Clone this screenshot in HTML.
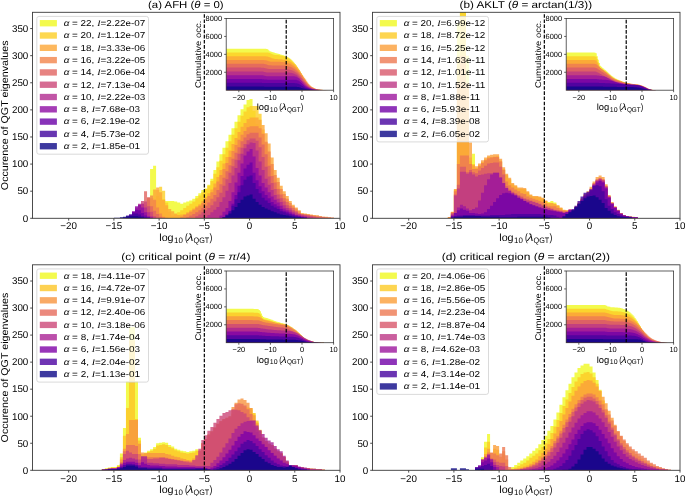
<!DOCTYPE html>
<html><head><meta charset="utf-8"><style>html,body{margin:0;padding:0;background:#fff;}svg{display:block;will-change:transform;}</style></head><body>
<svg width="685" height="496" viewBox="0 0 685 496" font-family='"Liberation Sans", sans-serif' fill="#000000" text-rendering="geometricPrecision">
<rect width="685" height="496" fill="#ffffff"/>
<clipPath id="clipa"><rect x="32.50" y="12.30" width="307.50" height="206.00"/></clipPath>
<g clip-path="url(#clipa)">
<path d="M32.50,218.30L32.50,218.30L35.51,218.30L35.51,218.30L38.53,218.30L38.53,218.30L41.54,218.30L41.54,218.30L44.56,218.30L44.56,218.30L47.57,218.30L47.57,218.30L50.59,218.30L50.59,218.30L53.60,218.30L53.60,218.30L56.62,218.30L56.62,218.30L59.63,218.30L59.63,218.30L62.65,218.30L62.65,218.30L65.66,218.30L65.66,218.30L68.68,218.30L68.68,218.30L71.69,218.30L71.69,218.30L74.71,218.30L74.71,218.30L77.72,218.30L77.72,218.30L80.74,218.30L80.74,218.30L83.75,218.30L83.75,218.30L86.76,218.30L86.76,218.30L89.78,218.30L89.78,218.30L92.79,218.30L92.79,218.30L95.81,218.30L95.81,218.30L98.82,218.30L98.82,218.30L101.84,218.30L101.84,218.30L104.85,218.30L104.85,218.30L107.87,218.30L107.87,218.30L110.88,218.30L110.88,218.30L113.90,218.30L113.90,218.30L116.91,218.30L116.91,218.30L119.93,218.30L119.93,218.30L122.94,218.30L122.94,218.30L125.96,218.30L125.96,218.30L128.97,218.30L128.97,218.30L131.99,218.30L131.99,218.30L135.00,218.30L135.00,218.30L138.01,218.30L138.01,218.30L141.03,218.30L141.03,218.30L144.04,218.30L144.04,207.46L147.06,207.46L147.06,198.24L150.07,198.24L150.07,168.97L153.09,168.97L153.09,165.72L156.10,165.72L156.10,196.07L159.12,196.07L159.12,197.70L162.13,197.70L162.13,199.33L165.15,199.33L165.15,200.95L168.16,200.95L168.16,200.95L171.18,200.95L171.18,200.95L174.19,200.95L174.19,201.49L177.21,201.49L177.21,202.58L180.22,202.58L180.22,203.66L183.24,203.66L183.24,202.58L186.25,202.58L186.25,201.49L189.26,201.49L189.26,200.41L192.28,200.41L192.28,198.78L195.29,198.78L195.29,196.07L198.31,196.07L198.31,193.36L201.32,193.36L201.32,190.11L204.34,190.11L204.34,188.48L207.35,188.48L207.35,184.69L210.37,184.69L210.37,178.73L213.38,178.73L213.38,170.05L216.40,170.05L216.40,161.38L219.41,161.38L219.41,154.33L222.43,154.33L222.43,147.83L225.44,147.83L225.44,141.32L228.46,141.32L228.46,134.82L231.47,134.82L231.47,128.31L234.49,128.31L234.49,121.81L237.50,121.81L237.50,115.30L240.51,115.30L240.51,109.34L243.53,109.34L243.53,104.46L246.54,104.46L246.54,100.12L249.56,100.12L249.56,99.04L252.57,99.04L252.57,110.96L255.59,110.96L255.59,123.97L258.60,123.97L258.60,136.98L261.62,136.98L261.62,149.45L264.63,149.45L264.63,161.38L267.65,161.38L267.65,171.14L270.66,171.14L270.66,180.89L273.68,180.89L273.68,189.03L276.69,189.03L276.69,196.07L279.71,196.07L279.71,202.04L282.72,202.04L282.72,205.29L285.74,205.29L285.74,208.54L288.75,208.54L288.75,211.79L291.76,211.79L291.76,213.42L294.78,213.42L294.78,215.05L297.79,215.05L297.79,216.13L300.81,216.13L300.81,217.22L303.82,217.22L303.82,218.30L306.84,218.30L306.84,218.30L309.85,218.30L309.85,218.30L312.87,218.30L312.87,218.30L315.88,218.30L315.88,218.30L318.90,218.30L318.90,218.30L321.91,218.30L321.91,218.30L324.93,218.30L324.93,218.30L327.94,218.30L327.94,218.30L330.96,218.30L330.96,218.30L333.97,218.30L333.97,218.30L336.99,218.30L336.99,218.30L340.00,218.30L340.00,218.30Z" fill="#f0f921" fill-opacity="0.8"/>
<path d="M32.50,218.30L32.50,218.30L35.51,218.30L35.51,218.30L38.53,218.30L38.53,218.30L41.54,218.30L41.54,218.30L44.56,218.30L44.56,218.30L47.57,218.30L47.57,218.30L50.59,218.30L50.59,218.30L53.60,218.30L53.60,218.30L56.62,218.30L56.62,218.30L59.63,218.30L59.63,218.30L62.65,218.30L62.65,218.30L65.66,218.30L65.66,218.30L68.68,218.30L68.68,218.30L71.69,218.30L71.69,218.30L74.71,218.30L74.71,218.30L77.72,218.30L77.72,218.30L80.74,218.30L80.74,218.30L83.75,218.30L83.75,218.30L86.76,218.30L86.76,218.30L89.78,218.30L89.78,218.30L92.79,218.30L92.79,218.30L95.81,218.30L95.81,218.30L98.82,218.30L98.82,218.30L101.84,218.30L101.84,218.30L104.85,218.30L104.85,218.30L107.87,218.30L107.87,218.30L110.88,218.30L110.88,218.30L113.90,218.30L113.90,218.30L116.91,218.30L116.91,218.30L119.93,218.30L119.93,218.30L122.94,218.30L122.94,218.30L125.96,218.30L125.96,218.30L128.97,218.30L128.97,218.30L131.99,218.30L131.99,218.30L135.00,218.30L135.00,218.30L138.01,218.30L138.01,218.30L141.03,218.30L141.03,218.30L144.04,218.30L144.04,217.76L147.06,217.76L147.06,216.13L150.07,216.13L150.07,210.71L153.09,210.71L153.09,200.95L156.10,200.95L156.10,190.11L159.12,190.11L159.12,186.86L162.13,186.86L162.13,190.65L165.15,190.65L165.15,202.58L168.16,202.58L168.16,211.79L171.18,211.79L171.18,215.59L174.19,215.59L174.19,214.51L177.21,214.51L177.21,212.34L180.22,212.34L180.22,210.17L183.24,210.17L183.24,208.00L186.25,208.00L186.25,205.83L189.26,205.83L189.26,203.66L192.28,203.66L192.28,201.49L195.29,201.49L195.29,198.24L198.31,198.24L198.31,195.53L201.32,195.53L201.32,192.28L204.34,192.28L204.34,189.03L207.35,189.03L207.35,185.77L210.37,185.77L210.37,180.89L213.38,180.89L213.38,173.85L216.40,173.85L216.40,167.34L219.41,167.34L219.41,160.84L222.43,160.84L222.43,154.33L225.44,154.33L225.44,147.83L228.46,147.83L228.46,141.32L231.47,141.32L231.47,134.82L234.49,134.82L234.49,128.31L237.50,128.31L237.50,121.81L240.51,121.81L240.51,115.84L243.53,115.84L243.53,111.51L246.54,111.51L246.54,107.17L249.56,107.17L249.56,106.08L252.57,106.08L252.57,106.08L255.59,106.08L255.59,106.08L258.60,106.08L258.60,113.67L261.62,113.67L261.62,129.39L264.63,129.39L264.63,143.49L267.65,143.49L267.65,157.04L270.66,157.04L270.66,168.43L273.68,168.43L273.68,179.27L276.69,179.27L276.69,187.94L279.71,187.94L279.71,194.45L282.72,194.45L282.72,200.95L285.74,200.95L285.74,204.21L288.75,204.21L288.75,207.46L291.76,207.46L291.76,210.71L294.78,210.71L294.78,212.88L297.79,212.88L297.79,214.51L300.81,214.51L300.81,215.59L303.82,215.59L303.82,216.67L306.84,216.67L306.84,218.30L309.85,218.30L309.85,218.30L312.87,218.30L312.87,218.30L315.88,218.30L315.88,218.30L318.90,218.30L318.90,218.30L321.91,218.30L321.91,218.30L324.93,218.30L324.93,218.30L327.94,218.30L327.94,218.30L330.96,218.30L330.96,218.30L333.97,218.30L333.97,218.30L336.99,218.30L336.99,218.30L340.00,218.30L340.00,218.30Z" fill="#fcce25" fill-opacity="0.8"/>
<path d="M32.50,218.30L32.50,218.30L35.51,218.30L35.51,218.30L38.53,218.30L38.53,218.30L41.54,218.30L41.54,218.30L44.56,218.30L44.56,218.30L47.57,218.30L47.57,218.30L50.59,218.30L50.59,218.30L53.60,218.30L53.60,218.30L56.62,218.30L56.62,218.30L59.63,218.30L59.63,218.30L62.65,218.30L62.65,218.30L65.66,218.30L65.66,218.30L68.68,218.30L68.68,218.30L71.69,218.30L71.69,218.30L74.71,218.30L74.71,218.30L77.72,218.30L77.72,218.30L80.74,218.30L80.74,218.30L83.75,218.30L83.75,218.30L86.76,218.30L86.76,218.30L89.78,218.30L89.78,218.30L92.79,218.30L92.79,218.30L95.81,218.30L95.81,218.30L98.82,218.30L98.82,218.30L101.84,218.30L101.84,218.30L104.85,218.30L104.85,218.30L107.87,218.30L107.87,218.30L110.88,218.30L110.88,218.30L113.90,218.30L113.90,218.30L116.91,218.30L116.91,218.30L119.93,218.30L119.93,218.30L122.94,218.30L122.94,218.30L125.96,218.30L125.96,218.30L128.97,218.30L128.97,218.30L131.99,218.30L131.99,218.30L135.00,218.30L135.00,218.30L138.01,218.30L138.01,218.30L141.03,218.30L141.03,217.22L144.04,217.22L144.04,214.51L147.06,214.51L147.06,208.00L150.07,208.00L150.07,198.24L153.09,198.24L153.09,189.57L156.10,189.57L156.10,187.40L159.12,187.40L159.12,192.28L162.13,192.28L162.13,199.87L165.15,199.87L165.15,205.29L168.16,205.29L168.16,209.08L171.18,209.08L171.18,211.25L174.19,211.25L174.19,213.42L177.21,213.42L177.21,215.05L180.22,215.05L180.22,214.51L183.24,214.51L183.24,213.96L186.25,213.96L186.25,212.34L189.26,212.34L189.26,210.17L192.28,210.17L192.28,208.54L195.29,208.54L195.29,206.37L198.31,206.37L198.31,204.21L201.32,204.21L201.32,200.95L204.34,200.95L204.34,197.16L207.35,197.16L207.35,193.36L210.37,193.36L210.37,189.57L213.38,189.57L213.38,183.61L216.40,183.61L216.40,177.10L219.41,177.10L219.41,170.05L222.43,170.05L222.43,163.55L225.44,163.55L225.44,157.04L228.46,157.04L228.46,150.54L231.47,150.54L231.47,144.03L234.49,144.03L234.49,138.07L237.50,138.07L237.50,132.11L240.51,132.11L240.51,126.68L243.53,126.68L243.53,122.89L246.54,122.89L246.54,119.09L249.56,119.09L249.56,117.47L252.57,117.47L252.57,117.47L255.59,117.47L255.59,117.47L258.60,117.47L258.60,119.64L261.62,119.64L261.62,125.06L264.63,125.06L264.63,133.19L267.65,133.19L267.65,143.49L270.66,143.49L270.66,157.58L273.68,157.58L273.68,170.05L276.69,170.05L276.69,177.64L279.71,177.64L279.71,185.77L282.72,185.77L282.72,191.19L285.74,191.19L285.74,196.07L288.75,196.07L288.75,200.95L291.76,200.95L291.76,204.75L294.78,204.75L294.78,207.46L297.79,207.46L297.79,210.17L300.81,210.17L300.81,212.88L303.82,212.88L303.82,213.42L306.84,213.42L306.84,213.96L309.85,213.96L309.85,214.51L312.87,214.51L312.87,215.05L315.88,215.05L315.88,215.59L318.90,215.59L318.90,216.13L321.91,216.13L321.91,216.67L324.93,216.67L324.93,216.67L327.94,216.67L327.94,217.22L330.96,217.22L330.96,217.76L333.97,217.76L333.97,218.30L336.99,218.30L336.99,218.30L340.00,218.30L340.00,218.30Z" fill="#fca636" fill-opacity="0.8"/>
<path d="M32.50,218.30L32.50,218.30L35.51,218.30L35.51,218.30L38.53,218.30L38.53,218.30L41.54,218.30L41.54,218.30L44.56,218.30L44.56,218.30L47.57,218.30L47.57,218.30L50.59,218.30L50.59,218.30L53.60,218.30L53.60,218.30L56.62,218.30L56.62,218.30L59.63,218.30L59.63,218.30L62.65,218.30L62.65,218.30L65.66,218.30L65.66,218.30L68.68,218.30L68.68,218.30L71.69,218.30L71.69,218.30L74.71,218.30L74.71,218.30L77.72,218.30L77.72,218.30L80.74,218.30L80.74,218.30L83.75,218.30L83.75,218.30L86.76,218.30L86.76,218.30L89.78,218.30L89.78,218.30L92.79,218.30L92.79,218.30L95.81,218.30L95.81,218.30L98.82,218.30L98.82,218.30L101.84,218.30L101.84,218.30L104.85,218.30L104.85,218.30L107.87,218.30L107.87,218.30L110.88,218.30L110.88,218.30L113.90,218.30L113.90,218.30L116.91,218.30L116.91,218.30L119.93,218.30L119.93,218.30L122.94,218.30L122.94,218.30L125.96,218.30L125.96,218.30L128.97,218.30L128.97,218.30L131.99,218.30L131.99,218.30L135.00,218.30L135.00,217.76L138.01,217.76L138.01,215.59L141.03,215.59L141.03,211.25L144.04,211.25L144.04,204.75L147.06,204.75L147.06,197.70L150.07,197.70L150.07,195.53L153.09,195.53L153.09,199.87L156.10,199.87L156.10,207.46L159.12,207.46L159.12,213.42L162.13,213.42L162.13,216.67L165.15,216.67L165.15,217.76L168.16,217.76L168.16,218.30L171.18,218.30L171.18,218.30L174.19,218.30L174.19,218.30L177.21,218.30L177.21,218.30L180.22,218.30L180.22,216.67L183.24,216.67L183.24,215.05L186.25,215.05L186.25,213.42L189.26,213.42L189.26,211.79L192.28,211.79L192.28,209.63L195.29,209.63L195.29,207.46L198.31,207.46L198.31,205.83L201.32,205.83L201.32,203.12L204.34,203.12L204.34,199.33L207.35,199.33L207.35,196.07L210.37,196.07L210.37,192.28L213.38,192.28L213.38,187.40L216.40,187.40L216.40,181.44L219.41,181.44L219.41,174.93L222.43,174.93L222.43,168.97L225.44,168.97L225.44,163.01L228.46,163.01L228.46,157.04L231.47,157.04L231.47,151.08L234.49,151.08L234.49,145.12L237.50,145.12L237.50,139.69L240.51,139.69L240.51,134.82L243.53,134.82L243.53,131.02L246.54,131.02L246.54,127.23L249.56,127.23L249.56,126.14L252.57,126.14L252.57,126.14L255.59,126.14L255.59,126.14L258.60,126.14L258.60,128.31L261.62,128.31L261.62,133.73L264.63,133.73L264.63,141.86L267.65,141.86L267.65,151.62L270.66,151.62L270.66,164.09L273.68,164.09L273.68,174.93L276.69,174.93L276.69,181.98L279.71,181.98L279.71,189.03L282.72,189.03L282.72,193.91L285.74,193.91L285.74,198.78L288.75,198.78L288.75,203.12L291.76,203.12L291.76,206.37L294.78,206.37L294.78,208.54L297.79,208.54L297.79,211.25L300.81,211.25L300.81,213.96L303.82,213.96L303.82,213.96L306.84,213.96L306.84,214.51L309.85,214.51L309.85,215.05L312.87,215.05L312.87,215.59L315.88,215.59L315.88,215.59L318.90,215.59L318.90,216.13L321.91,216.13L321.91,216.67L324.93,216.67L324.93,217.22L327.94,217.22L327.94,217.76L330.96,217.76L330.96,217.76L333.97,217.76L333.97,218.30L336.99,218.30L336.99,218.30L340.00,218.30L340.00,218.30Z" fill="#f2844b" fill-opacity="0.8"/>
<path d="M32.50,218.30L32.50,218.30L35.51,218.30L35.51,218.30L38.53,218.30L38.53,218.30L41.54,218.30L41.54,218.30L44.56,218.30L44.56,218.30L47.57,218.30L47.57,218.30L50.59,218.30L50.59,218.30L53.60,218.30L53.60,218.30L56.62,218.30L56.62,218.30L59.63,218.30L59.63,218.30L62.65,218.30L62.65,218.30L65.66,218.30L65.66,218.30L68.68,218.30L68.68,218.30L71.69,218.30L71.69,218.30L74.71,218.30L74.71,218.30L77.72,218.30L77.72,218.30L80.74,218.30L80.74,218.30L83.75,218.30L83.75,218.30L86.76,218.30L86.76,218.30L89.78,218.30L89.78,218.30L92.79,218.30L92.79,218.30L95.81,218.30L95.81,218.30L98.82,218.30L98.82,218.30L101.84,218.30L101.84,218.30L104.85,218.30L104.85,218.30L107.87,218.30L107.87,218.30L110.88,218.30L110.88,218.30L113.90,218.30L113.90,218.30L116.91,218.30L116.91,218.30L119.93,218.30L119.93,218.30L122.94,218.30L122.94,218.30L125.96,218.30L125.96,218.30L128.97,218.30L128.97,218.30L131.99,218.30L131.99,218.30L135.00,218.30L135.00,217.76L138.01,217.76L138.01,215.05L141.03,215.05L141.03,203.66L144.04,203.66L144.04,191.19L147.06,191.19L147.06,197.16L150.07,197.16L150.07,206.37L153.09,206.37L153.09,210.71L156.10,210.71L156.10,213.96L159.12,213.96L159.12,216.67L162.13,216.67L162.13,217.76L165.15,217.76L165.15,218.30L168.16,218.30L168.16,218.30L171.18,218.30L171.18,218.30L174.19,218.30L174.19,218.30L177.21,218.30L177.21,218.30L180.22,218.30L180.22,218.30L183.24,218.30L183.24,218.30L186.25,218.30L186.25,217.22L189.26,217.22L189.26,215.59L192.28,215.59L192.28,213.96L195.29,213.96L195.29,212.34L198.31,212.34L198.31,210.17L201.32,210.17L201.32,208.00L204.34,208.00L204.34,205.83L207.35,205.83L207.35,202.58L210.37,202.58L210.37,198.78L213.38,198.78L213.38,194.99L216.40,194.99L216.40,190.11L219.41,190.11L219.41,184.15L222.43,184.15L222.43,177.64L225.44,177.64L225.44,171.14L228.46,171.14L228.46,165.17L231.47,165.17L231.47,158.67L234.49,158.67L234.49,152.71L237.50,152.71L237.50,147.28L240.51,147.28L240.51,141.32L243.53,141.32L243.53,137.53L246.54,137.53L246.54,134.27L249.56,134.27L249.56,132.65L252.57,132.65L252.57,132.65L255.59,132.65L255.59,132.65L258.60,132.65L258.60,137.53L261.62,137.53L261.62,144.57L264.63,144.57L264.63,154.33L267.65,154.33L267.65,165.72L270.66,165.72L270.66,176.02L273.68,176.02L273.68,182.52L276.69,182.52L276.69,189.03L279.71,189.03L279.71,194.45L282.72,194.45L282.72,198.24L285.74,198.24L285.74,202.04L288.75,202.04L288.75,205.83L291.76,205.83L291.76,208.00L294.78,208.00L294.78,210.71L297.79,210.71L297.79,212.88L300.81,212.88L300.81,213.96L303.82,213.96L303.82,214.51L306.84,214.51L306.84,215.05L309.85,215.05L309.85,215.59L312.87,215.59L312.87,216.13L315.88,216.13L315.88,216.67L318.90,216.67L318.90,216.67L321.91,216.67L321.91,217.22L324.93,217.22L324.93,217.76L327.94,217.76L327.94,217.76L330.96,217.76L330.96,217.76L333.97,217.76L333.97,218.30L336.99,218.30L336.99,218.30L340.00,218.30L340.00,218.30Z" fill="#e16462" fill-opacity="0.8"/>
<path d="M32.50,218.30L32.50,218.30L35.51,218.30L35.51,218.30L38.53,218.30L38.53,218.30L41.54,218.30L41.54,218.30L44.56,218.30L44.56,218.30L47.57,218.30L47.57,218.30L50.59,218.30L50.59,218.30L53.60,218.30L53.60,218.30L56.62,218.30L56.62,218.30L59.63,218.30L59.63,218.30L62.65,218.30L62.65,218.30L65.66,218.30L65.66,218.30L68.68,218.30L68.68,218.30L71.69,218.30L71.69,218.30L74.71,218.30L74.71,218.30L77.72,218.30L77.72,218.30L80.74,218.30L80.74,218.30L83.75,218.30L83.75,218.30L86.76,218.30L86.76,218.30L89.78,218.30L89.78,218.30L92.79,218.30L92.79,218.30L95.81,218.30L95.81,218.30L98.82,218.30L98.82,218.30L101.84,218.30L101.84,218.30L104.85,218.30L104.85,218.30L107.87,218.30L107.87,218.30L110.88,218.30L110.88,218.30L113.90,218.30L113.90,218.30L116.91,218.30L116.91,218.30L119.93,218.30L119.93,218.30L122.94,218.30L122.94,218.30L125.96,218.30L125.96,218.30L128.97,218.30L128.97,217.22L131.99,217.22L131.99,215.05L135.00,215.05L135.00,210.71L138.01,210.71L138.01,205.29L141.03,205.29L141.03,200.95L144.04,200.95L144.04,201.49L147.06,201.49L147.06,206.37L150.07,206.37L150.07,211.79L153.09,211.79L153.09,216.13L156.10,216.13L156.10,217.76L159.12,217.76L159.12,218.30L162.13,218.30L162.13,218.30L165.15,218.30L165.15,218.30L168.16,218.30L168.16,218.30L171.18,218.30L171.18,218.30L174.19,218.30L174.19,218.30L177.21,218.30L177.21,218.30L180.22,218.30L180.22,218.30L183.24,218.30L183.24,218.30L186.25,218.30L186.25,218.30L189.26,218.30L189.26,218.30L192.28,218.30L192.28,218.30L195.29,218.30L195.29,216.13L198.31,216.13L198.31,214.51L201.32,214.51L201.32,212.34L204.34,212.34L204.34,210.17L207.35,210.17L207.35,208.00L210.37,208.00L210.37,205.29L213.38,205.29L213.38,201.49L216.40,201.49L216.40,197.16L219.41,197.16L219.41,192.82L222.43,192.82L222.43,185.77L225.44,185.77L225.44,179.27L228.46,179.27L228.46,172.76L231.47,172.76L231.47,166.26L234.49,166.26L234.49,159.75L237.50,159.75L237.50,153.79L240.51,153.79L240.51,147.83L243.53,147.83L243.53,144.03L246.54,144.03L246.54,140.24L249.56,140.24L249.56,138.61L252.57,138.61L252.57,138.61L255.59,138.61L255.59,140.78L258.60,140.78L258.60,147.28L261.62,147.28L261.62,157.04L264.63,157.04L264.63,166.80L267.65,166.80L267.65,176.56L270.66,176.56L270.66,183.06L273.68,183.06L273.68,189.03L276.69,189.03L276.69,194.45L279.71,194.45L279.71,198.24L282.72,198.24L282.72,201.49L285.74,201.49L285.74,205.29L288.75,205.29L288.75,208.00L291.76,208.00L291.76,210.17L294.78,210.17L294.78,211.79L297.79,211.79L297.79,213.96L300.81,213.96L300.81,214.51L303.82,214.51L303.82,215.05L306.84,215.05L306.84,215.59L309.85,215.59L309.85,216.13L312.87,216.13L312.87,216.67L315.88,216.67L315.88,217.22L318.90,217.22L318.90,217.76L321.91,217.76L321.91,217.76L324.93,217.76L324.93,217.76L327.94,217.76L327.94,217.76L330.96,217.76L330.96,218.30L333.97,218.30L333.97,218.30L336.99,218.30L336.99,218.30L340.00,218.30L340.00,218.30Z" fill="#cc4778" fill-opacity="0.8"/>
<path d="M32.50,218.30L32.50,218.30L35.51,218.30L35.51,218.30L38.53,218.30L38.53,218.30L41.54,218.30L41.54,218.30L44.56,218.30L44.56,218.30L47.57,218.30L47.57,218.30L50.59,218.30L50.59,218.30L53.60,218.30L53.60,218.30L56.62,218.30L56.62,218.30L59.63,218.30L59.63,218.30L62.65,218.30L62.65,218.30L65.66,218.30L65.66,218.30L68.68,218.30L68.68,218.30L71.69,218.30L71.69,218.30L74.71,218.30L74.71,218.30L77.72,218.30L77.72,218.30L80.74,218.30L80.74,218.30L83.75,218.30L83.75,218.30L86.76,218.30L86.76,218.30L89.78,218.30L89.78,218.30L92.79,218.30L92.79,218.30L95.81,218.30L95.81,218.30L98.82,218.30L98.82,218.30L101.84,218.30L101.84,218.30L104.85,218.30L104.85,218.30L107.87,218.30L107.87,218.30L110.88,218.30L110.88,218.30L113.90,218.30L113.90,218.30L116.91,218.30L116.91,218.30L119.93,218.30L119.93,218.30L122.94,218.30L122.94,218.30L125.96,218.30L125.96,217.76L128.97,217.76L128.97,216.13L131.99,216.13L131.99,212.34L135.00,212.34L135.00,207.46L138.01,207.46L138.01,203.66L141.03,203.66L141.03,203.66L144.04,203.66L144.04,207.46L147.06,207.46L147.06,212.34L150.07,212.34L150.07,216.13L153.09,216.13L153.09,217.76L156.10,217.76L156.10,218.30L159.12,218.30L159.12,218.30L162.13,218.30L162.13,218.30L165.15,218.30L165.15,218.30L168.16,218.30L168.16,218.30L171.18,218.30L171.18,218.30L174.19,218.30L174.19,218.30L177.21,218.30L177.21,218.30L180.22,218.30L180.22,218.30L183.24,218.30L183.24,218.30L186.25,218.30L186.25,218.30L189.26,218.30L189.26,218.30L192.28,218.30L192.28,218.30L195.29,218.30L195.29,218.30L198.31,218.30L198.31,218.30L201.32,218.30L201.32,218.30L204.34,218.30L204.34,217.22L207.35,217.22L207.35,215.05L210.37,215.05L210.37,212.34L213.38,212.34L213.38,209.63L216.40,209.63L216.40,206.92L219.41,206.92L219.41,202.04L222.43,202.04L222.43,197.16L225.44,197.16L225.44,190.65L228.46,190.65L228.46,183.06L231.47,183.06L231.47,175.47L234.49,175.47L234.49,167.88L237.50,167.88L237.50,160.29L240.51,160.29L240.51,153.79L243.53,153.79L243.53,148.37L246.54,148.37L246.54,144.57L249.56,144.57L249.56,142.41L252.57,142.41L252.57,142.95L255.59,142.95L255.59,150.54L258.60,150.54L258.60,161.38L261.62,161.38L261.62,170.05L264.63,170.05L264.63,178.73L267.65,178.73L267.65,184.69L270.66,184.69L270.66,190.11L273.68,190.11L273.68,194.99L276.69,194.99L276.69,198.78L279.71,198.78L279.71,202.04L282.72,202.04L282.72,205.29L285.74,205.29L285.74,208.00L288.75,208.00L288.75,209.63L291.76,209.63L291.76,211.79L294.78,211.79L294.78,213.42L297.79,213.42L297.79,214.51L300.81,214.51L300.81,215.59L303.82,215.59L303.82,216.13L306.84,216.13L306.84,216.67L309.85,216.67L309.85,217.22L312.87,217.22L312.87,217.76L315.88,217.76L315.88,218.30L318.90,218.30L318.90,218.30L321.91,218.30L321.91,218.30L324.93,218.30L324.93,218.30L327.94,218.30L327.94,218.30L330.96,218.30L330.96,218.30L333.97,218.30L333.97,218.30L336.99,218.30L336.99,218.30L340.00,218.30L340.00,218.30Z" fill="#b12a90" fill-opacity="0.8"/>
<path d="M32.50,218.30L32.50,218.30L35.51,218.30L35.51,218.30L38.53,218.30L38.53,218.30L41.54,218.30L41.54,218.30L44.56,218.30L44.56,218.30L47.57,218.30L47.57,218.30L50.59,218.30L50.59,218.30L53.60,218.30L53.60,218.30L56.62,218.30L56.62,218.30L59.63,218.30L59.63,218.30L62.65,218.30L62.65,218.30L65.66,218.30L65.66,218.30L68.68,218.30L68.68,218.30L71.69,218.30L71.69,218.30L74.71,218.30L74.71,218.30L77.72,218.30L77.72,218.30L80.74,218.30L80.74,218.30L83.75,218.30L83.75,218.30L86.76,218.30L86.76,218.30L89.78,218.30L89.78,218.30L92.79,218.30L92.79,218.30L95.81,218.30L95.81,218.30L98.82,218.30L98.82,218.30L101.84,218.30L101.84,218.30L104.85,218.30L104.85,218.30L107.87,218.30L107.87,218.30L110.88,218.30L110.88,218.30L113.90,218.30L113.90,218.30L116.91,218.30L116.91,218.30L119.93,218.30L119.93,218.30L122.94,218.30L122.94,218.30L125.96,218.30L125.96,217.22L128.97,217.22L128.97,215.59L131.99,215.59L131.99,211.25L135.00,211.25L135.00,206.37L138.01,206.37L138.01,204.75L141.03,204.75L141.03,207.46L144.04,207.46L144.04,212.34L147.06,212.34L147.06,216.13L150.07,216.13L150.07,217.76L153.09,217.76L153.09,218.30L156.10,218.30L156.10,218.30L159.12,218.30L159.12,218.30L162.13,218.30L162.13,218.30L165.15,218.30L165.15,218.30L168.16,218.30L168.16,218.30L171.18,218.30L171.18,218.30L174.19,218.30L174.19,218.30L177.21,218.30L177.21,218.30L180.22,218.30L180.22,218.30L183.24,218.30L183.24,218.30L186.25,218.30L186.25,218.30L189.26,218.30L189.26,218.30L192.28,218.30L192.28,218.30L195.29,218.30L195.29,218.30L198.31,218.30L198.31,218.30L201.32,218.30L201.32,218.30L204.34,218.30L204.34,218.30L207.35,218.30L207.35,218.30L210.37,218.30L210.37,218.30L213.38,218.30L213.38,218.30L216.40,218.30L216.40,218.30L219.41,218.30L219.41,215.59L222.43,215.59L222.43,211.79L225.44,211.79L225.44,208.00L228.46,208.00L228.46,200.95L231.47,200.95L231.47,192.28L234.49,192.28L234.49,182.52L237.50,182.52L237.50,172.76L240.51,172.76L240.51,163.55L243.53,163.55L243.53,155.42L246.54,155.42L246.54,151.62L249.56,151.62L249.56,148.91L252.57,148.91L252.57,156.50L255.59,156.50L255.59,167.88L258.60,167.88L258.60,175.47L261.62,175.47L261.62,183.06L264.63,183.06L264.63,187.40L267.65,187.40L267.65,192.28L270.66,192.28L270.66,196.62L273.68,196.62L273.68,199.87L276.69,199.87L276.69,202.58L279.71,202.58L279.71,205.83L282.72,205.83L282.72,208.54L285.74,208.54L285.74,210.17L288.75,210.17L288.75,211.79L291.76,211.79L291.76,213.42L294.78,213.42L294.78,215.05L297.79,215.05L297.79,215.59L300.81,215.59L300.81,216.13L303.82,216.13L303.82,216.67L306.84,216.67L306.84,217.76L309.85,217.76L309.85,218.30L312.87,218.30L312.87,218.30L315.88,218.30L315.88,218.30L318.90,218.30L318.90,218.30L321.91,218.30L321.91,218.30L324.93,218.30L324.93,218.30L327.94,218.30L327.94,218.30L330.96,218.30L330.96,218.30L333.97,218.30L333.97,218.30L336.99,218.30L336.99,218.30L340.00,218.30L340.00,218.30Z" fill="#8f0da4" fill-opacity="0.8"/>
<path d="M32.50,218.30L32.50,218.30L35.51,218.30L35.51,218.30L38.53,218.30L38.53,218.30L41.54,218.30L41.54,218.30L44.56,218.30L44.56,218.30L47.57,218.30L47.57,218.30L50.59,218.30L50.59,218.30L53.60,218.30L53.60,218.30L56.62,218.30L56.62,218.30L59.63,218.30L59.63,218.30L62.65,218.30L62.65,218.30L65.66,218.30L65.66,218.30L68.68,218.30L68.68,218.30L71.69,218.30L71.69,218.30L74.71,218.30L74.71,218.30L77.72,218.30L77.72,218.30L80.74,218.30L80.74,218.30L83.75,218.30L83.75,218.30L86.76,218.30L86.76,218.30L89.78,218.30L89.78,218.30L92.79,218.30L92.79,218.30L95.81,218.30L95.81,218.30L98.82,218.30L98.82,218.30L101.84,218.30L101.84,218.30L104.85,218.30L104.85,218.30L107.87,218.30L107.87,218.30L110.88,218.30L110.88,218.30L113.90,218.30L113.90,218.30L116.91,218.30L116.91,218.30L119.93,218.30L119.93,218.30L122.94,218.30L122.94,217.76L125.96,217.76L125.96,216.67L128.97,216.67L128.97,214.51L131.99,214.51L131.99,211.79L135.00,211.79L135.00,209.63L138.01,209.63L138.01,210.17L141.03,210.17L141.03,212.88L144.04,212.88L144.04,215.59L147.06,215.59L147.06,217.22L150.07,217.22L150.07,217.76L153.09,217.76L153.09,218.30L156.10,218.30L156.10,218.30L159.12,218.30L159.12,218.30L162.13,218.30L162.13,218.30L165.15,218.30L165.15,218.30L168.16,218.30L168.16,218.30L171.18,218.30L171.18,218.30L174.19,218.30L174.19,218.30L177.21,218.30L177.21,218.30L180.22,218.30L180.22,218.30L183.24,218.30L183.24,218.30L186.25,218.30L186.25,218.30L189.26,218.30L189.26,218.30L192.28,218.30L192.28,218.30L195.29,218.30L195.29,218.30L198.31,218.30L198.31,218.30L201.32,218.30L201.32,218.30L204.34,218.30L204.34,218.30L207.35,218.30L207.35,218.30L210.37,218.30L210.37,218.30L213.38,218.30L213.38,218.30L216.40,218.30L216.40,218.30L219.41,218.30L219.41,218.30L222.43,218.30L222.43,217.76L225.44,217.76L225.44,215.05L228.46,215.05L228.46,210.71L231.47,210.71L231.47,203.66L234.49,203.66L234.49,194.99L237.50,194.99L237.50,185.77L240.51,185.77L240.51,176.02L243.53,176.02L243.53,168.43L246.54,168.43L246.54,164.63L249.56,164.63L249.56,162.46L252.57,162.46L252.57,172.76L255.59,172.76L255.59,180.35L258.60,180.35L258.60,186.32L261.62,186.32L261.62,191.19L264.63,191.19L264.63,194.99L267.65,194.99L267.65,198.24L270.66,198.24L270.66,202.04L273.68,202.04L273.68,204.21L276.69,204.21L276.69,206.37L279.71,206.37L279.71,209.08L282.72,209.08L282.72,210.71L285.74,210.71L285.74,211.79L288.75,211.79L288.75,213.42L291.76,213.42L291.76,214.51L294.78,214.51L294.78,215.59L297.79,215.59L297.79,216.13L300.81,216.13L300.81,217.22L303.82,217.22L303.82,217.76L306.84,217.76L306.84,218.30L309.85,218.30L309.85,218.30L312.87,218.30L312.87,218.30L315.88,218.30L315.88,218.30L318.90,218.30L318.90,218.30L321.91,218.30L321.91,218.30L324.93,218.30L324.93,218.30L327.94,218.30L327.94,218.30L330.96,218.30L330.96,218.30L333.97,218.30L333.97,218.30L336.99,218.30L336.99,218.30L340.00,218.30L340.00,218.30Z" fill="#6a00a8" fill-opacity="0.8"/>
<path d="M32.50,218.30L32.50,218.30L35.51,218.30L35.51,218.30L38.53,218.30L38.53,218.30L41.54,218.30L41.54,218.30L44.56,218.30L44.56,218.30L47.57,218.30L47.57,218.30L50.59,218.30L50.59,218.30L53.60,218.30L53.60,218.30L56.62,218.30L56.62,218.30L59.63,218.30L59.63,218.30L62.65,218.30L62.65,218.30L65.66,218.30L65.66,218.30L68.68,218.30L68.68,218.30L71.69,218.30L71.69,218.30L74.71,218.30L74.71,218.30L77.72,218.30L77.72,218.30L80.74,218.30L80.74,218.30L83.75,218.30L83.75,218.30L86.76,218.30L86.76,218.30L89.78,218.30L89.78,218.30L92.79,218.30L92.79,218.30L95.81,218.30L95.81,218.30L98.82,218.30L98.82,218.30L101.84,218.30L101.84,218.30L104.85,218.30L104.85,218.30L107.87,218.30L107.87,218.30L110.88,218.30L110.88,218.30L113.90,218.30L113.90,218.30L116.91,218.30L116.91,218.30L119.93,218.30L119.93,217.76L122.94,217.76L122.94,217.22L125.96,217.22L125.96,215.59L128.97,215.59L128.97,214.51L131.99,214.51L131.99,213.42L135.00,213.42L135.00,213.42L138.01,213.42L138.01,214.51L141.03,214.51L141.03,216.13L144.04,216.13L144.04,217.22L147.06,217.22L147.06,217.76L150.07,217.76L150.07,218.30L153.09,218.30L153.09,218.30L156.10,218.30L156.10,218.30L159.12,218.30L159.12,218.30L162.13,218.30L162.13,218.30L165.15,218.30L165.15,218.30L168.16,218.30L168.16,218.30L171.18,218.30L171.18,218.30L174.19,218.30L174.19,218.30L177.21,218.30L177.21,218.30L180.22,218.30L180.22,218.30L183.24,218.30L183.24,218.30L186.25,218.30L186.25,218.30L189.26,218.30L189.26,218.30L192.28,218.30L192.28,218.30L195.29,218.30L195.29,218.30L198.31,218.30L198.31,218.30L201.32,218.30L201.32,218.30L204.34,218.30L204.34,218.30L207.35,218.30L207.35,218.30L210.37,218.30L210.37,218.30L213.38,218.30L213.38,218.30L216.40,218.30L216.40,218.30L219.41,218.30L219.41,218.30L222.43,218.30L222.43,217.22L225.44,217.22L225.44,214.51L228.46,214.51L228.46,211.25L231.47,211.25L231.47,205.83L234.49,205.83L234.49,199.33L237.50,199.33L237.50,192.28L240.51,192.28L240.51,185.23L243.53,185.23L243.53,179.81L246.54,179.81L246.54,176.56L249.56,176.56L249.56,175.47L252.57,175.47L252.57,183.06L255.59,183.06L255.59,189.03L258.60,189.03L258.60,193.36L261.62,193.36L261.62,197.70L264.63,197.70L264.63,200.41L267.65,200.41L267.65,203.12L270.66,203.12L270.66,205.83L273.68,205.83L273.68,207.46L276.69,207.46L276.69,209.08L279.71,209.08L279.71,211.25L282.72,211.25L282.72,212.34L285.74,212.34L285.74,213.42L288.75,213.42L288.75,214.51L291.76,214.51L291.76,215.59L294.78,215.59L294.78,216.13L297.79,216.13L297.79,216.67L300.81,216.67L300.81,217.22L303.82,217.22L303.82,217.76L306.84,217.76L306.84,218.30L309.85,218.30L309.85,218.30L312.87,218.30L312.87,218.30L315.88,218.30L315.88,218.30L318.90,218.30L318.90,218.30L321.91,218.30L321.91,218.30L324.93,218.30L324.93,218.30L327.94,218.30L327.94,218.30L330.96,218.30L330.96,218.30L333.97,218.30L333.97,218.30L336.99,218.30L336.99,218.30L340.00,218.30L340.00,218.30Z" fill="#41049d" fill-opacity="0.8"/>
<path d="M32.50,218.30L32.50,218.30L35.51,218.30L35.51,218.30L38.53,218.30L38.53,218.30L41.54,218.30L41.54,218.30L44.56,218.30L44.56,218.30L47.57,218.30L47.57,218.30L50.59,218.30L50.59,218.30L53.60,218.30L53.60,218.30L56.62,218.30L56.62,218.30L59.63,218.30L59.63,218.30L62.65,218.30L62.65,218.30L65.66,218.30L65.66,218.30L68.68,218.30L68.68,218.30L71.69,218.30L71.69,218.30L74.71,218.30L74.71,218.30L77.72,218.30L77.72,218.30L80.74,218.30L80.74,218.30L83.75,218.30L83.75,218.30L86.76,218.30L86.76,218.30L89.78,218.30L89.78,218.30L92.79,218.30L92.79,218.30L95.81,218.30L95.81,218.30L98.82,218.30L98.82,218.30L101.84,218.30L101.84,218.30L104.85,218.30L104.85,218.30L107.87,218.30L107.87,218.30L110.88,218.30L110.88,218.30L113.90,218.30L113.90,217.76L116.91,217.76L116.91,217.76L119.93,217.76L119.93,217.22L122.94,217.22L122.94,216.67L125.96,216.67L125.96,216.13L128.97,216.13L128.97,216.13L131.99,216.13L131.99,216.13L135.00,216.13L135.00,216.13L138.01,216.13L138.01,216.67L141.03,216.67L141.03,217.22L144.04,217.22L144.04,217.76L147.06,217.76L147.06,217.76L150.07,217.76L150.07,218.30L153.09,218.30L153.09,218.30L156.10,218.30L156.10,218.30L159.12,218.30L159.12,218.30L162.13,218.30L162.13,218.30L165.15,218.30L165.15,218.30L168.16,218.30L168.16,218.30L171.18,218.30L171.18,218.30L174.19,218.30L174.19,218.30L177.21,218.30L177.21,218.30L180.22,218.30L180.22,218.30L183.24,218.30L183.24,218.30L186.25,218.30L186.25,218.30L189.26,218.30L189.26,218.30L192.28,218.30L192.28,218.30L195.29,218.30L195.29,218.30L198.31,218.30L198.31,218.30L201.32,218.30L201.32,218.30L204.34,218.30L204.34,218.30L207.35,218.30L207.35,218.30L210.37,218.30L210.37,218.30L213.38,218.30L213.38,218.30L216.40,218.30L216.40,218.30L219.41,218.30L219.41,218.30L222.43,218.30L222.43,217.22L225.44,217.22L225.44,215.59L228.46,215.59L228.46,213.42L231.47,213.42L231.47,210.17L234.49,210.17L234.49,206.92L237.50,206.92L237.50,203.12L240.51,203.12L240.51,199.87L243.53,199.87L243.53,196.62L246.54,196.62L246.54,195.53L249.56,195.53L249.56,194.45L252.57,194.45L252.57,198.78L255.59,198.78L255.59,202.04L258.60,202.04L258.60,204.75L261.62,204.75L261.62,206.92L264.63,206.92L264.63,208.54L267.65,208.54L267.65,209.63L270.66,209.63L270.66,211.25L273.68,211.25L273.68,212.34L276.69,212.34L276.69,213.42L279.71,213.42L279.71,214.51L282.72,214.51L282.72,215.05L285.74,215.05L285.74,215.59L288.75,215.59L288.75,216.13L291.76,216.13L291.76,216.67L294.78,216.67L294.78,217.22L297.79,217.22L297.79,217.22L300.81,217.22L300.81,217.76L303.82,217.76L303.82,217.76L306.84,217.76L306.84,218.30L309.85,218.30L309.85,218.30L312.87,218.30L312.87,218.30L315.88,218.30L315.88,218.30L318.90,218.30L318.90,218.30L321.91,218.30L321.91,218.30L324.93,218.30L324.93,218.30L327.94,218.30L327.94,218.30L330.96,218.30L330.96,218.30L333.97,218.30L333.97,218.30L336.99,218.30L336.99,218.30L340.00,218.30L340.00,218.30Z" fill="#0d0887" fill-opacity="0.8"/>
<line x1="204.34" y1="218.30" x2="204.34" y2="12.30" stroke="#000" stroke-width="1.2" stroke-dasharray="3.59 1.55"/>
</g>
<rect x="32.50" y="12.30" width="307.50" height="206.00" fill="none" stroke="#3a3a3a" stroke-width="0.9"/>
<line x1="68.68" y1="218.30" x2="68.68" y2="220.60" stroke="#3a3a3a" stroke-width="0.9"/>
<text x="68.68" y="229.00" font-size="9.80" text-anchor="middle">−20</text>
<line x1="113.90" y1="218.30" x2="113.90" y2="220.60" stroke="#3a3a3a" stroke-width="0.9"/>
<text x="113.90" y="229.00" font-size="9.80" text-anchor="middle">−15</text>
<line x1="159.12" y1="218.30" x2="159.12" y2="220.60" stroke="#3a3a3a" stroke-width="0.9"/>
<text x="159.12" y="229.00" font-size="9.80" text-anchor="middle">−10</text>
<line x1="204.34" y1="218.30" x2="204.34" y2="220.60" stroke="#3a3a3a" stroke-width="0.9"/>
<text x="204.34" y="229.00" font-size="9.80" text-anchor="middle">−5</text>
<line x1="249.56" y1="218.30" x2="249.56" y2="220.60" stroke="#3a3a3a" stroke-width="0.9"/>
<text x="249.56" y="229.00" font-size="9.80" text-anchor="middle">0</text>
<line x1="294.78" y1="218.30" x2="294.78" y2="220.60" stroke="#3a3a3a" stroke-width="0.9"/>
<text x="294.78" y="229.00" font-size="9.80" text-anchor="middle">5</text>
<line x1="340.00" y1="218.30" x2="340.00" y2="220.60" stroke="#3a3a3a" stroke-width="0.9"/>
<text x="340.00" y="229.00" font-size="9.80" text-anchor="middle">10</text>
<line x1="30.20" y1="218.30" x2="32.50" y2="218.30" stroke="#3a3a3a" stroke-width="0.9"/>
<text x="28.30" y="221.60" font-size="9.80" text-anchor="end">0</text>
<line x1="30.20" y1="191.19" x2="32.50" y2="191.19" stroke="#3a3a3a" stroke-width="0.9"/>
<text x="28.30" y="194.49" font-size="9.80" text-anchor="end">50</text>
<line x1="30.20" y1="164.09" x2="32.50" y2="164.09" stroke="#3a3a3a" stroke-width="0.9"/>
<text x="28.30" y="167.39" font-size="9.80" text-anchor="end">100</text>
<line x1="30.20" y1="136.98" x2="32.50" y2="136.98" stroke="#3a3a3a" stroke-width="0.9"/>
<text x="28.30" y="140.28" font-size="9.80" text-anchor="end">150</text>
<line x1="30.20" y1="109.88" x2="32.50" y2="109.88" stroke="#3a3a3a" stroke-width="0.9"/>
<text x="28.30" y="113.18" font-size="9.80" text-anchor="end">200</text>
<line x1="30.20" y1="82.77" x2="32.50" y2="82.77" stroke="#3a3a3a" stroke-width="0.9"/>
<text x="28.30" y="86.07" font-size="9.80" text-anchor="end">250</text>
<line x1="30.20" y1="55.67" x2="32.50" y2="55.67" stroke="#3a3a3a" stroke-width="0.9"/>
<text x="28.30" y="58.97" font-size="9.80" text-anchor="end">300</text>
<line x1="30.20" y1="28.56" x2="32.50" y2="28.56" stroke="#3a3a3a" stroke-width="0.9"/>
<text x="28.30" y="31.86" font-size="9.80" text-anchor="end">350</text>
<text x="185.85" y="7.80" font-size="10.00" text-anchor="middle" textLength="75.60" lengthAdjust="spacingAndGlyphs">(a) AFH (<tspan font-style="italic">θ</tspan> = 0)</text>
<text x="159.28" y="241.00" font-size="10.40" textLength="14.34" lengthAdjust="spacingAndGlyphs">log</text>
<text x="174.10" y="242.60" font-size="7.90" textLength="8.79" lengthAdjust="spacingAndGlyphs">10</text>
<text x="184.97" y="241.00" font-size="10.60" textLength="2.76" lengthAdjust="spacingAndGlyphs">(</text>
<text x="187.28" y="241.00" font-size="10.40" font-style="italic" textLength="6.14" lengthAdjust="spacingAndGlyphs">λ</text>
<text x="193.60" y="242.70" font-size="7.90" textLength="15.69" lengthAdjust="spacingAndGlyphs">QGT</text>
<text x="209.47" y="241.00" font-size="10.60" textLength="2.86" lengthAdjust="spacingAndGlyphs">)</text>
<text transform="translate(7.7,115.30) rotate(-90)" font-size="9.9" text-anchor="middle" textLength="149.8" lengthAdjust="spacingAndGlyphs">Occurence of QGT eigenvalues</text>
<rect x="36.80" y="16.40" width="111.70" height="137.80" rx="2.2" fill="#ffffff" fill-opacity="0.8" stroke="#d0d0d0" stroke-width="0.8"/>
<rect x="39.80" y="20.05" width="17.1" height="6.35" fill="#f0f921" fill-opacity="0.8"/>
<text x="63.70" y="26.00" font-size="8.60" text-anchor="start" textLength="81.60" lengthAdjust="spacingAndGlyphs"><tspan font-style="italic">α</tspan> = 22, <tspan font-family='"Liberation Serif", serif' font-style="italic">I</tspan>=2.22e-07</text>
<rect x="39.80" y="32.35" width="17.1" height="6.35" fill="#fcce25" fill-opacity="0.8"/>
<text x="63.70" y="38.30" font-size="8.60" text-anchor="start" textLength="81.60" lengthAdjust="spacingAndGlyphs"><tspan font-style="italic">α</tspan> = 20, <tspan font-family='"Liberation Serif", serif' font-style="italic">I</tspan>=1.12e-07</text>
<rect x="39.80" y="44.65" width="17.1" height="6.35" fill="#fca636" fill-opacity="0.8"/>
<text x="63.70" y="50.60" font-size="8.60" text-anchor="start" textLength="81.60" lengthAdjust="spacingAndGlyphs"><tspan font-style="italic">α</tspan> = 18, <tspan font-family='"Liberation Serif", serif' font-style="italic">I</tspan>=3.33e-06</text>
<rect x="39.80" y="56.95" width="17.1" height="6.35" fill="#f2844b" fill-opacity="0.8"/>
<text x="63.70" y="62.90" font-size="8.60" text-anchor="start" textLength="81.60" lengthAdjust="spacingAndGlyphs"><tspan font-style="italic">α</tspan> = 16, <tspan font-family='"Liberation Serif", serif' font-style="italic">I</tspan>=3.22e-05</text>
<rect x="39.80" y="69.25" width="17.1" height="6.35" fill="#e16462" fill-opacity="0.8"/>
<text x="63.70" y="75.20" font-size="8.60" text-anchor="start" textLength="81.60" lengthAdjust="spacingAndGlyphs"><tspan font-style="italic">α</tspan> = 14, <tspan font-family='"Liberation Serif", serif' font-style="italic">I</tspan>=2.06e-04</text>
<rect x="39.80" y="81.55" width="17.1" height="6.35" fill="#cc4778" fill-opacity="0.8"/>
<text x="63.70" y="87.50" font-size="8.60" text-anchor="start" textLength="81.60" lengthAdjust="spacingAndGlyphs"><tspan font-style="italic">α</tspan> = 12, <tspan font-family='"Liberation Serif", serif' font-style="italic">I</tspan>=7.13e-04</text>
<rect x="39.80" y="93.85" width="17.1" height="6.35" fill="#b12a90" fill-opacity="0.8"/>
<text x="63.70" y="99.80" font-size="8.60" text-anchor="start" textLength="81.60" lengthAdjust="spacingAndGlyphs"><tspan font-style="italic">α</tspan> = 10, <tspan font-family='"Liberation Serif", serif' font-style="italic">I</tspan>=2.22e-03</text>
<rect x="39.80" y="106.15" width="17.1" height="6.35" fill="#8f0da4" fill-opacity="0.8"/>
<text x="63.70" y="112.10" font-size="8.60" text-anchor="start" textLength="76.40" lengthAdjust="spacingAndGlyphs"><tspan font-style="italic">α</tspan> = 8, <tspan font-family='"Liberation Serif", serif' font-style="italic">I</tspan>=7.68e-03</text>
<rect x="39.80" y="118.45" width="17.1" height="6.35" fill="#6a00a8" fill-opacity="0.8"/>
<text x="63.70" y="124.40" font-size="8.60" text-anchor="start" textLength="76.40" lengthAdjust="spacingAndGlyphs"><tspan font-style="italic">α</tspan> = 6, <tspan font-family='"Liberation Serif", serif' font-style="italic">I</tspan>=2.19e-02</text>
<rect x="39.80" y="130.75" width="17.1" height="6.35" fill="#41049d" fill-opacity="0.8"/>
<text x="63.70" y="136.70" font-size="8.60" text-anchor="start" textLength="76.40" lengthAdjust="spacingAndGlyphs"><tspan font-style="italic">α</tspan> = 4, <tspan font-family='"Liberation Serif", serif' font-style="italic">I</tspan>=5.73e-02</text>
<rect x="39.80" y="143.05" width="17.1" height="6.35" fill="#0d0887" fill-opacity="0.8"/>
<text x="63.70" y="149.00" font-size="8.60" text-anchor="start" textLength="76.40" lengthAdjust="spacingAndGlyphs"><tspan font-style="italic">α</tspan> = 2, <tspan font-family='"Liberation Serif", serif' font-style="italic">I</tspan>=1.85e-01</text>
<rect x="226.20" y="18.50" width="107.40" height="71.70" fill="#ffffff"/>
<clipPath id="iclipa"><rect x="226.20" y="18.50" width="107.40" height="71.70"/></clipPath>
<g clip-path="url(#iclipa)">
<path d="M226.20,90.20L226.20,48.79L227.25,48.79L227.25,48.79L228.31,48.79L228.31,48.79L229.36,48.79L229.36,48.79L230.41,48.79L230.41,48.79L231.46,48.79L231.46,48.79L232.52,48.79L232.52,48.79L233.57,48.79L233.57,48.79L234.62,48.79L234.62,48.79L235.68,48.79L235.68,48.79L236.73,48.79L236.73,48.79L237.78,48.79L237.78,48.79L238.84,48.79L238.84,48.79L239.89,48.79L239.89,48.79L240.94,48.79L240.94,48.79L241.99,48.79L241.99,48.79L243.05,48.79L243.05,48.79L244.10,48.79L244.10,48.79L245.15,48.79L245.15,48.79L246.21,48.79L246.21,48.79L247.26,48.79L247.26,48.79L248.31,48.79L248.31,48.79L249.36,48.79L249.36,48.79L250.42,48.79L250.42,48.79L251.47,48.79L251.47,48.79L252.52,48.79L252.52,48.79L253.58,48.79L253.58,48.79L254.63,48.79L254.63,48.79L255.68,48.79L255.68,48.79L256.74,48.79L256.74,48.79L257.79,48.79L257.79,48.79L258.84,48.79L258.84,48.79L259.89,48.79L259.89,48.79L260.95,48.79L260.95,48.79L262.00,48.79L262.00,48.79L263.05,48.79L263.05,48.79L264.11,48.79L264.11,48.79L265.16,48.79L265.16,48.79L266.21,48.79L266.21,48.99L267.26,48.99L267.26,49.35L268.32,49.35L268.32,50.24L269.37,50.24L269.37,51.19L270.42,51.19L270.42,51.59L271.48,51.59L271.48,51.96L272.53,51.96L272.53,52.31L273.58,52.31L273.58,52.62L274.64,52.62L274.64,52.93L275.69,52.93L275.69,53.25L276.74,53.25L276.74,53.55L277.79,53.55L277.79,53.83L278.85,53.83L278.85,54.10L279.90,54.10L279.90,54.38L280.95,54.38L280.95,54.68L282.01,54.68L282.01,55.01L283.06,55.01L283.06,55.36L284.11,55.36L284.11,55.76L285.16,55.76L285.16,56.21L286.22,56.21L286.22,56.72L287.27,56.72L287.27,57.26L288.32,57.26L288.32,57.87L289.38,57.87L289.38,58.58L290.43,58.58L290.43,59.45L291.48,59.45L291.48,60.48L292.54,60.48L292.54,61.63L293.59,61.63L293.59,62.91L294.64,62.91L294.64,64.30L295.69,64.30L295.69,65.80L296.75,65.80L296.75,67.43L297.80,67.43L297.80,69.17L298.85,69.17L298.85,71.03L299.91,71.03L299.91,73.00L300.96,73.00L300.96,75.05L302.01,75.05L302.01,77.18L303.06,77.18L303.06,79.34L304.12,79.34L304.12,81.27L305.17,81.27L305.17,82.98L306.22,82.98L306.22,84.45L307.28,84.45L307.28,85.69L308.33,85.69L308.33,86.72L309.38,86.72L309.38,87.57L310.44,87.57L310.44,88.24L311.49,88.24L311.49,88.77L312.54,88.77L312.54,89.17L313.59,89.17L313.59,89.47L314.65,89.47L314.65,89.70L315.70,89.70L315.70,89.88L316.75,89.88L316.75,89.99L317.81,89.99L317.81,90.08L318.86,90.08L318.86,90.14L319.91,90.14L319.91,90.18L320.96,90.18L320.96,90.20L322.02,90.20L322.02,90.20L323.07,90.20L323.07,90.20L324.12,90.20L324.12,90.20L325.18,90.20L325.18,90.20L326.23,90.20L326.23,90.20L327.28,90.20L327.28,90.20L328.34,90.20L328.34,90.20L329.39,90.20L329.39,90.20L330.44,90.20L330.44,90.20L331.49,90.20L331.49,90.20L332.55,90.20L332.55,90.20L333.60,90.20L333.60,90.20Z" fill="#f0f921" fill-opacity="0.8"/>
<path d="M226.20,90.20L226.20,52.56L227.25,52.56L227.25,52.56L228.31,52.56L228.31,52.56L229.36,52.56L229.36,52.56L230.41,52.56L230.41,52.56L231.46,52.56L231.46,52.56L232.52,52.56L232.52,52.56L233.57,52.56L233.57,52.56L234.62,52.56L234.62,52.56L235.68,52.56L235.68,52.56L236.73,52.56L236.73,52.56L237.78,52.56L237.78,52.56L238.84,52.56L238.84,52.56L239.89,52.56L239.89,52.56L240.94,52.56L240.94,52.56L241.99,52.56L241.99,52.56L243.05,52.56L243.05,52.56L244.10,52.56L244.10,52.56L245.15,52.56L245.15,52.56L246.21,52.56L246.21,52.56L247.26,52.56L247.26,52.56L248.31,52.56L248.31,52.56L249.36,52.56L249.36,52.56L250.42,52.56L250.42,52.56L251.47,52.56L251.47,52.56L252.52,52.56L252.52,52.56L253.58,52.56L253.58,52.56L254.63,52.56L254.63,52.56L255.68,52.56L255.68,52.56L256.74,52.56L256.74,52.56L257.79,52.56L257.79,52.56L258.84,52.56L258.84,52.56L259.89,52.56L259.89,52.56L260.95,52.56L260.95,52.56L262.00,52.56L262.00,52.56L263.05,52.56L263.05,52.56L264.11,52.56L264.11,52.56L265.16,52.56L265.16,52.56L266.21,52.56L266.21,52.57L267.26,52.57L267.26,52.60L268.32,52.60L268.32,52.73L269.37,52.73L269.37,53.03L270.42,53.03L270.42,53.51L271.48,53.51L271.48,54.05L272.53,54.05L272.53,54.52L273.58,54.52L273.58,54.79L274.64,54.79L274.64,54.90L275.69,54.90L275.69,54.94L276.74,54.94L276.74,55.01L277.79,55.01L277.79,55.11L278.85,55.11L278.85,55.25L279.90,55.25L279.90,55.42L280.95,55.42L280.95,55.64L282.01,55.64L282.01,55.89L283.06,55.89L283.06,56.17L284.11,56.17L284.11,56.51L285.16,56.51L285.16,56.90L286.22,56.90L286.22,57.35L287.27,57.35L287.27,57.85L288.32,57.85L288.32,58.40L289.38,58.40L289.38,59.04L290.43,59.04L290.43,59.80L291.48,59.80L291.48,60.66L292.54,60.66L292.54,61.64L293.59,61.64L293.59,62.74L294.64,62.74L294.64,63.94L295.69,63.94L295.69,65.25L296.75,65.25L296.75,66.67L297.80,66.67L297.80,68.21L298.85,68.21L298.85,69.85L299.91,69.85L299.91,71.60L300.96,71.60L300.96,73.42L302.01,73.42L302.01,75.32L303.06,75.32L303.06,77.23L304.12,77.23L304.12,79.14L305.17,79.14L305.17,81.06L306.22,81.06L306.22,82.84L307.28,82.84L307.28,84.36L308.33,84.36L308.33,85.63L309.38,85.63L309.38,86.68L310.44,86.68L310.44,87.53L311.49,87.53L311.49,88.19L312.54,88.19L312.54,88.71L313.59,88.71L313.59,89.12L314.65,89.12L314.65,89.41L315.70,89.41L315.70,89.65L316.75,89.65L316.75,89.84L317.81,89.84L317.81,89.97L318.86,89.97L318.86,90.06L319.91,90.06L319.91,90.13L320.96,90.13L320.96,90.17L322.02,90.17L322.02,90.20L323.07,90.20L323.07,90.20L324.12,90.20L324.12,90.20L325.18,90.20L325.18,90.20L326.23,90.20L326.23,90.20L327.28,90.20L327.28,90.20L328.34,90.20L328.34,90.20L329.39,90.20L329.39,90.20L330.44,90.20L330.44,90.20L331.49,90.20L331.49,90.20L332.55,90.20L332.55,90.20L333.60,90.20L333.60,90.20Z" fill="#fcce25" fill-opacity="0.8"/>
<path d="M226.20,90.20L226.20,56.32L227.25,56.32L227.25,56.32L228.31,56.32L228.31,56.32L229.36,56.32L229.36,56.32L230.41,56.32L230.41,56.32L231.46,56.32L231.46,56.32L232.52,56.32L232.52,56.32L233.57,56.32L233.57,56.32L234.62,56.32L234.62,56.32L235.68,56.32L235.68,56.32L236.73,56.32L236.73,56.32L237.78,56.32L237.78,56.32L238.84,56.32L238.84,56.32L239.89,56.32L239.89,56.32L240.94,56.32L240.94,56.32L241.99,56.32L241.99,56.32L243.05,56.32L243.05,56.32L244.10,56.32L244.10,56.32L245.15,56.32L245.15,56.32L246.21,56.32L246.21,56.32L247.26,56.32L247.26,56.32L248.31,56.32L248.31,56.32L249.36,56.32L249.36,56.32L250.42,56.32L250.42,56.32L251.47,56.32L251.47,56.32L252.52,56.32L252.52,56.32L253.58,56.32L253.58,56.32L254.63,56.32L254.63,56.32L255.68,56.32L255.68,56.32L256.74,56.32L256.74,56.32L257.79,56.32L257.79,56.32L258.84,56.32L258.84,56.32L259.89,56.32L259.89,56.32L260.95,56.32L260.95,56.32L262.00,56.32L262.00,56.32L263.05,56.32L263.05,56.32L264.11,56.32L264.11,56.32L265.16,56.32L265.16,56.34L266.21,56.34L266.21,56.40L267.26,56.40L267.26,56.56L268.32,56.56L268.32,56.88L269.37,56.88L269.37,57.34L270.42,57.34L270.42,57.83L271.48,57.83L271.48,58.25L272.53,58.25L272.53,58.54L273.58,58.54L273.58,58.75L274.64,58.75L274.64,58.89L275.69,58.89L275.69,59.00L276.74,59.00L276.74,59.08L277.79,59.08L277.79,59.13L278.85,59.13L278.85,59.19L279.90,59.19L279.90,59.26L280.95,59.26L280.95,59.36L282.01,59.36L282.01,59.49L283.06,59.49L283.06,59.64L284.11,59.64L284.11,59.83L285.16,59.83L285.16,60.06L286.22,60.06L286.22,60.33L287.27,60.33L287.27,60.67L288.32,60.67L288.32,61.07L289.38,61.07L289.38,61.52L290.43,61.52L290.43,62.08L291.48,62.08L291.48,62.73L292.54,62.73L292.54,63.50L293.59,63.50L293.59,64.37L294.64,64.37L294.64,65.35L295.69,65.35L295.69,66.42L296.75,66.42L296.75,67.61L297.80,67.61L297.80,68.88L298.85,68.88L298.85,70.25L299.91,70.25L299.91,71.71L300.96,71.71L300.96,73.23L302.01,73.23L302.01,74.81L303.06,74.81L303.06,76.41L304.12,76.41L304.12,78.02L305.17,78.02L305.17,79.62L306.22,79.62L306.22,81.19L307.28,81.19L307.28,82.68L308.33,82.68L308.33,84.03L309.38,84.03L309.38,85.22L310.44,85.22L310.44,86.19L311.49,86.19L311.49,86.96L312.54,86.96L312.54,87.60L313.59,87.60L313.59,88.12L314.65,88.12L314.65,88.55L315.70,88.55L315.70,88.91L316.75,88.91L316.75,89.18L317.81,89.18L317.81,89.40L318.86,89.40L318.86,89.57L319.91,89.57L319.91,89.70L320.96,89.70L320.96,89.79L322.02,89.79L322.02,89.86L323.07,89.86L323.07,89.93L324.12,89.93L324.12,89.99L325.18,89.99L325.18,90.04L326.23,90.04L326.23,90.09L327.28,90.09L327.28,90.12L328.34,90.12L328.34,90.15L329.39,90.15L329.39,90.17L330.44,90.17L330.44,90.19L331.49,90.19L331.49,90.20L332.55,90.20L332.55,90.20L333.60,90.20L333.60,90.20Z" fill="#fca636" fill-opacity="0.8"/>
<path d="M226.20,90.20L226.20,60.09L227.25,60.09L227.25,60.09L228.31,60.09L228.31,60.09L229.36,60.09L229.36,60.09L230.41,60.09L230.41,60.09L231.46,60.09L231.46,60.09L232.52,60.09L232.52,60.09L233.57,60.09L233.57,60.09L234.62,60.09L234.62,60.09L235.68,60.09L235.68,60.09L236.73,60.09L236.73,60.09L237.78,60.09L237.78,60.09L238.84,60.09L238.84,60.09L239.89,60.09L239.89,60.09L240.94,60.09L240.94,60.09L241.99,60.09L241.99,60.09L243.05,60.09L243.05,60.09L244.10,60.09L244.10,60.09L245.15,60.09L245.15,60.09L246.21,60.09L246.21,60.09L247.26,60.09L247.26,60.09L248.31,60.09L248.31,60.09L249.36,60.09L249.36,60.09L250.42,60.09L250.42,60.09L251.47,60.09L251.47,60.09L252.52,60.09L252.52,60.09L253.58,60.09L253.58,60.09L254.63,60.09L254.63,60.09L255.68,60.09L255.68,60.09L256.74,60.09L256.74,60.09L257.79,60.09L257.79,60.09L258.84,60.09L258.84,60.09L259.89,60.09L259.89,60.09L260.95,60.09L260.95,60.09L262.00,60.09L262.00,60.09L263.05,60.09L263.05,60.09L264.11,60.09L264.11,60.14L265.16,60.14L265.16,60.25L266.21,60.25L266.21,60.47L267.26,60.47L267.26,60.80L268.32,60.80L268.32,61.17L269.37,61.17L269.37,61.47L270.42,61.47L270.42,61.64L271.48,61.64L271.48,61.72L272.53,61.72L272.53,61.75L273.58,61.75L273.58,61.76L274.64,61.76L274.64,61.76L275.69,61.76L275.69,61.76L276.74,61.76L276.74,61.76L277.79,61.76L277.79,61.76L278.85,61.76L278.85,61.78L279.90,61.78L279.90,61.84L280.95,61.84L280.95,61.92L282.01,61.92L282.01,62.02L283.06,62.02L283.06,62.16L284.11,62.16L284.11,62.34L285.16,62.34L285.16,62.54L286.22,62.54L286.22,62.78L287.27,62.78L287.27,63.09L288.32,63.09L288.32,63.45L289.38,63.45L289.38,63.87L290.43,63.87L290.43,64.37L291.48,64.37L291.48,64.96L292.54,64.96L292.54,65.66L293.59,65.66L293.59,66.46L294.64,66.46L294.64,67.35L295.69,67.35L295.69,68.34L296.75,68.34L296.75,69.43L297.80,69.43L297.80,70.61L298.85,70.61L298.85,71.88L299.91,71.88L299.91,73.23L300.96,73.23L300.96,74.64L302.01,74.64L302.01,76.11L303.06,76.11L303.06,77.60L304.12,77.60L304.12,79.09L305.17,79.09L305.17,80.58L306.22,80.58L306.22,82.03L307.28,82.03L307.28,83.40L308.33,83.40L308.33,84.63L309.38,84.63L309.38,85.71L310.44,85.71L310.44,86.58L311.49,86.58L311.49,87.28L312.54,87.28L312.54,87.87L313.59,87.87L313.59,88.34L314.65,88.34L314.65,88.74L315.70,88.74L315.70,89.05L316.75,89.05L316.75,89.30L317.81,89.30L317.81,89.49L318.86,89.49L318.86,89.65L319.91,89.65L319.91,89.76L320.96,89.76L320.96,89.83L322.02,89.83L322.02,89.90L323.07,89.90L323.07,89.96L324.12,89.96L324.12,90.02L325.18,90.02L325.18,90.06L326.23,90.06L326.23,90.10L327.28,90.10L327.28,90.14L328.34,90.14L328.34,90.16L329.39,90.16L329.39,90.18L330.44,90.18L330.44,90.19L331.49,90.19L331.49,90.20L332.55,90.20L332.55,90.20L333.60,90.20L333.60,90.20Z" fill="#f2844b" fill-opacity="0.8"/>
<path d="M226.20,90.20L226.20,63.85L227.25,63.85L227.25,63.85L228.31,63.85L228.31,63.85L229.36,63.85L229.36,63.85L230.41,63.85L230.41,63.85L231.46,63.85L231.46,63.85L232.52,63.85L232.52,63.85L233.57,63.85L233.57,63.85L234.62,63.85L234.62,63.85L235.68,63.85L235.68,63.85L236.73,63.85L236.73,63.85L237.78,63.85L237.78,63.85L238.84,63.85L238.84,63.85L239.89,63.85L239.89,63.85L240.94,63.85L240.94,63.85L241.99,63.85L241.99,63.85L243.05,63.85L243.05,63.85L244.10,63.85L244.10,63.85L245.15,63.85L245.15,63.85L246.21,63.85L246.21,63.85L247.26,63.85L247.26,63.85L248.31,63.85L248.31,63.85L249.36,63.85L249.36,63.85L250.42,63.85L250.42,63.85L251.47,63.85L251.47,63.85L252.52,63.85L252.52,63.85L253.58,63.85L253.58,63.85L254.63,63.85L254.63,63.85L255.68,63.85L255.68,63.85L256.74,63.85L256.74,63.85L257.79,63.85L257.79,63.85L258.84,63.85L258.84,63.85L259.89,63.85L259.89,63.85L260.95,63.85L260.95,63.85L262.00,63.85L262.00,63.85L263.05,63.85L263.05,63.86L264.11,63.86L264.11,63.91L265.16,63.91L265.16,64.16L266.21,64.16L266.21,64.60L267.26,64.60L267.26,64.95L268.32,64.95L268.32,65.15L269.37,65.15L269.37,65.28L270.42,65.28L270.42,65.35L271.48,65.35L271.48,65.38L272.53,65.38L272.53,65.39L273.58,65.39L273.58,65.39L274.64,65.39L274.64,65.39L275.69,65.39L275.69,65.39L276.74,65.39L276.74,65.39L277.79,65.39L277.79,65.39L278.85,65.39L278.85,65.39L279.90,65.39L279.90,65.39L280.95,65.39L280.95,65.40L282.01,65.40L282.01,65.45L283.06,65.45L283.06,65.52L284.11,65.52L284.11,65.62L285.16,65.62L285.16,65.75L286.22,65.75L286.22,65.92L287.27,65.92L287.27,66.13L288.32,66.13L288.32,66.39L289.38,66.39L289.38,66.71L290.43,66.71L290.43,67.10L291.48,67.10L291.48,67.57L292.54,67.57L292.54,68.13L293.59,68.13L293.59,68.81L294.64,68.81L294.64,69.59L295.69,69.59L295.69,70.47L296.75,70.47L296.75,71.45L297.80,71.45L297.80,72.54L298.85,72.54L298.85,73.72L299.91,73.72L299.91,74.99L300.96,74.99L300.96,76.33L302.01,76.33L302.01,77.72L303.06,77.72L303.06,79.14L304.12,79.14L304.12,80.56L305.17,80.56L305.17,81.98L306.22,81.98L306.22,83.31L307.28,83.31L307.28,84.54L308.33,84.54L308.33,85.59L309.38,85.59L309.38,86.47L310.44,86.47L310.44,87.17L311.49,87.17L311.49,87.76L312.54,87.76L312.54,88.24L313.59,88.24L313.59,88.64L314.65,88.64L314.65,88.97L315.70,88.97L315.70,89.24L316.75,89.24L316.75,89.45L317.81,89.45L317.81,89.62L318.86,89.62L318.86,89.74L319.91,89.74L319.91,89.83L320.96,89.83L320.96,89.90L322.02,89.90L322.02,89.97L323.07,89.97L323.07,90.02L324.12,90.02L324.12,90.07L325.18,90.07L325.18,90.10L326.23,90.10L326.23,90.13L327.28,90.13L327.28,90.16L328.34,90.16L328.34,90.17L329.39,90.17L329.39,90.18L330.44,90.18L330.44,90.19L331.49,90.19L331.49,90.20L332.55,90.20L332.55,90.20L333.60,90.20L333.60,90.20Z" fill="#e16462" fill-opacity="0.8"/>
<path d="M226.20,90.20L226.20,67.61L227.25,67.61L227.25,67.61L228.31,67.61L228.31,67.61L229.36,67.61L229.36,67.61L230.41,67.61L230.41,67.61L231.46,67.61L231.46,67.61L232.52,67.61L232.52,67.61L233.57,67.61L233.57,67.61L234.62,67.61L234.62,67.61L235.68,67.61L235.68,67.61L236.73,67.61L236.73,67.61L237.78,67.61L237.78,67.61L238.84,67.61L238.84,67.61L239.89,67.61L239.89,67.61L240.94,67.61L240.94,67.61L241.99,67.61L241.99,67.61L243.05,67.61L243.05,67.61L244.10,67.61L244.10,67.61L245.15,67.61L245.15,67.61L246.21,67.61L246.21,67.61L247.26,67.61L247.26,67.61L248.31,67.61L248.31,67.61L249.36,67.61L249.36,67.61L250.42,67.61L250.42,67.61L251.47,67.61L251.47,67.61L252.52,67.61L252.52,67.61L253.58,67.61L253.58,67.61L254.63,67.61L254.63,67.61L255.68,67.61L255.68,67.61L256.74,67.61L256.74,67.61L257.79,67.61L257.79,67.61L258.84,67.61L258.84,67.61L259.89,67.61L259.89,67.61L260.95,67.61L260.95,67.63L262.00,67.63L262.00,67.69L263.05,67.69L263.05,67.81L264.11,67.81L264.11,68.03L265.16,68.03L265.16,68.32L266.21,68.32L266.21,68.60L267.26,68.60L267.26,68.80L268.32,68.80L268.32,68.91L269.37,68.91L269.37,68.95L270.42,68.95L270.42,68.96L271.48,68.96L271.48,68.96L272.53,68.96L272.53,68.96L273.58,68.96L273.58,68.96L274.64,68.96L274.64,68.96L275.69,68.96L275.69,68.96L276.74,68.96L276.74,68.96L277.79,68.96L277.79,68.96L278.85,68.96L278.85,68.96L279.90,68.96L279.90,68.96L280.95,68.96L280.95,68.96L282.01,68.96L282.01,68.96L283.06,68.96L283.06,68.96L284.11,68.96L284.11,68.99L285.16,68.99L285.16,69.06L286.22,69.06L286.22,69.16L287.27,69.16L287.27,69.29L288.32,69.29L288.32,69.47L289.38,69.47L289.38,69.68L290.43,69.68L290.43,69.97L291.48,69.97L291.48,70.32L292.54,70.32L292.54,70.75L293.59,70.75L293.59,71.29L294.64,71.29L294.64,71.94L295.69,71.94L295.69,72.71L296.75,72.71L296.75,73.58L297.80,73.58L297.80,74.56L298.85,74.56L298.85,75.64L299.91,75.64L299.91,76.82L300.96,76.82L300.96,78.06L302.01,78.06L302.01,79.37L303.06,79.37L303.06,80.70L304.12,80.70L304.12,82.04L305.17,82.04L305.17,83.34L306.22,83.34L306.22,84.53L307.28,84.53L307.28,85.55L308.33,85.55L308.33,86.41L309.38,86.41L309.38,87.11L310.44,87.11L310.44,87.70L311.49,87.70L311.49,88.19L312.54,88.19L312.54,88.59L313.59,88.59L313.59,88.93L314.65,88.93L314.65,89.21L315.70,89.21L315.70,89.43L316.75,89.43L316.75,89.60L317.81,89.60L317.81,89.74L318.86,89.74L318.86,89.85L319.91,89.85L319.91,89.92L320.96,89.92L320.96,89.98L322.02,89.98L322.02,90.04L323.07,90.04L323.07,90.08L324.12,90.08L324.12,90.12L325.18,90.12L325.18,90.15L326.23,90.15L326.23,90.16L327.28,90.16L327.28,90.17L328.34,90.17L328.34,90.18L329.39,90.18L329.39,90.19L330.44,90.19L330.44,90.20L331.49,90.20L331.49,90.20L332.55,90.20L332.55,90.20L333.60,90.20L333.60,90.20Z" fill="#cc4778" fill-opacity="0.8"/>
<path d="M226.20,90.20L226.20,71.38L227.25,71.38L227.25,71.38L228.31,71.38L228.31,71.38L229.36,71.38L229.36,71.38L230.41,71.38L230.41,71.38L231.46,71.38L231.46,71.38L232.52,71.38L232.52,71.38L233.57,71.38L233.57,71.38L234.62,71.38L234.62,71.38L235.68,71.38L235.68,71.38L236.73,71.38L236.73,71.38L237.78,71.38L237.78,71.38L238.84,71.38L238.84,71.38L239.89,71.38L239.89,71.38L240.94,71.38L240.94,71.38L241.99,71.38L241.99,71.38L243.05,71.38L243.05,71.38L244.10,71.38L244.10,71.38L245.15,71.38L245.15,71.38L246.21,71.38L246.21,71.38L247.26,71.38L247.26,71.38L248.31,71.38L248.31,71.38L249.36,71.38L249.36,71.38L250.42,71.38L250.42,71.38L251.47,71.38L251.47,71.38L252.52,71.38L252.52,71.38L253.58,71.38L253.58,71.38L254.63,71.38L254.63,71.38L255.68,71.38L255.68,71.38L256.74,71.38L256.74,71.38L257.79,71.38L257.79,71.38L258.84,71.38L258.84,71.38L259.89,71.38L259.89,71.39L260.95,71.39L260.95,71.43L262.00,71.43L262.00,71.53L263.05,71.53L263.05,71.71L264.11,71.71L264.11,71.96L265.16,71.96L265.16,72.21L266.21,72.21L266.21,72.40L267.26,72.40L267.26,72.50L268.32,72.50L268.32,72.54L269.37,72.54L269.37,72.55L270.42,72.55L270.42,72.55L271.48,72.55L271.48,72.55L272.53,72.55L272.53,72.55L273.58,72.55L273.58,72.55L274.64,72.55L274.64,72.55L275.69,72.55L275.69,72.55L276.74,72.55L276.74,72.55L277.79,72.55L277.79,72.55L278.85,72.55L278.85,72.55L279.90,72.55L279.90,72.55L280.95,72.55L280.95,72.55L282.01,72.55L282.01,72.55L283.06,72.55L283.06,72.55L284.11,72.55L284.11,72.55L285.16,72.55L285.16,72.55L286.22,72.55L286.22,72.55L287.27,72.55L287.27,72.57L288.32,72.57L288.32,72.62L289.38,72.62L289.38,72.73L290.43,72.73L290.43,72.87L291.48,72.87L291.48,73.07L292.54,73.07L292.54,73.35L293.59,73.35L293.59,73.71L294.64,73.71L294.64,74.18L295.69,74.18L295.69,74.79L296.75,74.79L296.75,75.52L297.80,75.52L297.80,76.39L298.85,76.39L298.85,77.38L299.91,77.38L299.91,78.49L300.96,78.49L300.96,79.68L302.01,79.68L302.01,80.95L303.06,80.95L303.06,82.25L304.12,82.25L304.12,83.54L305.17,83.54L305.17,84.70L306.22,84.70L306.22,85.68L307.28,85.68L307.28,86.50L308.33,86.50L308.33,87.18L309.38,87.18L309.38,87.76L310.44,87.76L310.44,88.24L311.49,88.24L311.49,88.64L312.54,88.64L312.54,88.97L313.59,88.97L313.59,89.25L314.65,89.25L314.65,89.48L315.70,89.48L315.70,89.65L316.75,89.65L316.75,89.80L317.81,89.80L317.81,89.91L318.86,89.91L318.86,90.00L319.91,90.00L319.91,90.06L320.96,90.06L320.96,90.11L322.02,90.11L322.02,90.14L323.07,90.14L323.07,90.17L324.12,90.17L324.12,90.19L325.18,90.19L325.18,90.20L326.23,90.20L326.23,90.20L327.28,90.20L327.28,90.20L328.34,90.20L328.34,90.20L329.39,90.20L329.39,90.20L330.44,90.20L330.44,90.20L331.49,90.20L331.49,90.20L332.55,90.20L332.55,90.20L333.60,90.20L333.60,90.20Z" fill="#b12a90" fill-opacity="0.8"/>
<path d="M226.20,90.20L226.20,75.14L227.25,75.14L227.25,75.14L228.31,75.14L228.31,75.14L229.36,75.14L229.36,75.14L230.41,75.14L230.41,75.14L231.46,75.14L231.46,75.14L232.52,75.14L232.52,75.14L233.57,75.14L233.57,75.14L234.62,75.14L234.62,75.14L235.68,75.14L235.68,75.14L236.73,75.14L236.73,75.14L237.78,75.14L237.78,75.14L238.84,75.14L238.84,75.14L239.89,75.14L239.89,75.14L240.94,75.14L240.94,75.14L241.99,75.14L241.99,75.14L243.05,75.14L243.05,75.14L244.10,75.14L244.10,75.14L245.15,75.14L245.15,75.14L246.21,75.14L246.21,75.14L247.26,75.14L247.26,75.14L248.31,75.14L248.31,75.14L249.36,75.14L249.36,75.14L250.42,75.14L250.42,75.14L251.47,75.14L251.47,75.14L252.52,75.14L252.52,75.14L253.58,75.14L253.58,75.14L254.63,75.14L254.63,75.14L255.68,75.14L255.68,75.14L256.74,75.14L256.74,75.14L257.79,75.14L257.79,75.14L258.84,75.14L258.84,75.14L259.89,75.14L259.89,75.16L260.95,75.16L260.95,75.21L262.00,75.21L262.00,75.34L263.05,75.34L263.05,75.57L264.11,75.57L264.11,75.82L265.16,75.82L265.16,76.02L266.21,76.02L266.21,76.13L267.26,76.13L267.26,76.17L268.32,76.17L268.32,76.18L269.37,76.18L269.37,76.18L270.42,76.18L270.42,76.18L271.48,76.18L271.48,76.18L272.53,76.18L272.53,76.18L273.58,76.18L273.58,76.18L274.64,76.18L274.64,76.18L275.69,76.18L275.69,76.18L276.74,76.18L276.74,76.18L277.79,76.18L277.79,76.18L278.85,76.18L278.85,76.18L279.90,76.18L279.90,76.18L280.95,76.18L280.95,76.18L282.01,76.18L282.01,76.18L283.06,76.18L283.06,76.18L284.11,76.18L284.11,76.18L285.16,76.18L285.16,76.18L286.22,76.18L286.22,76.18L287.27,76.18L287.27,76.18L288.32,76.18L288.32,76.18L289.38,76.18L289.38,76.18L290.43,76.18L290.43,76.18L291.48,76.18L291.48,76.18L292.54,76.18L292.54,76.23L293.59,76.23L293.59,76.35L294.64,76.35L294.64,76.55L295.69,76.55L295.69,76.87L296.75,76.87L296.75,77.35L297.80,77.35L297.80,78.02L298.85,78.02L298.85,78.87L299.91,78.87L299.91,79.89L300.96,79.89L300.96,81.06L302.01,81.06L302.01,82.30L303.06,82.30L303.06,83.59L304.12,83.59L304.12,84.74L305.17,84.74L305.17,85.68L306.22,85.68L306.22,86.48L307.28,86.48L307.28,87.13L308.33,87.13L308.33,87.71L309.38,87.71L309.38,88.19L310.44,88.19L310.44,88.60L311.49,88.60L311.49,88.94L312.54,88.94L312.54,89.23L313.59,89.23L313.59,89.46L314.65,89.46L314.65,89.64L315.70,89.64L315.70,89.80L316.75,89.80L316.75,89.92L317.81,89.92L317.81,90.01L318.86,90.01L318.86,90.07L319.91,90.07L319.91,90.12L320.96,90.12L320.96,90.16L322.02,90.16L322.02,90.19L323.07,90.19L323.07,90.20L324.12,90.20L324.12,90.20L325.18,90.20L325.18,90.20L326.23,90.20L326.23,90.20L327.28,90.20L327.28,90.20L328.34,90.20L328.34,90.20L329.39,90.20L329.39,90.20L330.44,90.20L330.44,90.20L331.49,90.20L331.49,90.20L332.55,90.20L332.55,90.20L333.60,90.20L333.60,90.20Z" fill="#8f0da4" fill-opacity="0.8"/>
<path d="M226.20,90.20L226.20,78.91L227.25,78.91L227.25,78.91L228.31,78.91L228.31,78.91L229.36,78.91L229.36,78.91L230.41,78.91L230.41,78.91L231.46,78.91L231.46,78.91L232.52,78.91L232.52,78.91L233.57,78.91L233.57,78.91L234.62,78.91L234.62,78.91L235.68,78.91L235.68,78.91L236.73,78.91L236.73,78.91L237.78,78.91L237.78,78.91L238.84,78.91L238.84,78.91L239.89,78.91L239.89,78.91L240.94,78.91L240.94,78.91L241.99,78.91L241.99,78.91L243.05,78.91L243.05,78.91L244.10,78.91L244.10,78.91L245.15,78.91L245.15,78.91L246.21,78.91L246.21,78.91L247.26,78.91L247.26,78.91L248.31,78.91L248.31,78.91L249.36,78.91L249.36,78.91L250.42,78.91L250.42,78.91L251.47,78.91L251.47,78.91L252.52,78.91L252.52,78.91L253.58,78.91L253.58,78.91L254.63,78.91L254.63,78.91L255.68,78.91L255.68,78.91L256.74,78.91L256.74,78.91L257.79,78.91L257.79,78.91L258.84,78.91L258.84,78.92L259.89,78.92L259.89,78.95L260.95,78.95L260.95,79.02L262.00,79.02L262.00,79.15L263.05,79.15L263.05,79.31L264.11,79.31L264.11,79.47L265.16,79.47L265.16,79.57L266.21,79.57L266.21,79.62L267.26,79.62L267.26,79.64L268.32,79.64L268.32,79.66L269.37,79.66L269.37,79.66L270.42,79.66L270.42,79.66L271.48,79.66L271.48,79.66L272.53,79.66L272.53,79.66L273.58,79.66L273.58,79.66L274.64,79.66L274.64,79.66L275.69,79.66L275.69,79.66L276.74,79.66L276.74,79.66L277.79,79.66L277.79,79.66L278.85,79.66L278.85,79.66L279.90,79.66L279.90,79.66L280.95,79.66L280.95,79.66L282.01,79.66L282.01,79.66L283.06,79.66L283.06,79.66L284.11,79.66L284.11,79.66L285.16,79.66L285.16,79.66L286.22,79.66L286.22,79.66L287.27,79.66L287.27,79.66L288.32,79.66L288.32,79.66L289.38,79.66L289.38,79.66L290.43,79.66L290.43,79.66L291.48,79.66L291.48,79.66L292.54,79.66L292.54,79.66L293.59,79.66L293.59,79.67L294.64,79.67L294.64,79.73L295.69,79.73L295.69,79.87L296.75,79.87L296.75,80.15L297.80,80.15L297.80,80.60L298.85,80.60L298.85,81.22L299.91,81.22L299.91,82.03L300.96,82.03L300.96,82.99L302.01,82.99L302.01,84.02L303.06,84.02L303.06,85.09L304.12,85.09L304.12,85.96L305.17,85.96L305.17,86.69L306.22,86.69L306.22,87.30L307.28,87.30L307.28,87.82L308.33,87.82L308.33,88.27L309.38,88.27L309.38,88.65L310.44,88.65L310.44,88.96L311.49,88.96L311.49,89.23L312.54,89.23L312.54,89.46L313.59,89.46L313.59,89.64L314.65,89.64L314.65,89.78L315.70,89.78L315.70,89.91L316.75,89.91L316.75,90.00L317.81,90.00L317.81,90.08L318.86,90.08L318.86,90.13L319.91,90.13L319.91,90.17L320.96,90.17L320.96,90.19L322.02,90.19L322.02,90.20L323.07,90.20L323.07,90.20L324.12,90.20L324.12,90.20L325.18,90.20L325.18,90.20L326.23,90.20L326.23,90.20L327.28,90.20L327.28,90.20L328.34,90.20L328.34,90.20L329.39,90.20L329.39,90.20L330.44,90.20L330.44,90.20L331.49,90.20L331.49,90.20L332.55,90.20L332.55,90.20L333.60,90.20L333.60,90.20Z" fill="#6a00a8" fill-opacity="0.8"/>
<path d="M226.20,90.20L226.20,82.67L227.25,82.67L227.25,82.67L228.31,82.67L228.31,82.67L229.36,82.67L229.36,82.67L230.41,82.67L230.41,82.67L231.46,82.67L231.46,82.67L232.52,82.67L232.52,82.67L233.57,82.67L233.57,82.67L234.62,82.67L234.62,82.67L235.68,82.67L235.68,82.67L236.73,82.67L236.73,82.67L237.78,82.67L237.78,82.67L238.84,82.67L238.84,82.67L239.89,82.67L239.89,82.67L240.94,82.67L240.94,82.67L241.99,82.67L241.99,82.67L243.05,82.67L243.05,82.67L244.10,82.67L244.10,82.67L245.15,82.67L245.15,82.67L246.21,82.67L246.21,82.67L247.26,82.67L247.26,82.67L248.31,82.67L248.31,82.67L249.36,82.67L249.36,82.67L250.42,82.67L250.42,82.67L251.47,82.67L251.47,82.67L252.52,82.67L252.52,82.67L253.58,82.67L253.58,82.67L254.63,82.67L254.63,82.67L255.68,82.67L255.68,82.67L256.74,82.67L256.74,82.67L257.79,82.67L257.79,82.68L258.84,82.68L258.84,82.70L259.89,82.70L259.89,82.74L260.95,82.74L260.95,82.81L262.00,82.81L262.00,82.89L263.05,82.89L263.05,82.97L264.11,82.97L264.11,83.03L265.16,83.03L265.16,83.06L266.21,83.06L266.21,83.08L267.26,83.08L267.26,83.09L268.32,83.09L268.32,83.09L269.37,83.09L269.37,83.09L270.42,83.09L270.42,83.09L271.48,83.09L271.48,83.09L272.53,83.09L272.53,83.09L273.58,83.09L273.58,83.09L274.64,83.09L274.64,83.09L275.69,83.09L275.69,83.09L276.74,83.09L276.74,83.09L277.79,83.09L277.79,83.09L278.85,83.09L278.85,83.09L279.90,83.09L279.90,83.09L280.95,83.09L280.95,83.09L282.01,83.09L282.01,83.09L283.06,83.09L283.06,83.09L284.11,83.09L284.11,83.09L285.16,83.09L285.16,83.09L286.22,83.09L286.22,83.09L287.27,83.09L287.27,83.09L288.32,83.09L288.32,83.09L289.38,83.09L289.38,83.09L290.43,83.09L290.43,83.09L291.48,83.09L291.48,83.09L292.54,83.09L292.54,83.09L293.59,83.09L293.59,83.11L294.64,83.11L294.64,83.17L295.69,83.17L295.69,83.29L296.75,83.29L296.75,83.49L297.80,83.49L297.80,83.81L298.85,83.81L298.85,84.24L299.91,84.24L299.91,84.78L300.96,84.78L300.96,85.42L302.01,85.42L302.01,86.10L303.06,86.10L303.06,86.81L304.12,86.81L304.12,87.39L305.17,87.39L305.17,87.88L306.22,87.88L306.22,88.29L307.28,88.29L307.28,88.63L308.33,88.63L308.33,88.92L309.38,88.92L309.38,89.17L310.44,89.17L310.44,89.38L311.49,89.38L311.49,89.56L312.54,89.56L312.54,89.71L313.59,89.71L313.59,89.82L314.65,89.82L314.65,89.92L315.70,89.92L315.70,90.00L316.75,90.00L316.75,90.07L317.81,90.07L317.81,90.11L318.86,90.11L318.86,90.15L319.91,90.15L319.91,90.17L320.96,90.17L320.96,90.19L322.02,90.19L322.02,90.20L323.07,90.20L323.07,90.20L324.12,90.20L324.12,90.20L325.18,90.20L325.18,90.20L326.23,90.20L326.23,90.20L327.28,90.20L327.28,90.20L328.34,90.20L328.34,90.20L329.39,90.20L329.39,90.20L330.44,90.20L330.44,90.20L331.49,90.20L331.49,90.20L332.55,90.20L332.55,90.20L333.60,90.20L333.60,90.20Z" fill="#41049d" fill-opacity="0.8"/>
<path d="M226.20,90.20L226.20,86.44L227.25,86.44L227.25,86.44L228.31,86.44L228.31,86.44L229.36,86.44L229.36,86.44L230.41,86.44L230.41,86.44L231.46,86.44L231.46,86.44L232.52,86.44L232.52,86.44L233.57,86.44L233.57,86.44L234.62,86.44L234.62,86.44L235.68,86.44L235.68,86.44L236.73,86.44L236.73,86.44L237.78,86.44L237.78,86.44L238.84,86.44L238.84,86.44L239.89,86.44L239.89,86.44L240.94,86.44L240.94,86.44L241.99,86.44L241.99,86.44L243.05,86.44L243.05,86.44L244.10,86.44L244.10,86.44L245.15,86.44L245.15,86.44L246.21,86.44L246.21,86.44L247.26,86.44L247.26,86.44L248.31,86.44L248.31,86.44L249.36,86.44L249.36,86.44L250.42,86.44L250.42,86.44L251.47,86.44L251.47,86.44L252.52,86.44L252.52,86.44L253.58,86.44L253.58,86.44L254.63,86.44L254.63,86.44L255.68,86.44L255.68,86.44L256.74,86.44L256.74,86.45L257.79,86.45L257.79,86.47L258.84,86.47L258.84,86.49L259.89,86.49L259.89,86.52L260.95,86.52L260.95,86.55L262.00,86.55L262.00,86.58L263.05,86.58L263.05,86.62L264.11,86.62L264.11,86.64L265.16,86.64L265.16,86.66L266.21,86.66L266.21,86.66L267.26,86.66L267.26,86.67L268.32,86.67L268.32,86.67L269.37,86.67L269.37,86.67L270.42,86.67L270.42,86.67L271.48,86.67L271.48,86.67L272.53,86.67L272.53,86.67L273.58,86.67L273.58,86.67L274.64,86.67L274.64,86.67L275.69,86.67L275.69,86.67L276.74,86.67L276.74,86.67L277.79,86.67L277.79,86.67L278.85,86.67L278.85,86.67L279.90,86.67L279.90,86.67L280.95,86.67L280.95,86.67L282.01,86.67L282.01,86.67L283.06,86.67L283.06,86.67L284.11,86.67L284.11,86.67L285.16,86.67L285.16,86.67L286.22,86.67L286.22,86.67L287.27,86.67L287.27,86.67L288.32,86.67L288.32,86.67L289.38,86.67L289.38,86.67L290.43,86.67L290.43,86.67L291.48,86.67L291.48,86.67L292.54,86.67L292.54,86.67L293.59,86.67L293.59,86.69L294.64,86.69L294.64,86.73L295.69,86.73L295.69,86.80L296.75,86.80L296.75,86.91L297.80,86.91L297.80,87.08L298.85,87.08L298.85,87.30L299.91,87.30L299.91,87.57L300.96,87.57L300.96,87.88L302.01,87.88L302.01,88.21L303.06,88.21L303.06,88.55L304.12,88.55L304.12,88.84L305.17,88.84L305.17,89.07L306.22,89.07L306.22,89.27L307.28,89.27L307.28,89.43L308.33,89.43L308.33,89.57L309.38,89.57L309.38,89.70L310.44,89.70L310.44,89.80L311.49,89.80L311.49,89.89L312.54,89.89L312.54,89.96L313.59,89.96L313.59,90.01L314.65,90.01L314.65,90.06L315.70,90.06L315.70,90.10L316.75,90.10L316.75,90.13L317.81,90.13L317.81,90.15L318.86,90.15L318.86,90.17L319.91,90.17L319.91,90.18L320.96,90.18L320.96,90.19L322.02,90.19L322.02,90.20L323.07,90.20L323.07,90.20L324.12,90.20L324.12,90.20L325.18,90.20L325.18,90.20L326.23,90.20L326.23,90.20L327.28,90.20L327.28,90.20L328.34,90.20L328.34,90.20L329.39,90.20L329.39,90.20L330.44,90.20L330.44,90.20L331.49,90.20L331.49,90.20L332.55,90.20L332.55,90.20L333.60,90.20L333.60,90.20Z" fill="#0d0887" fill-opacity="0.8"/>
<line x1="286.22" y1="90.20" x2="286.22" y2="18.50" stroke="#000" stroke-width="1.2" stroke-dasharray="3.59 1.55"/>
</g>
<rect x="226.20" y="18.50" width="107.40" height="71.70" fill="none" stroke="#3a3a3a" stroke-width="0.8"/>
<line x1="238.84" y1="90.20" x2="238.84" y2="92.20" stroke="#3a3a3a" stroke-width="0.8"/>
<text x="238.84" y="99.80" font-size="7.40" text-anchor="middle">−20</text>
<line x1="270.42" y1="90.20" x2="270.42" y2="92.20" stroke="#3a3a3a" stroke-width="0.8"/>
<text x="270.42" y="99.80" font-size="7.40" text-anchor="middle">−10</text>
<line x1="302.01" y1="90.20" x2="302.01" y2="92.20" stroke="#3a3a3a" stroke-width="0.8"/>
<text x="302.01" y="99.80" font-size="7.40" text-anchor="middle">0</text>
<line x1="333.60" y1="90.20" x2="333.60" y2="92.20" stroke="#3a3a3a" stroke-width="0.8"/>
<text x="333.60" y="99.80" font-size="7.40" text-anchor="middle">10</text>
<line x1="224.20" y1="72.28" x2="226.20" y2="72.28" stroke="#3a3a3a" stroke-width="0.8"/>
<text x="222.00" y="74.78" font-size="7.40" text-anchor="end">2000</text>
<line x1="224.20" y1="54.35" x2="226.20" y2="54.35" stroke="#3a3a3a" stroke-width="0.8"/>
<text x="222.00" y="56.85" font-size="7.40" text-anchor="end">4000</text>
<line x1="224.20" y1="36.43" x2="226.20" y2="36.43" stroke="#3a3a3a" stroke-width="0.8"/>
<text x="222.00" y="38.93" font-size="7.40" text-anchor="end">6000</text>
<line x1="224.20" y1="18.50" x2="226.20" y2="18.50" stroke="#3a3a3a" stroke-width="0.8"/>
<text x="222.00" y="21.00" font-size="7.40" text-anchor="end">8000</text>
<text x="256.74" y="110.30" font-size="9.14" textLength="12.60" lengthAdjust="spacingAndGlyphs">log</text>
<text x="269.77" y="111.71" font-size="6.94" textLength="7.73" lengthAdjust="spacingAndGlyphs">10</text>
<text x="279.32" y="110.30" font-size="9.32" textLength="2.43" lengthAdjust="spacingAndGlyphs">(</text>
<text x="281.35" y="110.30" font-size="9.14" font-style="italic" textLength="5.40" lengthAdjust="spacingAndGlyphs">λ</text>
<text x="286.91" y="111.79" font-size="6.94" textLength="13.79" lengthAdjust="spacingAndGlyphs">QGT</text>
<text x="300.86" y="110.30" font-size="9.32" textLength="2.51" lengthAdjust="spacingAndGlyphs">)</text>
<text transform="translate(201.00,54.35) rotate(-90)" font-size="8.3" text-anchor="middle" textLength="67.4" lengthAdjust="spacingAndGlyphs">Cumulative occ.</text>
<clipPath id="clipb"><rect x="372.50" y="12.30" width="307.50" height="206.00"/></clipPath>
<g clip-path="url(#clipb)">
<path d="M372.50,218.30L372.50,218.30L375.51,218.30L375.51,218.30L378.53,218.30L378.53,218.30L381.54,218.30L381.54,218.30L384.56,218.30L384.56,218.30L387.57,218.30L387.57,218.30L390.59,218.30L390.59,218.30L393.60,218.30L393.60,218.30L396.62,218.30L396.62,218.30L399.63,218.30L399.63,218.30L402.65,218.30L402.65,218.30L405.66,218.30L405.66,218.30L408.68,218.30L408.68,218.30L411.69,218.30L411.69,218.30L414.71,218.30L414.71,218.30L417.72,218.30L417.72,218.30L420.74,218.30L420.74,218.30L423.75,218.30L423.75,218.30L426.76,218.30L426.76,218.30L429.78,218.30L429.78,218.30L432.79,218.30L432.79,218.30L435.81,218.30L435.81,218.30L438.82,218.30L438.82,218.30L441.84,218.30L441.84,218.30L444.85,218.30L444.85,218.30L447.87,218.30L447.87,217.22L450.88,217.22L450.88,212.34L453.90,212.34L453.90,190.11L456.91,190.11L456.91,23.14L459.93,23.14L459.93,9.59L462.94,9.59L462.94,9.59L465.96,9.59L465.96,55.67L468.97,55.67L468.97,157.58L471.99,157.58L471.99,153.79L475.00,153.79L475.00,168.97L478.01,168.97L478.01,166.26L481.03,166.26L481.03,163.01L484.04,163.01L484.04,160.84L487.06,160.84L487.06,158.67L490.07,158.67L490.07,158.13L493.09,158.13L493.09,157.58L496.10,157.58L496.10,157.58L499.12,157.58L499.12,161.92L502.13,161.92L502.13,170.05L505.15,170.05L505.15,176.02L508.16,176.02L508.16,179.81L511.18,179.81L511.18,184.69L514.19,184.69L514.19,186.86L517.21,186.86L517.21,189.03L520.22,189.03L520.22,189.03L523.24,189.03L523.24,189.57L526.25,189.57L526.25,192.82L529.26,192.82L529.26,195.53L532.28,195.53L532.28,197.16L535.29,197.16L535.29,197.16L538.31,197.16L538.31,197.70L541.32,197.70L541.32,198.78L544.34,198.78L544.34,200.95L547.35,200.95L547.35,202.04L550.37,202.04L550.37,200.95L553.38,200.95L553.38,202.58L556.40,202.58L556.40,205.83L559.41,205.83L559.41,208.00L562.43,208.00L562.43,210.17L565.44,210.17L565.44,210.71L568.46,210.71L568.46,213.42L571.47,213.42L571.47,211.25L574.49,211.25L574.49,208.00L577.50,208.00L577.50,204.75L580.51,204.75L580.51,201.49L583.53,201.49L583.53,197.70L586.54,197.70L586.54,195.53L589.56,195.53L589.56,191.74L592.57,191.74L592.57,186.86L595.59,186.86L595.59,183.06L598.60,183.06L598.60,181.98L601.62,181.98L601.62,183.06L604.63,183.06L604.63,189.03L607.65,189.03L607.65,198.24L610.66,198.24L610.66,204.21L613.68,204.21L613.68,208.00L616.69,208.00L616.69,211.25L619.71,211.25L619.71,213.96L622.72,213.96L622.72,215.59L625.74,215.59L625.74,216.13L628.75,216.13L628.75,216.67L631.76,216.67L631.76,217.22L634.78,217.22L634.78,217.22L637.79,217.22L637.79,218.30L640.81,218.30L640.81,218.30L643.82,218.30L643.82,218.30L646.84,218.30L646.84,218.30L649.85,218.30L649.85,218.30L652.87,218.30L652.87,218.30L655.88,218.30L655.88,218.30L658.90,218.30L658.90,218.30L661.91,218.30L661.91,218.30L664.93,218.30L664.93,218.30L667.94,218.30L667.94,218.30L670.96,218.30L670.96,218.30L673.97,218.30L673.97,218.30L676.99,218.30L676.99,218.30L680.00,218.30L680.00,218.30Z" fill="#f0f921" fill-opacity="0.8"/>
<path d="M372.50,218.30L372.50,218.30L375.51,218.30L375.51,218.30L378.53,218.30L378.53,218.30L381.54,218.30L381.54,218.30L384.56,218.30L384.56,218.30L387.57,218.30L387.57,218.30L390.59,218.30L390.59,218.30L393.60,218.30L393.60,218.30L396.62,218.30L396.62,218.30L399.63,218.30L399.63,218.30L402.65,218.30L402.65,218.30L405.66,218.30L405.66,218.30L408.68,218.30L408.68,218.30L411.69,218.30L411.69,218.30L414.71,218.30L414.71,218.30L417.72,218.30L417.72,218.30L420.74,218.30L420.74,218.30L423.75,218.30L423.75,218.30L426.76,218.30L426.76,218.30L429.78,218.30L429.78,218.30L432.79,218.30L432.79,218.30L435.81,218.30L435.81,218.30L438.82,218.30L438.82,218.30L441.84,218.30L441.84,218.30L444.85,218.30L444.85,218.30L447.87,218.30L447.87,217.22L450.88,217.22L450.88,212.34L453.90,212.34L453.90,189.57L456.91,189.57L456.91,55.67L459.93,55.67L459.93,-9.38L462.94,-9.38L462.94,-9.38L465.96,-9.38L465.96,109.88L468.97,109.88L468.97,160.84L471.99,160.84L471.99,164.09L475.00,164.09L475.00,167.88L478.01,167.88L478.01,165.17L481.03,165.17L481.03,161.92L484.04,161.92L484.04,159.21L487.06,159.21L487.06,157.04L490.07,157.04L490.07,157.04L493.09,157.04L493.09,156.50L496.10,156.50L496.10,155.96L499.12,155.96L499.12,160.84L502.13,160.84L502.13,168.97L505.15,168.97L505.15,174.93L508.16,174.93L508.16,179.27L511.18,179.27L511.18,184.15L514.19,184.15L514.19,186.32L517.21,186.32L517.21,188.48L520.22,188.48L520.22,188.48L523.24,188.48L523.24,189.03L526.25,189.03L526.25,192.28L529.26,192.28L529.26,195.53L532.28,195.53L532.28,196.62L535.29,196.62L535.29,196.62L538.31,196.62L538.31,197.16L541.32,197.16L541.32,198.78L544.34,198.78L544.34,200.95L547.35,200.95L547.35,203.66L550.37,203.66L550.37,203.66L553.38,203.66L553.38,204.21L556.40,204.21L556.40,205.83L559.41,205.83L559.41,208.00L562.43,208.00L562.43,210.17L565.44,210.17L565.44,210.71L568.46,210.71L568.46,212.88L571.47,212.88L571.47,210.71L574.49,210.71L574.49,207.46L577.50,207.46L577.50,204.21L580.51,204.21L580.51,200.41L583.53,200.41L583.53,196.62L586.54,196.62L586.54,193.91L589.56,193.91L589.56,190.11L592.57,190.11L592.57,184.69L595.59,184.69L595.59,180.89L598.60,180.89L598.60,179.81L601.62,179.81L601.62,181.44L604.63,181.44L604.63,187.40L607.65,187.40L607.65,197.16L610.66,197.16L610.66,203.66L613.68,203.66L613.68,207.46L616.69,207.46L616.69,210.71L619.71,210.71L619.71,213.42L622.72,213.42L622.72,215.59L625.74,215.59L625.74,216.13L628.75,216.13L628.75,216.67L631.76,216.67L631.76,217.22L634.78,217.22L634.78,217.22L637.79,217.22L637.79,218.30L640.81,218.30L640.81,218.30L643.82,218.30L643.82,218.30L646.84,218.30L646.84,218.30L649.85,218.30L649.85,218.30L652.87,218.30L652.87,218.30L655.88,218.30L655.88,218.30L658.90,218.30L658.90,218.30L661.91,218.30L661.91,218.30L664.93,218.30L664.93,218.30L667.94,218.30L667.94,218.30L670.96,218.30L670.96,218.30L673.97,218.30L673.97,218.30L676.99,218.30L676.99,218.30L680.00,218.30L680.00,218.30Z" fill="#fdca26" fill-opacity="0.8"/>
<path d="M372.50,218.30L372.50,218.30L375.51,218.30L375.51,218.30L378.53,218.30L378.53,218.30L381.54,218.30L381.54,218.30L384.56,218.30L384.56,218.30L387.57,218.30L387.57,218.30L390.59,218.30L390.59,218.30L393.60,218.30L393.60,218.30L396.62,218.30L396.62,218.30L399.63,218.30L399.63,218.30L402.65,218.30L402.65,218.30L405.66,218.30L405.66,218.30L408.68,218.30L408.68,218.30L411.69,218.30L411.69,218.30L414.71,218.30L414.71,218.30L417.72,218.30L417.72,218.30L420.74,218.30L420.74,218.30L423.75,218.30L423.75,218.30L426.76,218.30L426.76,218.30L429.78,218.30L429.78,218.30L432.79,218.30L432.79,218.30L435.81,218.30L435.81,218.30L438.82,218.30L438.82,218.30L441.84,218.30L441.84,218.30L444.85,218.30L444.85,218.30L447.87,218.30L447.87,217.22L450.88,217.22L450.88,211.79L453.90,211.79L453.90,189.03L456.91,189.03L456.91,82.77L459.93,82.77L459.93,55.67L462.94,55.67L462.94,55.67L465.96,55.67L465.96,82.77L468.97,82.77L468.97,142.41L471.99,142.41L471.99,165.17L475.00,165.17L475.00,166.26L478.01,166.26L478.01,163.55L481.03,163.55L481.03,160.29L484.04,160.29L484.04,157.58L487.06,157.58L487.06,155.42L490.07,155.42L490.07,154.87L493.09,154.87L493.09,154.33L496.10,154.33L496.10,154.33L499.12,154.33L499.12,158.67L502.13,158.67L502.13,167.34L505.15,167.34L505.15,173.85L508.16,173.85L508.16,177.64L511.18,177.64L511.18,183.06L514.19,183.06L514.19,185.23L517.21,185.23L517.21,187.40L520.22,187.40L520.22,187.40L523.24,187.40L523.24,187.94L526.25,187.94L526.25,191.19L529.26,191.19L529.26,194.45L532.28,194.45L532.28,196.07L535.29,196.07L535.29,196.07L538.31,196.07L538.31,196.62L541.32,196.62L541.32,197.70L544.34,197.70L544.34,200.41L547.35,200.41L547.35,203.12L550.37,203.12L550.37,203.12L553.38,203.12L553.38,203.66L556.40,203.66L556.40,205.29L559.41,205.29L559.41,207.46L562.43,207.46L562.43,209.63L565.44,209.63L565.44,210.17L568.46,210.17L568.46,212.34L571.47,212.34L571.47,210.17L574.49,210.17L574.49,206.37L577.50,206.37L577.50,202.58L580.51,202.58L580.51,198.24L583.53,198.24L583.53,193.91L586.54,193.91L586.54,191.19L589.56,191.19L589.56,186.86L592.57,186.86L592.57,181.44L595.59,181.44L595.59,177.10L598.60,177.10L598.60,175.47L601.62,175.47L601.62,177.10L604.63,177.10L604.63,184.15L607.65,184.15L607.65,194.99L610.66,194.99L610.66,202.04L613.68,202.04L613.68,206.37L616.69,206.37L616.69,209.63L619.71,209.63L619.71,212.88L622.72,212.88L622.72,215.05L625.74,215.05L625.74,216.13L628.75,216.13L628.75,216.67L631.76,216.67L631.76,216.67L634.78,216.67L634.78,217.22L637.79,217.22L637.79,218.30L640.81,218.30L640.81,218.30L643.82,218.30L643.82,218.30L646.84,218.30L646.84,218.30L649.85,218.30L649.85,218.30L652.87,218.30L652.87,218.30L655.88,218.30L655.88,218.30L658.90,218.30L658.90,218.30L661.91,218.30L661.91,218.30L664.93,218.30L664.93,218.30L667.94,218.30L667.94,218.30L670.96,218.30L670.96,218.30L673.97,218.30L673.97,218.30L676.99,218.30L676.99,218.30L680.00,218.30L680.00,218.30Z" fill="#fb9f3a" fill-opacity="0.8"/>
<path d="M372.50,218.30L372.50,218.30L375.51,218.30L375.51,218.30L378.53,218.30L378.53,218.30L381.54,218.30L381.54,218.30L384.56,218.30L384.56,218.30L387.57,218.30L387.57,218.30L390.59,218.30L390.59,218.30L393.60,218.30L393.60,218.30L396.62,218.30L396.62,218.30L399.63,218.30L399.63,218.30L402.65,218.30L402.65,218.30L405.66,218.30L405.66,218.30L408.68,218.30L408.68,218.30L411.69,218.30L411.69,218.30L414.71,218.30L414.71,218.30L417.72,218.30L417.72,218.30L420.74,218.30L420.74,218.30L423.75,218.30L423.75,218.30L426.76,218.30L426.76,218.30L429.78,218.30L429.78,218.30L432.79,218.30L432.79,218.30L435.81,218.30L435.81,218.30L438.82,218.30L438.82,218.30L441.84,218.30L441.84,218.30L444.85,218.30L444.85,218.30L447.87,218.30L447.87,217.22L450.88,217.22L450.88,212.34L453.90,212.34L453.90,191.19L456.91,191.19L456.91,164.09L459.93,164.09L459.93,155.42L462.94,155.42L462.94,155.42L465.96,155.42L465.96,155.42L468.97,155.42L468.97,164.09L471.99,164.09L471.99,168.97L475.00,168.97L475.00,168.97L478.01,168.97L478.01,166.26L481.03,166.26L481.03,163.01L484.04,163.01L484.04,160.29L487.06,160.29L487.06,158.13L490.07,158.13L490.07,157.58L493.09,157.58L493.09,157.04L496.10,157.04L496.10,157.04L499.12,157.04L499.12,161.38L502.13,161.38L502.13,170.05L505.15,170.05L505.15,181.44L508.16,181.44L508.16,185.23L511.18,185.23L511.18,187.40L514.19,187.40L514.19,189.57L517.21,189.57L517.21,191.19L520.22,191.19L520.22,193.36L523.24,193.36L523.24,193.91L526.25,193.91L526.25,196.62L529.26,196.62L529.26,197.70L532.28,197.70L532.28,198.78L535.29,198.78L535.29,199.87L538.31,199.87L538.31,200.95L541.32,200.95L541.32,202.04L544.34,202.04L544.34,203.66L547.35,203.66L547.35,205.83L550.37,205.83L550.37,206.37L553.38,206.37L553.38,206.37L556.40,206.37L556.40,208.00L559.41,208.00L559.41,209.63L562.43,209.63L562.43,210.71L565.44,210.71L565.44,210.71L568.46,210.71L568.46,212.88L571.47,212.88L571.47,210.17L574.49,210.17L574.49,206.92L577.50,206.92L577.50,203.12L580.51,203.12L580.51,199.33L583.53,199.33L583.53,194.99L586.54,194.99L586.54,192.82L589.56,192.82L589.56,188.48L592.57,188.48L592.57,183.06L595.59,183.06L595.59,179.27L598.60,179.27L598.60,177.64L601.62,177.64L601.62,179.27L604.63,179.27L604.63,185.77L607.65,185.77L607.65,196.07L610.66,196.07L610.66,203.12L613.68,203.12L613.68,206.92L616.69,206.92L616.69,210.17L619.71,210.17L619.71,213.42L622.72,213.42L622.72,215.05L625.74,215.05L625.74,216.13L628.75,216.13L628.75,216.67L631.76,216.67L631.76,217.22L634.78,217.22L634.78,217.22L637.79,217.22L637.79,218.30L640.81,218.30L640.81,218.30L643.82,218.30L643.82,218.30L646.84,218.30L646.84,218.30L649.85,218.30L649.85,218.30L652.87,218.30L652.87,218.30L655.88,218.30L655.88,218.30L658.90,218.30L658.90,218.30L661.91,218.30L661.91,218.30L664.93,218.30L664.93,218.30L667.94,218.30L667.94,218.30L670.96,218.30L670.96,218.30L673.97,218.30L673.97,218.30L676.99,218.30L676.99,218.30L680.00,218.30L680.00,218.30Z" fill="#ed7953" fill-opacity="0.8"/>
<path d="M372.50,218.30L372.50,218.30L375.51,218.30L375.51,218.30L378.53,218.30L378.53,218.30L381.54,218.30L381.54,218.30L384.56,218.30L384.56,218.30L387.57,218.30L387.57,218.30L390.59,218.30L390.59,218.30L393.60,218.30L393.60,218.30L396.62,218.30L396.62,218.30L399.63,218.30L399.63,218.30L402.65,218.30L402.65,218.30L405.66,218.30L405.66,218.30L408.68,218.30L408.68,218.30L411.69,218.30L411.69,218.30L414.71,218.30L414.71,218.30L417.72,218.30L417.72,218.30L420.74,218.30L420.74,218.30L423.75,218.30L423.75,218.30L426.76,218.30L426.76,218.30L429.78,218.30L429.78,218.30L432.79,218.30L432.79,218.30L435.81,218.30L435.81,218.30L438.82,218.30L438.82,218.30L441.84,218.30L441.84,218.30L444.85,218.30L444.85,218.30L447.87,218.30L447.87,218.30L450.88,218.30L450.88,213.42L453.90,213.42L453.90,194.45L456.91,194.45L456.91,184.69L459.93,184.69L459.93,166.80L462.94,166.80L462.94,166.80L465.96,166.80L465.96,172.22L468.97,172.22L468.97,170.05L471.99,170.05L471.99,172.22L475.00,172.22L475.00,173.31L478.01,173.31L478.01,170.59L481.03,170.59L481.03,167.88L484.04,167.88L484.04,165.72L487.06,165.72L487.06,163.55L490.07,163.55L490.07,163.01L493.09,163.01L493.09,162.46L496.10,162.46L496.10,162.46L499.12,162.46L499.12,166.80L502.13,166.80L502.13,174.39L505.15,174.39L505.15,186.32L508.16,186.32L508.16,189.57L511.18,189.57L511.18,191.74L514.19,191.74L514.19,193.36L517.21,193.36L517.21,194.99L520.22,194.99L520.22,196.62L523.24,196.62L523.24,198.24L526.25,198.24L526.25,199.33L529.26,199.33L529.26,200.41L532.28,200.41L532.28,201.49L535.29,201.49L535.29,202.58L538.31,202.58L538.31,203.66L541.32,203.66L541.32,205.29L544.34,205.29L544.34,206.37L547.35,206.37L547.35,207.46L550.37,207.46L550.37,208.54L553.38,208.54L553.38,209.63L556.40,209.63L556.40,210.17L559.41,210.17L559.41,211.25L562.43,211.25L562.43,211.79L565.44,211.79L565.44,211.79L568.46,211.79L568.46,209.08L571.47,209.08L571.47,210.17L574.49,210.17L574.49,207.46L577.50,207.46L577.50,203.66L580.51,203.66L580.51,199.87L583.53,199.87L583.53,195.53L586.54,195.53L586.54,193.36L589.56,193.36L589.56,189.03L592.57,189.03L592.57,183.61L595.59,183.61L595.59,179.81L598.60,179.81L598.60,178.73L601.62,178.73L601.62,179.81L604.63,179.81L604.63,186.32L607.65,186.32L607.65,196.62L610.66,196.62L610.66,203.12L613.68,203.12L613.68,206.92L616.69,206.92L616.69,210.17L619.71,210.17L619.71,213.42L622.72,213.42L622.72,215.59L625.74,215.59L625.74,216.13L628.75,216.13L628.75,216.67L631.76,216.67L631.76,217.22L634.78,217.22L634.78,217.22L637.79,217.22L637.79,218.30L640.81,218.30L640.81,218.30L643.82,218.30L643.82,218.30L646.84,218.30L646.84,218.30L649.85,218.30L649.85,218.30L652.87,218.30L652.87,218.30L655.88,218.30L655.88,218.30L658.90,218.30L658.90,218.30L661.91,218.30L661.91,218.30L664.93,218.30L664.93,218.30L667.94,218.30L667.94,218.30L670.96,218.30L670.96,218.30L673.97,218.30L673.97,218.30L676.99,218.30L676.99,218.30L680.00,218.30L680.00,218.30Z" fill="#d8576b" fill-opacity="0.8"/>
<path d="M372.50,218.30L372.50,218.30L375.51,218.30L375.51,218.30L378.53,218.30L378.53,218.30L381.54,218.30L381.54,218.30L384.56,218.30L384.56,218.30L387.57,218.30L387.57,218.30L390.59,218.30L390.59,218.30L393.60,218.30L393.60,218.30L396.62,218.30L396.62,218.30L399.63,218.30L399.63,218.30L402.65,218.30L402.65,218.30L405.66,218.30L405.66,218.30L408.68,218.30L408.68,218.30L411.69,218.30L411.69,218.30L414.71,218.30L414.71,218.30L417.72,218.30L417.72,218.30L420.74,218.30L420.74,218.30L423.75,218.30L423.75,218.30L426.76,218.30L426.76,218.30L429.78,218.30L429.78,218.30L432.79,218.30L432.79,218.30L435.81,218.30L435.81,218.30L438.82,218.30L438.82,218.30L441.84,218.30L441.84,218.30L444.85,218.30L444.85,218.30L447.87,218.30L447.87,218.30L450.88,218.30L450.88,213.42L453.90,213.42L453.90,195.53L456.91,195.53L456.91,188.48L459.93,188.48L459.93,171.68L462.94,171.68L462.94,171.68L465.96,171.68L465.96,173.85L468.97,173.85L468.97,172.22L471.99,172.22L471.99,174.39L475.00,174.39L475.00,176.56L478.01,176.56L478.01,174.93L481.03,174.93L481.03,174.39L484.04,174.39L484.04,173.85L487.06,173.85L487.06,173.31L490.07,173.31L490.07,173.31L493.09,173.31L493.09,172.76L496.10,172.76L496.10,172.76L499.12,172.76L499.12,177.10L502.13,177.10L502.13,183.61L505.15,183.61L505.15,187.94L508.16,187.94L508.16,191.19L511.18,191.19L511.18,192.82L514.19,192.82L514.19,194.45L517.21,194.45L517.21,196.07L520.22,196.07L520.22,197.70L523.24,197.70L523.24,199.33L526.25,199.33L526.25,200.41L529.26,200.41L529.26,200.95L532.28,200.95L532.28,202.04L535.29,202.04L535.29,203.12L538.31,203.12L538.31,204.21L541.32,204.21L541.32,205.83L544.34,205.83L544.34,206.92L547.35,206.92L547.35,208.00L550.37,208.00L550.37,209.08L553.38,209.08L553.38,210.17L556.40,210.17L556.40,210.71L559.41,210.71L559.41,211.25L562.43,211.25L562.43,212.34L565.44,212.34L565.44,211.79L568.46,211.79L568.46,209.63L571.47,209.63L571.47,210.17L574.49,210.17L574.49,207.46L577.50,207.46L577.50,203.66L580.51,203.66L580.51,199.87L583.53,199.87L583.53,196.07L586.54,196.07L586.54,193.36L589.56,193.36L589.56,189.57L592.57,189.57L592.57,184.15L595.59,184.15L595.59,180.35L598.60,180.35L598.60,178.73L601.62,178.73L601.62,180.35L604.63,180.35L604.63,186.86L607.65,186.86L607.65,196.62L610.66,196.62L610.66,203.12L613.68,203.12L613.68,206.92L616.69,206.92L616.69,210.71L619.71,210.71L619.71,213.42L622.72,213.42L622.72,215.59L625.74,215.59L625.74,216.13L628.75,216.13L628.75,216.67L631.76,216.67L631.76,217.22L634.78,217.22L634.78,217.22L637.79,217.22L637.79,218.30L640.81,218.30L640.81,218.30L643.82,218.30L643.82,218.30L646.84,218.30L646.84,218.30L649.85,218.30L649.85,218.30L652.87,218.30L652.87,218.30L655.88,218.30L655.88,218.30L658.90,218.30L658.90,218.30L661.91,218.30L661.91,218.30L664.93,218.30L664.93,218.30L667.94,218.30L667.94,218.30L670.96,218.30L670.96,218.30L673.97,218.30L673.97,218.30L676.99,218.30L676.99,218.30L680.00,218.30L680.00,218.30Z" fill="#bd3786" fill-opacity="0.8"/>
<path d="M372.50,218.30L372.50,218.30L375.51,218.30L375.51,218.30L378.53,218.30L378.53,218.30L381.54,218.30L381.54,218.30L384.56,218.30L384.56,218.30L387.57,218.30L387.57,218.30L390.59,218.30L390.59,218.30L393.60,218.30L393.60,218.30L396.62,218.30L396.62,218.30L399.63,218.30L399.63,218.30L402.65,218.30L402.65,218.30L405.66,218.30L405.66,218.30L408.68,218.30L408.68,218.30L411.69,218.30L411.69,218.30L414.71,218.30L414.71,218.30L417.72,218.30L417.72,218.30L420.74,218.30L420.74,218.30L423.75,218.30L423.75,218.30L426.76,218.30L426.76,218.30L429.78,218.30L429.78,218.30L432.79,218.30L432.79,218.30L435.81,218.30L435.81,218.30L438.82,218.30L438.82,218.30L441.84,218.30L441.84,218.30L444.85,218.30L444.85,218.30L447.87,218.30L447.87,218.30L450.88,218.30L450.88,216.13L453.90,216.13L453.90,212.88L456.91,212.88L456.91,207.46L459.93,207.46L459.93,204.75L462.94,204.75L462.94,206.37L465.96,206.37L465.96,208.54L468.97,208.54L468.97,210.17L471.99,210.17L471.99,209.08L475.00,209.08L475.00,207.46L478.01,207.46L478.01,200.41L481.03,200.41L481.03,192.82L484.04,192.82L484.04,185.23L487.06,185.23L487.06,179.27L490.07,179.27L490.07,174.39L493.09,174.39L493.09,172.76L496.10,172.76L496.10,172.76L499.12,172.76L499.12,177.64L502.13,177.64L502.13,183.06L505.15,183.06L505.15,187.94L508.16,187.94L508.16,190.65L511.18,190.65L511.18,193.36L514.19,193.36L514.19,195.53L517.21,195.53L517.21,197.70L520.22,197.70L520.22,199.33L523.24,199.33L523.24,200.95L526.25,200.95L526.25,202.58L529.26,202.58L529.26,204.21L532.28,204.21L532.28,205.83L535.29,205.83L535.29,206.92L538.31,206.92L538.31,207.46L541.32,207.46L541.32,208.00L544.34,208.00L544.34,209.08L547.35,209.08L547.35,209.63L550.37,209.63L550.37,210.17L553.38,210.17L553.38,210.71L556.40,210.71L556.40,211.79L559.41,211.79L559.41,212.34L562.43,212.34L562.43,212.88L565.44,212.88L565.44,212.34L568.46,212.34L568.46,210.17L571.47,210.17L571.47,210.71L574.49,210.71L574.49,207.46L577.50,207.46L577.50,204.21L580.51,204.21L580.51,200.41L583.53,200.41L583.53,196.62L586.54,196.62L586.54,193.91L589.56,193.91L589.56,190.11L592.57,190.11L592.57,184.69L595.59,184.69L595.59,180.89L598.60,180.89L598.60,179.81L601.62,179.81L601.62,181.44L604.63,181.44L604.63,187.40L607.65,187.40L607.65,197.16L610.66,197.16L610.66,203.66L613.68,203.66L613.68,207.46L616.69,207.46L616.69,210.71L619.71,210.71L619.71,213.42L622.72,213.42L622.72,215.59L625.74,215.59L625.74,216.13L628.75,216.13L628.75,216.67L631.76,216.67L631.76,217.22L634.78,217.22L634.78,217.22L637.79,217.22L637.79,218.30L640.81,218.30L640.81,218.30L643.82,218.30L643.82,218.30L646.84,218.30L646.84,218.30L649.85,218.30L649.85,218.30L652.87,218.30L652.87,218.30L655.88,218.30L655.88,218.30L658.90,218.30L658.90,218.30L661.91,218.30L661.91,218.30L664.93,218.30L664.93,218.30L667.94,218.30L667.94,218.30L670.96,218.30L670.96,218.30L673.97,218.30L673.97,218.30L676.99,218.30L676.99,218.30L680.00,218.30L680.00,218.30Z" fill="#9c179e" fill-opacity="0.8"/>
<path d="M372.50,218.30L372.50,218.30L375.51,218.30L375.51,218.30L378.53,218.30L378.53,218.30L381.54,218.30L381.54,218.30L384.56,218.30L384.56,218.30L387.57,218.30L387.57,218.30L390.59,218.30L390.59,218.30L393.60,218.30L393.60,218.30L396.62,218.30L396.62,218.30L399.63,218.30L399.63,218.30L402.65,218.30L402.65,218.30L405.66,218.30L405.66,218.30L408.68,218.30L408.68,218.30L411.69,218.30L411.69,218.30L414.71,218.30L414.71,218.30L417.72,218.30L417.72,218.30L420.74,218.30L420.74,218.30L423.75,218.30L423.75,218.30L426.76,218.30L426.76,218.30L429.78,218.30L429.78,218.30L432.79,218.30L432.79,218.30L435.81,218.30L435.81,218.30L438.82,218.30L438.82,218.30L441.84,218.30L441.84,218.30L444.85,218.30L444.85,218.30L447.87,218.30L447.87,218.30L450.88,218.30L450.88,215.59L453.90,215.59L453.90,212.88L456.91,212.88L456.91,210.17L459.93,210.17L459.93,208.54L462.94,208.54L462.94,209.63L465.96,209.63L465.96,210.71L468.97,210.71L468.97,212.88L471.99,212.88L471.99,212.88L475.00,212.88L475.00,213.42L478.01,213.42L478.01,213.96L481.03,213.96L481.03,213.42L484.04,213.42L484.04,212.34L487.06,212.34L487.06,209.08L490.07,209.08L490.07,205.83L493.09,205.83L493.09,202.04L496.10,202.04L496.10,198.24L499.12,198.24L499.12,194.99L502.13,194.99L502.13,193.36L505.15,193.36L505.15,192.82L508.16,192.82L508.16,193.36L511.18,193.36L511.18,194.45L514.19,194.45L514.19,195.53L517.21,195.53L517.21,197.70L520.22,197.70L520.22,199.33L523.24,199.33L523.24,200.95L526.25,200.95L526.25,202.58L529.26,202.58L529.26,204.21L532.28,204.21L532.28,205.29L535.29,205.29L535.29,206.37L538.31,206.37L538.31,207.46L541.32,207.46L541.32,208.54L544.34,208.54L544.34,209.08L547.35,209.08L547.35,210.17L550.37,210.17L550.37,210.71L553.38,210.71L553.38,211.25L556.40,211.25L556.40,211.79L559.41,211.79L559.41,212.34L562.43,212.34L562.43,212.88L565.44,212.88L565.44,212.34L568.46,212.34L568.46,210.17L571.47,210.17L571.47,210.71L574.49,210.71L574.49,208.00L577.50,208.00L577.50,204.21L580.51,204.21L580.51,200.95L583.53,200.95L583.53,197.16L586.54,197.16L586.54,194.99L589.56,194.99L589.56,191.19L592.57,191.19L592.57,185.77L595.59,185.77L595.59,182.52L598.60,182.52L598.60,180.89L601.62,180.89L601.62,182.52L604.63,182.52L604.63,188.48L607.65,188.48L607.65,197.70L610.66,197.70L610.66,204.21L613.68,204.21L613.68,208.00L616.69,208.00L616.69,210.71L619.71,210.71L619.71,213.96L622.72,213.96L622.72,215.59L625.74,215.59L625.74,216.13L628.75,216.13L628.75,216.67L631.76,216.67L631.76,217.22L634.78,217.22L634.78,217.22L637.79,217.22L637.79,218.30L640.81,218.30L640.81,218.30L643.82,218.30L643.82,218.30L646.84,218.30L646.84,218.30L649.85,218.30L649.85,218.30L652.87,218.30L652.87,218.30L655.88,218.30L655.88,218.30L658.90,218.30L658.90,218.30L661.91,218.30L661.91,218.30L664.93,218.30L664.93,218.30L667.94,218.30L667.94,218.30L670.96,218.30L670.96,218.30L673.97,218.30L673.97,218.30L676.99,218.30L676.99,218.30L680.00,218.30L680.00,218.30Z" fill="#7201a8" fill-opacity="0.8"/>
<path d="M372.50,218.30L372.50,218.30L375.51,218.30L375.51,218.30L378.53,218.30L378.53,218.30L381.54,218.30L381.54,218.30L384.56,218.30L384.56,218.30L387.57,218.30L387.57,218.30L390.59,218.30L390.59,218.30L393.60,218.30L393.60,218.30L396.62,218.30L396.62,218.30L399.63,218.30L399.63,218.30L402.65,218.30L402.65,218.30L405.66,218.30L405.66,218.30L408.68,218.30L408.68,218.30L411.69,218.30L411.69,218.30L414.71,218.30L414.71,218.30L417.72,218.30L417.72,218.30L420.74,218.30L420.74,218.30L423.75,218.30L423.75,218.30L426.76,218.30L426.76,218.30L429.78,218.30L429.78,218.30L432.79,218.30L432.79,218.30L435.81,218.30L435.81,218.30L438.82,218.30L438.82,218.30L441.84,218.30L441.84,218.30L444.85,218.30L444.85,218.30L447.87,218.30L447.87,218.30L450.88,218.30L450.88,216.67L453.90,216.67L453.90,216.13L456.91,216.13L456.91,215.59L459.93,215.59L459.93,215.59L462.94,215.59L462.94,215.05L465.96,215.05L465.96,215.05L468.97,215.05L468.97,215.05L471.99,215.05L471.99,215.05L475.00,215.05L475.00,215.59L478.01,215.59L478.01,215.59L481.03,215.59L481.03,215.59L484.04,215.59L484.04,215.59L487.06,215.59L487.06,215.59L490.07,215.59L490.07,215.05L493.09,215.05L493.09,215.05L496.10,215.05L496.10,215.05L499.12,215.05L499.12,215.05L502.13,215.05L502.13,215.05L505.15,215.05L505.15,214.51L508.16,214.51L508.16,214.51L511.18,214.51L511.18,213.96L514.19,213.96L514.19,213.96L517.21,213.96L517.21,213.96L520.22,213.96L520.22,213.96L523.24,213.96L523.24,213.96L526.25,213.96L526.25,213.96L529.26,213.96L529.26,213.96L532.28,213.96L532.28,213.96L535.29,213.96L535.29,213.96L538.31,213.96L538.31,213.96L541.32,213.96L541.32,214.51L544.34,214.51L544.34,214.51L547.35,214.51L547.35,215.05L550.37,215.05L550.37,215.05L553.38,215.05L553.38,215.59L556.40,215.59L556.40,216.67L559.41,216.67L559.41,217.76L562.43,217.76L562.43,216.67L565.44,216.67L565.44,213.96L568.46,213.96L568.46,211.79L571.47,211.79L571.47,209.08L574.49,209.08L574.49,205.83L577.50,205.83L577.50,200.95L580.51,200.95L580.51,196.62L583.53,196.62L583.53,192.82L586.54,192.82L586.54,191.74L589.56,191.74L589.56,189.57L592.57,189.57L592.57,185.77L595.59,185.77L595.59,185.23L598.60,185.23L598.60,186.32L601.62,186.32L601.62,191.19L604.63,191.19L604.63,199.33L607.65,199.33L607.65,205.83L610.66,205.83L610.66,209.08L613.68,209.08L613.68,212.34L616.69,212.34L616.69,213.96L619.71,213.96L619.71,215.59L622.72,215.59L622.72,216.67L625.74,216.67L625.74,216.67L628.75,216.67L628.75,217.22L631.76,217.22L631.76,217.76L634.78,217.76L634.78,218.30L637.79,218.30L637.79,218.30L640.81,218.30L640.81,218.30L643.82,218.30L643.82,218.30L646.84,218.30L646.84,218.30L649.85,218.30L649.85,218.30L652.87,218.30L652.87,218.30L655.88,218.30L655.88,218.30L658.90,218.30L658.90,218.30L661.91,218.30L661.91,218.30L664.93,218.30L664.93,218.30L667.94,218.30L667.94,218.30L670.96,218.30L670.96,218.30L673.97,218.30L673.97,218.30L676.99,218.30L676.99,218.30L680.00,218.30L680.00,218.30Z" fill="#46039f" fill-opacity="0.8"/>
<path d="M372.50,218.30L372.50,218.30L375.51,218.30L375.51,218.30L378.53,218.30L378.53,218.30L381.54,218.30L381.54,218.30L384.56,218.30L384.56,218.30L387.57,218.30L387.57,218.30L390.59,218.30L390.59,218.30L393.60,218.30L393.60,218.30L396.62,218.30L396.62,218.30L399.63,218.30L399.63,218.30L402.65,218.30L402.65,218.30L405.66,218.30L405.66,218.30L408.68,218.30L408.68,218.30L411.69,218.30L411.69,218.30L414.71,218.30L414.71,218.30L417.72,218.30L417.72,218.30L420.74,218.30L420.74,218.30L423.75,218.30L423.75,218.30L426.76,218.30L426.76,218.30L429.78,218.30L429.78,218.30L432.79,218.30L432.79,218.30L435.81,218.30L435.81,218.30L438.82,218.30L438.82,218.30L441.84,218.30L441.84,218.30L444.85,218.30L444.85,218.30L447.87,218.30L447.87,218.30L450.88,218.30L450.88,217.76L453.90,217.76L453.90,216.67L456.91,216.67L456.91,216.67L459.93,216.67L459.93,216.67L462.94,216.67L462.94,216.13L465.96,216.13L465.96,216.13L468.97,216.13L468.97,216.13L471.99,216.13L471.99,216.13L475.00,216.13L475.00,216.13L478.01,216.13L478.01,216.13L481.03,216.13L481.03,216.67L484.04,216.67L484.04,216.67L487.06,216.67L487.06,216.67L490.07,216.67L490.07,216.67L493.09,216.67L493.09,216.67L496.10,216.67L496.10,216.67L499.12,216.67L499.12,217.22L502.13,217.22L502.13,217.22L505.15,217.22L505.15,217.22L508.16,217.22L508.16,217.22L511.18,217.22L511.18,217.22L514.19,217.22L514.19,217.22L517.21,217.22L517.21,216.67L520.22,216.67L520.22,216.67L523.24,216.67L523.24,216.67L526.25,216.67L526.25,216.67L529.26,216.67L529.26,216.67L532.28,216.67L532.28,216.67L535.29,216.67L535.29,216.67L538.31,216.67L538.31,216.67L541.32,216.67L541.32,216.67L544.34,216.67L544.34,216.67L547.35,216.67L547.35,217.22L550.37,217.22L550.37,218.30L553.38,218.30L553.38,218.30L556.40,218.30L556.40,218.30L559.41,218.30L559.41,218.30L562.43,218.30L562.43,216.13L565.44,216.13L565.44,213.96L568.46,213.96L568.46,212.34L571.47,212.34L571.47,210.17L574.49,210.17L574.49,206.92L577.50,206.92L577.50,203.66L580.51,203.66L580.51,200.95L583.53,200.95L583.53,198.24L586.54,198.24L586.54,196.62L589.56,196.62L589.56,196.07L592.57,196.07L592.57,195.53L595.59,195.53L595.59,197.16L598.60,197.16L598.60,199.87L601.62,199.87L601.62,203.12L604.63,203.12L604.63,208.00L607.65,208.00L607.65,210.71L610.66,210.71L610.66,213.42L613.68,213.42L613.68,215.05L616.69,215.05L616.69,216.13L619.71,216.13L619.71,216.67L622.72,216.67L622.72,216.67L625.74,216.67L625.74,217.22L628.75,217.22L628.75,217.22L631.76,217.22L631.76,218.30L634.78,218.30L634.78,218.30L637.79,218.30L637.79,218.30L640.81,218.30L640.81,218.30L643.82,218.30L643.82,218.30L646.84,218.30L646.84,218.30L649.85,218.30L649.85,218.30L652.87,218.30L652.87,218.30L655.88,218.30L655.88,218.30L658.90,218.30L658.90,218.30L661.91,218.30L661.91,218.30L664.93,218.30L664.93,218.30L667.94,218.30L667.94,218.30L670.96,218.30L670.96,218.30L673.97,218.30L673.97,218.30L676.99,218.30L676.99,218.30L680.00,218.30L680.00,218.30Z" fill="#0d0887" fill-opacity="0.8"/>
<line x1="544.34" y1="218.30" x2="544.34" y2="12.30" stroke="#000" stroke-width="1.2" stroke-dasharray="3.59 1.55"/>
</g>
<rect x="372.50" y="12.30" width="307.50" height="206.00" fill="none" stroke="#3a3a3a" stroke-width="0.9"/>
<line x1="408.68" y1="218.30" x2="408.68" y2="220.60" stroke="#3a3a3a" stroke-width="0.9"/>
<text x="408.68" y="229.00" font-size="9.80" text-anchor="middle">−20</text>
<line x1="453.90" y1="218.30" x2="453.90" y2="220.60" stroke="#3a3a3a" stroke-width="0.9"/>
<text x="453.90" y="229.00" font-size="9.80" text-anchor="middle">−15</text>
<line x1="499.12" y1="218.30" x2="499.12" y2="220.60" stroke="#3a3a3a" stroke-width="0.9"/>
<text x="499.12" y="229.00" font-size="9.80" text-anchor="middle">−10</text>
<line x1="544.34" y1="218.30" x2="544.34" y2="220.60" stroke="#3a3a3a" stroke-width="0.9"/>
<text x="544.34" y="229.00" font-size="9.80" text-anchor="middle">−5</text>
<line x1="589.56" y1="218.30" x2="589.56" y2="220.60" stroke="#3a3a3a" stroke-width="0.9"/>
<text x="589.56" y="229.00" font-size="9.80" text-anchor="middle">0</text>
<line x1="634.78" y1="218.30" x2="634.78" y2="220.60" stroke="#3a3a3a" stroke-width="0.9"/>
<text x="634.78" y="229.00" font-size="9.80" text-anchor="middle">5</text>
<line x1="680.00" y1="218.30" x2="680.00" y2="220.60" stroke="#3a3a3a" stroke-width="0.9"/>
<text x="680.00" y="229.00" font-size="9.80" text-anchor="middle">10</text>
<line x1="370.20" y1="218.30" x2="372.50" y2="218.30" stroke="#3a3a3a" stroke-width="0.9"/>
<text x="368.30" y="221.60" font-size="9.80" text-anchor="end">0</text>
<line x1="370.20" y1="191.19" x2="372.50" y2="191.19" stroke="#3a3a3a" stroke-width="0.9"/>
<text x="368.30" y="194.49" font-size="9.80" text-anchor="end">50</text>
<line x1="370.20" y1="164.09" x2="372.50" y2="164.09" stroke="#3a3a3a" stroke-width="0.9"/>
<text x="368.30" y="167.39" font-size="9.80" text-anchor="end">100</text>
<line x1="370.20" y1="136.98" x2="372.50" y2="136.98" stroke="#3a3a3a" stroke-width="0.9"/>
<text x="368.30" y="140.28" font-size="9.80" text-anchor="end">150</text>
<line x1="370.20" y1="109.88" x2="372.50" y2="109.88" stroke="#3a3a3a" stroke-width="0.9"/>
<text x="368.30" y="113.18" font-size="9.80" text-anchor="end">200</text>
<line x1="370.20" y1="82.77" x2="372.50" y2="82.77" stroke="#3a3a3a" stroke-width="0.9"/>
<text x="368.30" y="86.07" font-size="9.80" text-anchor="end">250</text>
<line x1="370.20" y1="55.67" x2="372.50" y2="55.67" stroke="#3a3a3a" stroke-width="0.9"/>
<text x="368.30" y="58.97" font-size="9.80" text-anchor="end">300</text>
<line x1="370.20" y1="28.56" x2="372.50" y2="28.56" stroke="#3a3a3a" stroke-width="0.9"/>
<text x="368.30" y="31.86" font-size="9.80" text-anchor="end">350</text>
<text x="525.85" y="7.80" font-size="10.00" text-anchor="middle" textLength="132.50" lengthAdjust="spacingAndGlyphs">(b) AKLT (<tspan font-style="italic">θ</tspan> = arctan(1/3))</text>
<text x="499.28" y="241.00" font-size="10.40" textLength="14.34" lengthAdjust="spacingAndGlyphs">log</text>
<text x="514.11" y="242.60" font-size="7.90" textLength="8.79" lengthAdjust="spacingAndGlyphs">10</text>
<text x="524.97" y="241.00" font-size="10.60" textLength="2.76" lengthAdjust="spacingAndGlyphs">(</text>
<text x="527.28" y="241.00" font-size="10.40" font-style="italic" textLength="6.14" lengthAdjust="spacingAndGlyphs">λ</text>
<text x="533.61" y="242.70" font-size="7.90" textLength="15.69" lengthAdjust="spacingAndGlyphs">QGT</text>
<text x="549.47" y="241.00" font-size="10.60" textLength="2.86" lengthAdjust="spacingAndGlyphs">)</text>
<rect x="376.80" y="16.40" width="111.70" height="125.50" rx="2.2" fill="#ffffff" fill-opacity="0.8" stroke="#d0d0d0" stroke-width="0.8"/>
<rect x="379.80" y="20.05" width="17.1" height="6.35" fill="#f0f921" fill-opacity="0.8"/>
<text x="403.70" y="26.00" font-size="8.60" text-anchor="start" textLength="81.60" lengthAdjust="spacingAndGlyphs"><tspan font-style="italic">α</tspan> = 20, <tspan font-family='"Liberation Serif", serif' font-style="italic">I</tspan>=6.99e-12</text>
<rect x="379.80" y="32.35" width="17.1" height="6.35" fill="#fdca26" fill-opacity="0.8"/>
<text x="403.70" y="38.30" font-size="8.60" text-anchor="start" textLength="81.60" lengthAdjust="spacingAndGlyphs"><tspan font-style="italic">α</tspan> = 18, <tspan font-family='"Liberation Serif", serif' font-style="italic">I</tspan>=8.72e-12</text>
<rect x="379.80" y="44.65" width="17.1" height="6.35" fill="#fb9f3a" fill-opacity="0.8"/>
<text x="403.70" y="50.60" font-size="8.60" text-anchor="start" textLength="81.60" lengthAdjust="spacingAndGlyphs"><tspan font-style="italic">α</tspan> = 16, <tspan font-family='"Liberation Serif", serif' font-style="italic">I</tspan>=5.25e-12</text>
<rect x="379.80" y="56.95" width="17.1" height="6.35" fill="#ed7953" fill-opacity="0.8"/>
<text x="403.70" y="62.90" font-size="8.60" text-anchor="start" textLength="81.60" lengthAdjust="spacingAndGlyphs"><tspan font-style="italic">α</tspan> = 14, <tspan font-family='"Liberation Serif", serif' font-style="italic">I</tspan>=1.63e-11</text>
<rect x="379.80" y="69.25" width="17.1" height="6.35" fill="#d8576b" fill-opacity="0.8"/>
<text x="403.70" y="75.20" font-size="8.60" text-anchor="start" textLength="81.60" lengthAdjust="spacingAndGlyphs"><tspan font-style="italic">α</tspan> = 12, <tspan font-family='"Liberation Serif", serif' font-style="italic">I</tspan>=1.01e-11</text>
<rect x="379.80" y="81.55" width="17.1" height="6.35" fill="#bd3786" fill-opacity="0.8"/>
<text x="403.70" y="87.50" font-size="8.60" text-anchor="start" textLength="81.60" lengthAdjust="spacingAndGlyphs"><tspan font-style="italic">α</tspan> = 10, <tspan font-family='"Liberation Serif", serif' font-style="italic">I</tspan>=1.52e-11</text>
<rect x="379.80" y="93.85" width="17.1" height="6.35" fill="#9c179e" fill-opacity="0.8"/>
<text x="403.70" y="99.80" font-size="8.60" text-anchor="start" textLength="76.40" lengthAdjust="spacingAndGlyphs"><tspan font-style="italic">α</tspan> = 8, <tspan font-family='"Liberation Serif", serif' font-style="italic">I</tspan>=1.88e-11</text>
<rect x="379.80" y="106.15" width="17.1" height="6.35" fill="#7201a8" fill-opacity="0.8"/>
<text x="403.70" y="112.10" font-size="8.60" text-anchor="start" textLength="76.40" lengthAdjust="spacingAndGlyphs"><tspan font-style="italic">α</tspan> = 6, <tspan font-family='"Liberation Serif", serif' font-style="italic">I</tspan>=5.93e-11</text>
<rect x="379.80" y="118.45" width="17.1" height="6.35" fill="#46039f" fill-opacity="0.8"/>
<text x="403.70" y="124.40" font-size="8.60" text-anchor="start" textLength="76.40" lengthAdjust="spacingAndGlyphs"><tspan font-style="italic">α</tspan> = 4, <tspan font-family='"Liberation Serif", serif' font-style="italic">I</tspan>=8.39e-08</text>
<rect x="379.80" y="130.75" width="17.1" height="6.35" fill="#0d0887" fill-opacity="0.8"/>
<text x="403.70" y="136.70" font-size="8.60" text-anchor="start" textLength="76.40" lengthAdjust="spacingAndGlyphs"><tspan font-style="italic">α</tspan> = 2, <tspan font-family='"Liberation Serif", serif' font-style="italic">I</tspan>=6.05e-02</text>
<rect x="566.20" y="18.50" width="107.40" height="71.70" fill="#ffffff"/>
<clipPath id="iclipb"><rect x="566.20" y="18.50" width="107.40" height="71.70"/></clipPath>
<g clip-path="url(#iclipb)">
<path d="M566.20,90.20L566.20,52.56L567.25,52.56L567.25,52.56L568.31,52.56L568.31,52.56L569.36,52.56L569.36,52.56L570.41,52.56L570.41,52.56L571.46,52.56L571.46,52.56L572.52,52.56L572.52,52.56L573.57,52.56L573.57,52.56L574.62,52.56L574.62,52.56L575.68,52.56L575.68,52.56L576.73,52.56L576.73,52.56L577.78,52.56L577.78,52.56L578.84,52.56L578.84,52.56L579.89,52.56L579.89,52.56L580.94,52.56L580.94,52.56L581.99,52.56L581.99,52.56L583.05,52.56L583.05,52.56L584.10,52.56L584.10,52.56L585.15,52.56L585.15,52.56L586.21,52.56L586.21,52.56L587.26,52.56L587.26,52.56L588.31,52.56L588.31,52.56L589.36,52.56L589.36,52.56L590.42,52.56L590.42,52.56L591.47,52.56L591.47,52.56L592.52,52.56L592.52,52.56L593.58,52.56L593.58,52.58L594.63,52.58L594.63,52.67L595.68,52.67L595.68,53.13L596.74,53.13L596.74,56.30L597.79,56.30L597.79,59.68L598.84,59.68L598.84,63.07L599.89,63.07L599.89,65.71L600.95,65.71L600.95,66.70L602.00,66.70L602.00,67.74L603.05,67.74L603.05,68.55L604.11,68.55L604.11,69.39L605.16,69.39L605.16,70.29L606.21,70.29L606.21,71.22L607.26,71.22L607.26,72.19L608.32,72.19L608.32,73.16L609.37,73.16L609.37,74.15L610.42,74.15L610.42,75.14L611.48,75.14L611.48,76.05L612.53,76.05L612.53,76.83L613.58,76.83L613.58,77.52L614.64,77.52L614.64,78.15L615.69,78.15L615.69,78.69L616.74,78.69L616.74,79.20L617.79,79.20L617.79,79.68L618.85,79.68L618.85,80.15L619.90,80.15L619.90,80.62L620.95,80.62L620.95,81.03L622.01,81.03L622.01,81.40L623.06,81.40L623.06,81.74L624.11,81.74L624.11,82.09L625.16,82.09L625.16,82.42L626.22,82.42L626.22,82.74L627.27,82.74L627.27,83.02L628.32,83.02L628.32,83.28L629.38,83.28L629.38,83.57L630.43,83.57L630.43,83.82L631.48,83.82L631.48,84.02L632.54,84.02L632.54,84.19L633.59,84.19L633.59,84.32L634.64,84.32L634.64,84.45L635.69,84.45L635.69,84.52L636.75,84.52L636.75,84.64L637.80,84.64L637.80,84.81L638.85,84.81L638.85,85.03L639.91,85.03L639.91,85.30L640.96,85.30L640.96,85.63L642.01,85.63L642.01,86.00L643.06,86.00L643.06,86.43L644.12,86.43L644.12,86.94L645.17,86.94L645.17,87.52L646.22,87.52L646.22,88.11L647.28,88.11L647.28,88.68L648.33,88.68L648.33,89.15L649.38,89.15L649.38,89.48L650.44,89.48L650.44,89.71L651.49,89.71L651.49,89.87L652.54,89.87L652.54,89.99L653.59,89.99L653.59,90.06L654.65,90.06L654.65,90.10L655.70,90.10L655.70,90.14L656.75,90.14L656.75,90.16L657.81,90.16L657.81,90.18L658.86,90.18L658.86,90.20L659.91,90.20L659.91,90.20L660.96,90.20L660.96,90.20L662.02,90.20L662.02,90.20L663.07,90.20L663.07,90.20L664.12,90.20L664.12,90.20L665.18,90.20L665.18,90.20L666.23,90.20L666.23,90.20L667.28,90.20L667.28,90.20L668.34,90.20L668.34,90.20L669.39,90.20L669.39,90.20L670.44,90.20L670.44,90.20L671.49,90.20L671.49,90.20L672.55,90.20L672.55,90.20L673.60,90.20L673.60,90.20Z" fill="#f0f921" fill-opacity="0.8"/>
<path d="M566.20,90.20L566.20,56.32L567.25,56.32L567.25,56.32L568.31,56.32L568.31,56.32L569.36,56.32L569.36,56.32L570.41,56.32L570.41,56.32L571.46,56.32L571.46,56.32L572.52,56.32L572.52,56.32L573.57,56.32L573.57,56.32L574.62,56.32L574.62,56.32L575.68,56.32L575.68,56.32L576.73,56.32L576.73,56.32L577.78,56.32L577.78,56.32L578.84,56.32L578.84,56.32L579.89,56.32L579.89,56.32L580.94,56.32L580.94,56.32L581.99,56.32L581.99,56.32L583.05,56.32L583.05,56.32L584.10,56.32L584.10,56.32L585.15,56.32L585.15,56.32L586.21,56.32L586.21,56.32L587.26,56.32L587.26,56.32L588.31,56.32L588.31,56.32L589.36,56.32L589.36,56.32L590.42,56.32L590.42,56.32L591.47,56.32L591.47,56.32L592.52,56.32L592.52,56.32L593.58,56.32L593.58,56.34L594.63,56.34L594.63,56.43L595.68,56.43L595.68,56.85L596.74,56.85L596.74,59.26L597.79,59.26L597.79,62.62L598.84,62.62L598.84,65.99L599.89,65.99L599.89,67.59L600.95,67.59L600.95,68.44L602.00,68.44L602.00,69.24L603.05,69.24L603.05,69.99L604.11,69.99L604.11,70.78L605.16,70.78L605.16,71.61L606.21,71.61L606.21,72.48L607.26,72.48L607.26,73.39L608.32,73.39L608.32,74.30L609.37,74.30L609.37,75.21L610.42,75.21L610.42,76.13L611.48,76.13L611.48,76.98L612.53,76.98L612.53,77.71L613.58,77.71L613.58,78.35L614.64,78.35L614.64,78.93L615.69,78.93L615.69,79.43L616.74,79.43L616.74,79.91L617.79,79.91L617.79,80.35L618.85,80.35L618.85,80.79L619.90,80.79L619.90,81.22L620.95,81.22L620.95,81.61L622.01,81.61L622.01,81.94L623.06,81.94L623.06,82.26L624.11,82.26L624.11,82.58L625.16,82.58L625.16,82.90L626.22,82.90L626.22,83.19L627.27,83.19L627.27,83.44L628.32,83.44L628.32,83.66L629.38,83.66L629.38,83.87L630.43,83.87L630.43,84.08L631.48,84.08L631.48,84.27L632.54,84.27L632.54,84.42L633.59,84.42L633.59,84.54L634.64,84.54L634.64,84.65L635.69,84.65L635.69,84.73L636.75,84.73L636.75,84.84L637.80,84.84L637.80,85.01L638.85,85.01L638.85,85.21L639.91,85.21L639.91,85.48L640.96,85.48L640.96,85.80L642.01,85.80L642.01,86.16L643.06,86.16L643.06,86.58L644.12,86.58L644.12,87.07L645.17,87.07L645.17,87.63L646.22,87.63L646.22,88.20L647.28,88.20L647.28,88.74L648.33,88.74L648.33,89.20L649.38,89.20L649.38,89.51L650.44,89.51L650.44,89.73L651.49,89.73L651.49,89.89L652.54,89.89L652.54,90.00L653.59,90.00L653.59,90.07L654.65,90.07L654.65,90.11L655.70,90.11L655.70,90.14L656.75,90.14L656.75,90.17L657.81,90.17L657.81,90.18L658.86,90.18L658.86,90.20L659.91,90.20L659.91,90.20L660.96,90.20L660.96,90.20L662.02,90.20L662.02,90.20L663.07,90.20L663.07,90.20L664.12,90.20L664.12,90.20L665.18,90.20L665.18,90.20L666.23,90.20L666.23,90.20L667.28,90.20L667.28,90.20L668.34,90.20L668.34,90.20L669.39,90.20L669.39,90.20L670.44,90.20L670.44,90.20L671.49,90.20L671.49,90.20L672.55,90.20L672.55,90.20L673.60,90.20L673.60,90.20Z" fill="#fdca26" fill-opacity="0.8"/>
<path d="M566.20,90.20L566.20,60.09L567.25,60.09L567.25,60.09L568.31,60.09L568.31,60.09L569.36,60.09L569.36,60.09L570.41,60.09L570.41,60.09L571.46,60.09L571.46,60.09L572.52,60.09L572.52,60.09L573.57,60.09L573.57,60.09L574.62,60.09L574.62,60.09L575.68,60.09L575.68,60.09L576.73,60.09L576.73,60.09L577.78,60.09L577.78,60.09L578.84,60.09L578.84,60.09L579.89,60.09L579.89,60.09L580.94,60.09L580.94,60.09L581.99,60.09L581.99,60.09L583.05,60.09L583.05,60.09L584.10,60.09L584.10,60.09L585.15,60.09L585.15,60.09L586.21,60.09L586.21,60.09L587.26,60.09L587.26,60.09L588.31,60.09L588.31,60.09L589.36,60.09L589.36,60.09L590.42,60.09L590.42,60.09L591.47,60.09L591.47,60.09L592.52,60.09L592.52,60.09L593.58,60.09L593.58,60.10L594.63,60.10L594.63,60.19L595.68,60.19L595.68,60.58L596.74,60.58L596.74,62.39L597.79,62.39L597.79,64.56L598.84,64.56L598.84,66.73L599.89,66.73L599.89,68.54L600.95,68.54L600.95,69.55L602.00,69.55L602.00,70.26L603.05,70.26L603.05,70.96L604.11,70.96L604.11,71.69L605.16,71.69L605.16,72.46L606.21,72.46L606.21,73.27L607.26,73.27L607.26,74.11L608.32,74.11L608.32,74.96L609.37,74.96L609.37,75.81L610.42,75.81L610.42,76.67L611.48,76.67L611.48,77.46L612.53,77.46L612.53,78.14L613.58,78.14L613.58,78.74L614.64,78.74L614.64,79.28L615.69,79.28L615.69,79.75L616.74,79.75L616.74,80.19L617.79,80.19L617.79,80.60L618.85,80.60L618.85,81.02L619.90,81.02L619.90,81.42L620.95,81.42L620.95,81.78L622.01,81.78L622.01,82.10L623.06,82.10L623.06,82.40L624.11,82.40L624.11,82.70L625.16,82.70L625.16,82.98L626.22,82.98L626.22,83.26L627.27,83.26L627.27,83.50L628.32,83.50L628.32,83.70L629.38,83.70L629.38,83.90L630.43,83.90L630.43,84.10L631.48,84.10L631.48,84.27L632.54,84.27L632.54,84.42L633.59,84.42L633.59,84.53L634.64,84.53L634.64,84.64L635.69,84.64L635.69,84.72L636.75,84.72L636.75,84.83L637.80,84.83L637.80,84.99L638.85,84.99L638.85,85.20L639.91,85.20L639.91,85.47L640.96,85.47L640.96,85.79L642.01,85.79L642.01,86.15L643.06,86.15L643.06,86.57L644.12,86.57L644.12,87.07L645.17,87.07L645.17,87.62L646.22,87.62L646.22,88.19L647.28,88.19L647.28,88.74L648.33,88.74L648.33,89.19L649.38,89.19L649.38,89.51L650.44,89.51L650.44,89.72L651.49,89.72L651.49,89.88L652.54,89.88L652.54,90.00L653.59,90.00L653.59,90.07L654.65,90.07L654.65,90.11L655.70,90.11L655.70,90.14L656.75,90.14L656.75,90.16L657.81,90.16L657.81,90.19L658.86,90.19L658.86,90.20L659.91,90.20L659.91,90.20L660.96,90.20L660.96,90.20L662.02,90.20L662.02,90.20L663.07,90.20L663.07,90.20L664.12,90.20L664.12,90.20L665.18,90.20L665.18,90.20L666.23,90.20L666.23,90.20L667.28,90.20L667.28,90.20L668.34,90.20L668.34,90.20L669.39,90.20L669.39,90.20L670.44,90.20L670.44,90.20L671.49,90.20L671.49,90.20L672.55,90.20L672.55,90.20L673.60,90.20L673.60,90.20Z" fill="#fb9f3a" fill-opacity="0.8"/>
<path d="M566.20,90.20L566.20,63.85L567.25,63.85L567.25,63.85L568.31,63.85L568.31,63.85L569.36,63.85L569.36,63.85L570.41,63.85L570.41,63.85L571.46,63.85L571.46,63.85L572.52,63.85L572.52,63.85L573.57,63.85L573.57,63.85L574.62,63.85L574.62,63.85L575.68,63.85L575.68,63.85L576.73,63.85L576.73,63.85L577.78,63.85L577.78,63.85L578.84,63.85L578.84,63.85L579.89,63.85L579.89,63.85L580.94,63.85L580.94,63.85L581.99,63.85L581.99,63.85L583.05,63.85L583.05,63.85L584.10,63.85L584.10,63.85L585.15,63.85L585.15,63.85L586.21,63.85L586.21,63.85L587.26,63.85L587.26,63.85L588.31,63.85L588.31,63.85L589.36,63.85L589.36,63.85L590.42,63.85L590.42,63.85L591.47,63.85L591.47,63.85L592.52,63.85L592.52,63.85L593.58,63.85L593.58,63.87L594.63,63.87L594.63,63.96L595.68,63.96L595.68,64.37L596.74,64.37L596.74,65.19L597.79,65.19L597.79,66.14L598.84,66.14L598.84,67.09L599.89,67.09L599.89,68.04L600.95,68.04L600.95,68.85L602.00,68.85L602.00,69.60L603.05,69.60L603.05,70.35L604.11,70.35L604.11,71.13L605.16,71.13L605.16,71.97L606.21,71.97L606.21,72.84L607.26,72.84L607.26,73.75L608.32,73.75L608.32,74.67L609.37,74.67L609.37,75.60L610.42,75.60L610.42,76.52L611.48,76.52L611.48,77.38L612.53,77.38L612.53,78.11L613.58,78.11L613.58,78.67L614.64,78.67L614.64,79.17L615.69,79.17L615.69,79.63L616.74,79.63L616.74,80.07L617.79,80.07L617.79,80.48L618.85,80.48L618.85,80.85L619.90,80.85L619.90,81.22L620.95,81.22L620.95,81.55L622.01,81.55L622.01,81.86L623.06,81.86L623.06,82.16L624.11,82.16L624.11,82.44L625.16,82.44L625.16,82.70L626.22,82.70L626.22,82.94L627.27,82.94L627.27,83.16L628.32,83.16L628.32,83.35L629.38,83.35L629.38,83.53L630.43,83.53L630.43,83.71L631.48,83.71L631.48,83.87L632.54,83.87L632.54,84.00L633.59,84.00L633.59,84.11L634.64,84.11L634.64,84.23L635.69,84.23L635.69,84.31L636.75,84.31L636.75,84.43L637.80,84.43L637.80,84.61L638.85,84.61L638.85,84.84L639.91,84.84L639.91,85.12L640.96,85.12L640.96,85.47L642.01,85.47L642.01,85.86L643.06,85.86L643.06,86.31L644.12,86.31L644.12,86.84L645.17,86.84L645.17,87.43L646.22,87.43L646.22,88.05L647.28,88.05L647.28,88.64L648.33,88.64L648.33,89.13L649.38,89.13L649.38,89.46L650.44,89.46L650.44,89.69L651.49,89.69L651.49,89.86L652.54,89.86L652.54,89.99L653.59,89.99L653.59,90.06L654.65,90.06L654.65,90.11L655.70,90.11L655.70,90.14L656.75,90.14L656.75,90.17L657.81,90.17L657.81,90.18L658.86,90.18L658.86,90.20L659.91,90.20L659.91,90.20L660.96,90.20L660.96,90.20L662.02,90.20L662.02,90.20L663.07,90.20L663.07,90.20L664.12,90.20L664.12,90.20L665.18,90.20L665.18,90.20L666.23,90.20L666.23,90.20L667.28,90.20L667.28,90.20L668.34,90.20L668.34,90.20L669.39,90.20L669.39,90.20L670.44,90.20L670.44,90.20L671.49,90.20L671.49,90.20L672.55,90.20L672.55,90.20L673.60,90.20L673.60,90.20Z" fill="#ed7953" fill-opacity="0.8"/>
<path d="M566.20,90.20L566.20,67.61L567.25,67.61L567.25,67.61L568.31,67.61L568.31,67.61L569.36,67.61L569.36,67.61L570.41,67.61L570.41,67.61L571.46,67.61L571.46,67.61L572.52,67.61L572.52,67.61L573.57,67.61L573.57,67.61L574.62,67.61L574.62,67.61L575.68,67.61L575.68,67.61L576.73,67.61L576.73,67.61L577.78,67.61L577.78,67.61L578.84,67.61L578.84,67.61L579.89,67.61L579.89,67.61L580.94,67.61L580.94,67.61L581.99,67.61L581.99,67.61L583.05,67.61L583.05,67.61L584.10,67.61L584.10,67.61L585.15,67.61L585.15,67.61L586.21,67.61L586.21,67.61L587.26,67.61L587.26,67.61L588.31,67.61L588.31,67.61L589.36,67.61L589.36,67.61L590.42,67.61L590.42,67.61L591.47,67.61L591.47,67.61L592.52,67.61L592.52,67.61L593.58,67.61L593.58,67.61L594.63,67.61L594.63,67.69L595.68,67.69L595.68,68.03L596.74,68.03L596.74,68.52L597.79,68.52L597.79,69.27L598.84,69.27L598.84,70.02L599.89,70.02L599.89,70.69L600.95,70.69L600.95,71.39L602.00,71.39L602.00,72.06L603.05,72.06L603.05,72.71L604.11,72.71L604.11,73.41L605.16,73.41L605.16,74.14L606.21,74.14L606.21,74.90L607.26,74.90L607.26,75.70L608.32,75.70L608.32,76.50L609.37,76.50L609.37,77.32L610.42,77.32L610.42,78.13L611.48,78.13L611.48,78.88L612.53,78.88L612.53,79.51L613.58,79.51L613.58,79.98L614.64,79.98L614.64,80.40L615.69,80.40L615.69,80.78L616.74,80.78L616.74,81.15L617.79,81.15L617.79,81.48L618.85,81.48L618.85,81.80L619.90,81.80L619.90,82.09L620.95,82.09L620.95,82.37L622.01,82.37L622.01,82.63L623.06,82.63L623.06,82.87L624.11,82.87L624.11,83.10L625.16,83.10L625.16,83.31L626.22,83.31L626.22,83.50L627.27,83.50L627.27,83.67L628.32,83.67L628.32,83.83L629.38,83.83L629.38,83.97L630.43,83.97L630.43,84.10L631.48,84.10L631.48,84.22L632.54,84.22L632.54,84.32L633.59,84.32L633.59,84.42L634.64,84.42L634.64,84.51L635.69,84.51L635.69,84.64L636.75,84.64L636.75,84.76L637.80,84.76L637.80,84.92L638.85,84.92L638.85,85.13L639.91,85.13L639.91,85.40L640.96,85.40L640.96,85.73L642.01,85.73L642.01,86.09L643.06,86.09L643.06,86.52L644.12,86.52L644.12,87.02L645.17,87.02L645.17,87.58L646.22,87.58L646.22,88.16L647.28,88.16L647.28,88.72L648.33,88.72L648.33,89.18L649.38,89.18L649.38,89.50L650.44,89.50L650.44,89.72L651.49,89.72L651.49,89.88L652.54,89.88L652.54,90.00L653.59,90.00L653.59,90.07L654.65,90.07L654.65,90.11L655.70,90.11L655.70,90.14L656.75,90.14L656.75,90.17L657.81,90.17L657.81,90.18L658.86,90.18L658.86,90.20L659.91,90.20L659.91,90.20L660.96,90.20L660.96,90.20L662.02,90.20L662.02,90.20L663.07,90.20L663.07,90.20L664.12,90.20L664.12,90.20L665.18,90.20L665.18,90.20L666.23,90.20L666.23,90.20L667.28,90.20L667.28,90.20L668.34,90.20L668.34,90.20L669.39,90.20L669.39,90.20L670.44,90.20L670.44,90.20L671.49,90.20L671.49,90.20L672.55,90.20L672.55,90.20L673.60,90.20L673.60,90.20Z" fill="#d8576b" fill-opacity="0.8"/>
<path d="M566.20,90.20L566.20,71.38L567.25,71.38L567.25,71.38L568.31,71.38L568.31,71.38L569.36,71.38L569.36,71.38L570.41,71.38L570.41,71.38L571.46,71.38L571.46,71.38L572.52,71.38L572.52,71.38L573.57,71.38L573.57,71.38L574.62,71.38L574.62,71.38L575.68,71.38L575.68,71.38L576.73,71.38L576.73,71.38L577.78,71.38L577.78,71.38L578.84,71.38L578.84,71.38L579.89,71.38L579.89,71.38L580.94,71.38L580.94,71.38L581.99,71.38L581.99,71.38L583.05,71.38L583.05,71.38L584.10,71.38L584.10,71.38L585.15,71.38L585.15,71.38L586.21,71.38L586.21,71.38L587.26,71.38L587.26,71.38L588.31,71.38L588.31,71.38L589.36,71.38L589.36,71.38L590.42,71.38L590.42,71.38L591.47,71.38L591.47,71.38L592.52,71.38L592.52,71.38L593.58,71.38L593.58,71.38L594.63,71.38L594.63,71.44L595.68,71.44L595.68,71.74L596.74,71.74L596.74,72.13L597.79,72.13L597.79,72.75L598.84,72.75L598.84,73.36L599.89,73.36L599.89,73.95L600.95,73.95L600.95,74.55L602.00,74.55L602.00,75.13L603.05,75.13L603.05,75.68L604.11,75.68L604.11,76.25L605.16,76.25L605.16,76.83L606.21,76.83L606.21,77.41L607.26,77.41L607.26,78.00L608.32,78.00L608.32,78.60L609.37,78.60L609.37,79.20L610.42,79.20L610.42,79.79L611.48,79.79L611.48,80.34L612.53,80.34L612.53,80.79L613.58,80.79L613.58,81.19L614.64,81.19L614.64,81.55L615.69,81.55L615.69,81.88L616.74,81.88L616.74,82.20L617.79,82.20L617.79,82.49L618.85,82.49L618.85,82.76L619.90,82.76L619.90,83.01L620.95,83.01L620.95,83.25L622.01,83.25L622.01,83.47L623.06,83.47L623.06,83.69L624.11,83.69L624.11,83.89L625.16,83.89L625.16,84.07L626.22,84.07L626.22,84.24L627.27,84.24L627.27,84.39L628.32,84.39L628.32,84.52L629.38,84.52L629.38,84.64L630.43,84.64L630.43,84.75L631.48,84.75L631.48,84.85L632.54,84.85L632.54,84.94L633.59,84.94L633.59,85.02L634.64,85.02L634.64,85.11L635.69,85.11L635.69,85.22L636.75,85.22L636.75,85.33L637.80,85.33L637.80,85.47L638.85,85.47L638.85,85.66L639.91,85.66L639.91,85.91L640.96,85.91L640.96,86.20L642.01,86.20L642.01,86.53L643.06,86.53L643.06,86.91L644.12,86.91L644.12,87.35L645.17,87.35L645.17,87.85L646.22,87.85L646.22,88.37L647.28,88.37L647.28,88.87L648.33,88.87L648.33,89.29L649.38,89.29L649.38,89.57L650.44,89.57L650.44,89.77L651.49,89.77L651.49,89.92L652.54,89.92L652.54,90.02L653.59,90.02L653.59,90.09L654.65,90.09L654.65,90.12L655.70,90.12L655.70,90.15L656.75,90.15L656.75,90.17L657.81,90.17L657.81,90.19L658.86,90.19L658.86,90.20L659.91,90.20L659.91,90.20L660.96,90.20L660.96,90.20L662.02,90.20L662.02,90.20L663.07,90.20L663.07,90.20L664.12,90.20L664.12,90.20L665.18,90.20L665.18,90.20L666.23,90.20L666.23,90.20L667.28,90.20L667.28,90.20L668.34,90.20L668.34,90.20L669.39,90.20L669.39,90.20L670.44,90.20L670.44,90.20L671.49,90.20L671.49,90.20L672.55,90.20L672.55,90.20L673.60,90.20L673.60,90.20Z" fill="#bd3786" fill-opacity="0.8"/>
<path d="M566.20,90.20L566.20,75.14L567.25,75.14L567.25,75.14L568.31,75.14L568.31,75.14L569.36,75.14L569.36,75.14L570.41,75.14L570.41,75.14L571.46,75.14L571.46,75.14L572.52,75.14L572.52,75.14L573.57,75.14L573.57,75.14L574.62,75.14L574.62,75.14L575.68,75.14L575.68,75.14L576.73,75.14L576.73,75.14L577.78,75.14L577.78,75.14L578.84,75.14L578.84,75.14L579.89,75.14L579.89,75.14L580.94,75.14L580.94,75.14L581.99,75.14L581.99,75.14L583.05,75.14L583.05,75.14L584.10,75.14L584.10,75.14L585.15,75.14L585.15,75.14L586.21,75.14L586.21,75.14L587.26,75.14L587.26,75.14L588.31,75.14L588.31,75.14L589.36,75.14L589.36,75.14L590.42,75.14L590.42,75.14L591.47,75.14L591.47,75.14L592.52,75.14L592.52,75.14L593.58,75.14L593.58,75.14L594.63,75.14L594.63,75.17L595.68,75.17L595.68,75.25L596.74,75.25L596.74,75.40L597.79,75.40L597.79,75.59L598.84,75.59L598.84,75.75L599.89,75.75L599.89,75.89L600.95,75.89L600.95,76.00L602.00,76.00L602.00,76.13L603.05,76.13L603.05,76.28L604.11,76.28L604.11,76.53L605.16,76.53L605.16,76.89L606.21,76.89L606.21,77.35L607.26,77.35L607.26,77.89L608.32,77.89L608.32,78.50L609.37,78.50L609.37,79.14L610.42,79.14L610.42,79.77L611.48,79.77L611.48,80.34L612.53,80.34L612.53,80.83L613.58,80.83L613.58,81.25L614.64,81.25L614.64,81.64L615.69,81.64L615.69,81.98L616.74,81.98L616.74,82.30L617.79,82.30L617.79,82.59L618.85,82.59L618.85,82.85L619.90,82.85L619.90,83.09L620.95,83.09L620.95,83.31L622.01,83.31L622.01,83.51L623.06,83.51L623.06,83.68L624.11,83.68L624.11,83.84L625.16,83.84L625.16,83.99L626.22,83.99L626.22,84.14L627.27,84.14L627.27,84.26L628.32,84.26L628.32,84.39L629.38,84.39L629.38,84.50L630.43,84.50L630.43,84.60L631.48,84.60L631.48,84.70L632.54,84.70L632.54,84.78L633.59,84.78L633.59,84.85L634.64,84.85L634.64,84.94L635.69,84.94L635.69,85.05L636.75,85.05L636.75,85.16L637.80,85.16L637.80,85.31L638.85,85.31L638.85,85.50L639.91,85.50L639.91,85.75L640.96,85.75L640.96,86.05L642.01,86.05L642.01,86.39L643.06,86.39L643.06,86.79L644.12,86.79L644.12,87.26L645.17,87.26L645.17,87.78L646.22,87.78L646.22,88.31L647.28,88.31L647.28,88.83L648.33,88.83L648.33,89.26L649.38,89.26L649.38,89.55L650.44,89.55L650.44,89.75L651.49,89.75L651.49,89.91L652.54,89.91L652.54,90.01L653.59,90.01L653.59,90.08L654.65,90.08L654.65,90.12L655.70,90.12L655.70,90.15L656.75,90.15L656.75,90.17L657.81,90.17L657.81,90.18L658.86,90.18L658.86,90.20L659.91,90.20L659.91,90.20L660.96,90.20L660.96,90.20L662.02,90.20L662.02,90.20L663.07,90.20L663.07,90.20L664.12,90.20L664.12,90.20L665.18,90.20L665.18,90.20L666.23,90.20L666.23,90.20L667.28,90.20L667.28,90.20L668.34,90.20L668.34,90.20L669.39,90.20L669.39,90.20L670.44,90.20L670.44,90.20L671.49,90.20L671.49,90.20L672.55,90.20L672.55,90.20L673.60,90.20L673.60,90.20Z" fill="#9c179e" fill-opacity="0.8"/>
<path d="M566.20,90.20L566.20,78.91L567.25,78.91L567.25,78.91L568.31,78.91L568.31,78.91L569.36,78.91L569.36,78.91L570.41,78.91L570.41,78.91L571.46,78.91L571.46,78.91L572.52,78.91L572.52,78.91L573.57,78.91L573.57,78.91L574.62,78.91L574.62,78.91L575.68,78.91L575.68,78.91L576.73,78.91L576.73,78.91L577.78,78.91L577.78,78.91L578.84,78.91L578.84,78.91L579.89,78.91L579.89,78.91L580.94,78.91L580.94,78.91L581.99,78.91L581.99,78.91L583.05,78.91L583.05,78.91L584.10,78.91L584.10,78.91L585.15,78.91L585.15,78.91L586.21,78.91L586.21,78.91L587.26,78.91L587.26,78.91L588.31,78.91L588.31,78.91L589.36,78.91L589.36,78.91L590.42,78.91L590.42,78.91L591.47,78.91L591.47,78.91L592.52,78.91L592.52,78.91L593.58,78.91L593.58,78.91L594.63,78.91L594.63,78.94L595.68,78.94L595.68,79.02L596.74,79.02L596.74,79.13L597.79,79.13L597.79,79.26L598.84,79.26L598.84,79.38L599.89,79.38L599.89,79.48L600.95,79.48L600.95,79.56L602.00,79.56L602.00,79.63L603.05,79.63L603.05,79.70L604.11,79.70L604.11,79.75L605.16,79.75L605.16,79.82L606.21,79.82L606.21,79.90L607.26,79.90L607.26,80.03L608.32,80.03L608.32,80.20L609.37,80.20L609.37,80.42L610.42,80.42L610.42,80.69L611.48,80.69L611.48,81.01L612.53,81.01L612.53,81.35L613.58,81.35L613.58,81.69L614.64,81.69L614.64,82.03L615.69,82.03L615.69,82.36L616.74,82.36L616.74,82.67L617.79,82.67L617.79,82.95L618.85,82.95L618.85,83.20L619.90,83.20L619.90,83.44L620.95,83.44L620.95,83.65L622.01,83.65L622.01,83.85L623.06,83.85L623.06,84.02L624.11,84.02L624.11,84.19L625.16,84.19L625.16,84.33L626.22,84.33L626.22,84.47L627.27,84.47L627.27,84.59L628.32,84.59L628.32,84.70L629.38,84.70L629.38,84.80L630.43,84.80L630.43,84.90L631.48,84.90L631.48,84.99L632.54,84.99L632.54,85.07L633.59,85.07L633.59,85.14L634.64,85.14L634.64,85.22L635.69,85.22L635.69,85.33L636.75,85.33L636.75,85.44L637.80,85.44L637.80,85.58L638.85,85.58L638.85,85.77L639.91,85.77L639.91,86.01L640.96,86.01L640.96,86.29L642.01,86.29L642.01,86.61L643.06,86.61L643.06,86.98L644.12,86.98L644.12,87.42L645.17,87.42L645.17,87.91L646.22,87.91L646.22,88.42L647.28,88.42L647.28,88.90L648.33,88.90L648.33,89.31L649.38,89.31L649.38,89.59L650.44,89.59L650.44,89.78L651.49,89.78L651.49,89.92L652.54,89.92L652.54,90.02L653.59,90.02L653.59,90.08L654.65,90.08L654.65,90.12L655.70,90.12L655.70,90.15L656.75,90.15L656.75,90.17L657.81,90.17L657.81,90.19L658.86,90.19L658.86,90.20L659.91,90.20L659.91,90.20L660.96,90.20L660.96,90.20L662.02,90.20L662.02,90.20L663.07,90.20L663.07,90.20L664.12,90.20L664.12,90.20L665.18,90.20L665.18,90.20L666.23,90.20L666.23,90.20L667.28,90.20L667.28,90.20L668.34,90.20L668.34,90.20L669.39,90.20L669.39,90.20L670.44,90.20L670.44,90.20L671.49,90.20L671.49,90.20L672.55,90.20L672.55,90.20L673.60,90.20L673.60,90.20Z" fill="#7201a8" fill-opacity="0.8"/>
<path d="M566.20,90.20L566.20,82.67L567.25,82.67L567.25,82.67L568.31,82.67L568.31,82.67L569.36,82.67L569.36,82.67L570.41,82.67L570.41,82.67L571.46,82.67L571.46,82.67L572.52,82.67L572.52,82.67L573.57,82.67L573.57,82.67L574.62,82.67L574.62,82.67L575.68,82.67L575.68,82.67L576.73,82.67L576.73,82.67L577.78,82.67L577.78,82.67L578.84,82.67L578.84,82.67L579.89,82.67L579.89,82.67L580.94,82.67L580.94,82.67L581.99,82.67L581.99,82.67L583.05,82.67L583.05,82.67L584.10,82.67L584.10,82.67L585.15,82.67L585.15,82.67L586.21,82.67L586.21,82.67L587.26,82.67L587.26,82.67L588.31,82.67L588.31,82.67L589.36,82.67L589.36,82.67L590.42,82.67L590.42,82.67L591.47,82.67L591.47,82.67L592.52,82.67L592.52,82.67L593.58,82.67L593.58,82.67L594.63,82.67L594.63,82.70L595.68,82.70L595.68,82.73L596.74,82.73L596.74,82.78L597.79,82.78L597.79,82.82L598.84,82.82L598.84,82.88L599.89,82.88L599.89,82.93L600.95,82.93L600.95,82.98L602.00,82.98L602.00,83.04L603.05,83.04L603.05,83.08L604.11,83.08L604.11,83.12L605.16,83.12L605.16,83.17L606.21,83.17L606.21,83.21L607.26,83.21L607.26,83.26L608.32,83.26L608.32,83.31L609.37,83.31L609.37,83.36L610.42,83.36L610.42,83.42L611.48,83.42L611.48,83.47L612.53,83.47L612.53,83.52L613.58,83.52L613.58,83.59L614.64,83.59L614.64,83.65L615.69,83.65L615.69,83.72L616.74,83.72L616.74,83.79L617.79,83.79L617.79,83.86L618.85,83.86L618.85,83.93L619.90,83.93L619.90,84.00L620.95,84.00L620.95,84.08L622.01,84.08L622.01,84.15L623.06,84.15L623.06,84.22L624.11,84.22L624.11,84.29L625.16,84.29L625.16,84.36L626.22,84.36L626.22,84.42L627.27,84.42L627.27,84.48L628.32,84.48L628.32,84.54L629.38,84.54L629.38,84.59L630.43,84.59L630.43,84.64L631.48,84.64L631.48,84.66L632.54,84.66L632.54,84.67L633.59,84.67L633.59,84.70L634.64,84.70L634.64,84.77L635.69,84.77L635.69,84.88L636.75,84.88L636.75,85.03L637.80,85.03L637.80,85.23L638.85,85.23L638.85,85.52L639.91,85.52L639.91,85.87L640.96,85.87L640.96,86.29L642.01,86.29L642.01,86.72L643.06,86.72L643.06,87.20L644.12,87.20L644.12,87.73L645.17,87.73L645.17,88.27L646.22,88.27L646.22,88.80L647.28,88.80L647.28,89.24L648.33,89.24L648.33,89.55L649.38,89.55L649.38,89.76L650.44,89.76L650.44,89.91L651.49,89.91L651.49,90.00L652.54,90.00L652.54,90.08L653.59,90.08L653.59,90.12L654.65,90.12L654.65,90.15L655.70,90.15L655.70,90.17L656.75,90.17L656.75,90.19L657.81,90.19L657.81,90.20L658.86,90.20L658.86,90.20L659.91,90.20L659.91,90.20L660.96,90.20L660.96,90.20L662.02,90.20L662.02,90.20L663.07,90.20L663.07,90.20L664.12,90.20L664.12,90.20L665.18,90.20L665.18,90.20L666.23,90.20L666.23,90.20L667.28,90.20L667.28,90.20L668.34,90.20L668.34,90.20L669.39,90.20L669.39,90.20L670.44,90.20L670.44,90.20L671.49,90.20L671.49,90.20L672.55,90.20L672.55,90.20L673.60,90.20L673.60,90.20Z" fill="#46039f" fill-opacity="0.8"/>
<path d="M566.20,90.20L566.20,86.44L567.25,86.44L567.25,86.44L568.31,86.44L568.31,86.44L569.36,86.44L569.36,86.44L570.41,86.44L570.41,86.44L571.46,86.44L571.46,86.44L572.52,86.44L572.52,86.44L573.57,86.44L573.57,86.44L574.62,86.44L574.62,86.44L575.68,86.44L575.68,86.44L576.73,86.44L576.73,86.44L577.78,86.44L577.78,86.44L578.84,86.44L578.84,86.44L579.89,86.44L579.89,86.44L580.94,86.44L580.94,86.44L581.99,86.44L581.99,86.44L583.05,86.44L583.05,86.44L584.10,86.44L584.10,86.44L585.15,86.44L585.15,86.44L586.21,86.44L586.21,86.44L587.26,86.44L587.26,86.44L588.31,86.44L588.31,86.44L589.36,86.44L589.36,86.44L590.42,86.44L590.42,86.44L591.47,86.44L591.47,86.44L592.52,86.44L592.52,86.44L593.58,86.44L593.58,86.44L594.63,86.44L594.63,86.44L595.68,86.44L595.68,86.46L596.74,86.46L596.74,86.48L597.79,86.48L597.79,86.51L598.84,86.51L598.84,86.53L599.89,86.53L599.89,86.56L600.95,86.56L600.95,86.59L602.00,86.59L602.00,86.62L603.05,86.62L603.05,86.65L604.11,86.65L604.11,86.67L605.16,86.67L605.16,86.70L606.21,86.70L606.21,86.72L607.26,86.72L607.26,86.74L608.32,86.74L608.32,86.76L609.37,86.76L609.37,86.78L610.42,86.78L610.42,86.80L611.48,86.80L611.48,86.81L612.53,86.81L612.53,86.83L613.58,86.83L613.58,86.84L614.64,86.84L614.64,86.86L615.69,86.86L615.69,86.87L616.74,86.87L616.74,86.88L617.79,86.88L617.79,86.91L618.85,86.91L618.85,86.93L619.90,86.93L619.90,86.95L620.95,86.95L620.95,86.97L622.01,86.97L622.01,86.99L623.06,86.99L623.06,87.01L624.11,87.01L624.11,87.03L625.16,87.03L625.16,87.05L626.22,87.05L626.22,87.07L627.27,87.07L627.27,87.09L628.32,87.09L628.32,87.11L629.38,87.11L629.38,87.11L630.43,87.11L630.43,87.11L631.48,87.11L631.48,87.11L632.54,87.11L632.54,87.11L633.59,87.11L633.59,87.14L634.64,87.14L634.64,87.19L635.69,87.19L635.69,87.27L636.75,87.27L636.75,87.38L637.80,87.38L637.80,87.52L638.85,87.52L638.85,87.71L639.91,87.71L639.91,87.94L640.96,87.94L640.96,88.20L642.01,88.20L642.01,88.48L643.06,88.48L643.06,88.76L644.12,88.76L644.12,89.06L645.17,89.06L645.17,89.33L646.22,89.33L646.22,89.57L647.28,89.57L647.28,89.77L648.33,89.77L648.33,89.90L649.38,89.90L649.38,90.00L650.44,90.00L650.44,90.06L651.49,90.06L651.49,90.10L652.54,90.10L652.54,90.13L653.59,90.13L653.59,90.15L654.65,90.15L654.65,90.17L655.70,90.17L655.70,90.19L656.75,90.19L656.75,90.20L657.81,90.20L657.81,90.20L658.86,90.20L658.86,90.20L659.91,90.20L659.91,90.20L660.96,90.20L660.96,90.20L662.02,90.20L662.02,90.20L663.07,90.20L663.07,90.20L664.12,90.20L664.12,90.20L665.18,90.20L665.18,90.20L666.23,90.20L666.23,90.20L667.28,90.20L667.28,90.20L668.34,90.20L668.34,90.20L669.39,90.20L669.39,90.20L670.44,90.20L670.44,90.20L671.49,90.20L671.49,90.20L672.55,90.20L672.55,90.20L673.60,90.20L673.60,90.20Z" fill="#0d0887" fill-opacity="0.8"/>
<line x1="626.22" y1="90.20" x2="626.22" y2="18.50" stroke="#000" stroke-width="1.2" stroke-dasharray="3.59 1.55"/>
</g>
<rect x="566.20" y="18.50" width="107.40" height="71.70" fill="none" stroke="#3a3a3a" stroke-width="0.8"/>
<line x1="578.84" y1="90.20" x2="578.84" y2="92.20" stroke="#3a3a3a" stroke-width="0.8"/>
<text x="578.84" y="99.80" font-size="7.40" text-anchor="middle">−20</text>
<line x1="610.42" y1="90.20" x2="610.42" y2="92.20" stroke="#3a3a3a" stroke-width="0.8"/>
<text x="610.42" y="99.80" font-size="7.40" text-anchor="middle">−10</text>
<line x1="642.01" y1="90.20" x2="642.01" y2="92.20" stroke="#3a3a3a" stroke-width="0.8"/>
<text x="642.01" y="99.80" font-size="7.40" text-anchor="middle">0</text>
<line x1="673.60" y1="90.20" x2="673.60" y2="92.20" stroke="#3a3a3a" stroke-width="0.8"/>
<text x="673.60" y="99.80" font-size="7.40" text-anchor="middle">10</text>
<line x1="564.20" y1="72.28" x2="566.20" y2="72.28" stroke="#3a3a3a" stroke-width="0.8"/>
<text x="562.00" y="74.78" font-size="7.40" text-anchor="end">2000</text>
<line x1="564.20" y1="54.35" x2="566.20" y2="54.35" stroke="#3a3a3a" stroke-width="0.8"/>
<text x="562.00" y="56.85" font-size="7.40" text-anchor="end">4000</text>
<line x1="564.20" y1="36.43" x2="566.20" y2="36.43" stroke="#3a3a3a" stroke-width="0.8"/>
<text x="562.00" y="38.93" font-size="7.40" text-anchor="end">6000</text>
<line x1="564.20" y1="18.50" x2="566.20" y2="18.50" stroke="#3a3a3a" stroke-width="0.8"/>
<text x="562.00" y="21.00" font-size="7.40" text-anchor="end">8000</text>
<text x="596.74" y="110.30" font-size="9.14" textLength="12.60" lengthAdjust="spacingAndGlyphs">log</text>
<text x="609.77" y="111.71" font-size="6.94" textLength="7.73" lengthAdjust="spacingAndGlyphs">10</text>
<text x="619.32" y="110.30" font-size="9.32" textLength="2.43" lengthAdjust="spacingAndGlyphs">(</text>
<text x="621.35" y="110.30" font-size="9.14" font-style="italic" textLength="5.40" lengthAdjust="spacingAndGlyphs">λ</text>
<text x="626.91" y="111.79" font-size="6.94" textLength="13.79" lengthAdjust="spacingAndGlyphs">QGT</text>
<text x="640.86" y="110.30" font-size="9.32" textLength="2.51" lengthAdjust="spacingAndGlyphs">)</text>
<text transform="translate(541.00,54.35) rotate(-90)" font-size="8.3" text-anchor="middle" textLength="67.4" lengthAdjust="spacingAndGlyphs">Cumulative occ.</text>
<clipPath id="clipc"><rect x="32.50" y="264.80" width="307.50" height="205.50"/></clipPath>
<g clip-path="url(#clipc)">
<path d="M32.50,470.30L32.50,470.30L35.51,470.30L35.51,470.30L38.53,470.30L38.53,470.30L41.54,470.30L41.54,470.30L44.56,470.30L44.56,470.30L47.57,470.30L47.57,470.30L50.59,470.30L50.59,470.30L53.60,470.30L53.60,470.30L56.62,470.30L56.62,470.30L59.63,470.30L59.63,470.30L62.65,470.30L62.65,470.30L65.66,470.30L65.66,470.30L68.68,470.30L68.68,470.30L71.69,470.30L71.69,470.30L74.71,470.30L74.71,470.30L77.72,470.30L77.72,470.30L80.74,470.30L80.74,470.30L83.75,470.30L83.75,470.30L86.76,470.30L86.76,470.30L89.78,470.30L89.78,470.30L92.79,470.30L92.79,470.30L95.81,470.30L95.81,470.30L98.82,470.30L98.82,470.30L101.84,470.30L101.84,469.22L104.85,469.22L104.85,468.14L107.87,468.14L107.87,467.60L110.88,467.60L110.88,467.06L113.90,467.06L113.90,467.06L116.91,467.06L116.91,464.89L119.93,464.89L119.93,453.54L122.94,453.54L122.94,428.12L125.96,428.12L125.96,381.07L128.97,381.07L128.97,326.99L131.99,326.99L131.99,326.99L135.00,326.99L135.00,381.07L138.01,381.07L138.01,437.85L141.03,437.85L141.03,454.08L144.04,454.08L144.04,452.45L147.06,452.45L147.06,450.83L150.07,450.83L150.07,449.21L153.09,449.21L153.09,447.05L156.10,447.05L156.10,443.26L159.12,443.26L159.12,442.72L162.13,442.72L162.13,442.18L165.15,442.18L165.15,442.72L168.16,442.72L168.16,444.88L171.18,444.88L171.18,446.51L174.19,446.51L174.19,448.67L177.21,448.67L177.21,449.75L180.22,449.75L180.22,450.83L183.24,450.83L183.24,451.37L186.25,451.37L186.25,451.91L189.26,451.91L189.26,451.37L192.28,451.37L192.28,450.83L195.29,450.83L195.29,449.21L198.31,449.21L198.31,450.83L201.32,450.83L201.32,443.26L204.34,443.26L204.34,438.93L207.35,438.93L207.35,434.61L210.37,434.61L210.37,431.36L213.38,431.36L213.38,427.58L216.40,427.58L216.40,423.79L219.41,423.79L219.41,421.09L222.43,421.09L222.43,418.93L225.44,418.93L225.44,417.84L228.46,417.84L228.46,416.22L231.47,416.22L231.47,413.52L234.49,413.52L234.49,409.73L237.50,409.73L237.50,406.49L240.51,406.49L240.51,405.95L243.53,405.95L243.53,407.03L246.54,407.03L246.54,409.73L249.56,409.73L249.56,409.19L252.57,409.19L252.57,413.52L255.59,413.52L255.59,421.63L258.60,421.63L258.60,431.36L261.62,431.36L261.62,437.85L264.63,437.85L264.63,441.10L267.65,441.10L267.65,443.80L270.66,443.80L270.66,444.88L273.68,444.88L273.68,448.67L276.69,448.67L276.69,451.37L279.71,451.37L279.71,453.54L282.72,453.54L282.72,457.32L285.74,457.32L285.74,461.65L288.75,461.65L288.75,465.97L291.76,465.97L291.76,465.43L294.78,465.43L294.78,465.43L297.79,465.43L297.79,467.06L300.81,467.06L300.81,467.60L303.82,467.60L303.82,468.14L306.84,468.14L306.84,468.14L309.85,468.14L309.85,468.68L312.87,468.68L312.87,468.68L315.88,468.68L315.88,469.22L318.90,469.22L318.90,469.22L321.91,469.22L321.91,469.76L324.93,469.76L324.93,470.30L327.94,470.30L327.94,470.30L330.96,470.30L330.96,470.30L333.97,470.30L333.97,470.30L336.99,470.30L336.99,470.30L340.00,470.30L340.00,470.30Z" fill="#f0f921" fill-opacity="0.8"/>
<path d="M32.50,470.30L32.50,470.30L35.51,470.30L35.51,470.30L38.53,470.30L38.53,470.30L41.54,470.30L41.54,470.30L44.56,470.30L44.56,470.30L47.57,470.30L47.57,470.30L50.59,470.30L50.59,470.30L53.60,470.30L53.60,470.30L56.62,470.30L56.62,470.30L59.63,470.30L59.63,470.30L62.65,470.30L62.65,470.30L65.66,470.30L65.66,470.30L68.68,470.30L68.68,470.30L71.69,470.30L71.69,470.30L74.71,470.30L74.71,470.30L77.72,470.30L77.72,470.30L80.74,470.30L80.74,470.30L83.75,470.30L83.75,470.30L86.76,470.30L86.76,470.30L89.78,470.30L89.78,470.30L92.79,470.30L92.79,470.30L95.81,470.30L95.81,470.30L98.82,470.30L98.82,470.30L101.84,470.30L101.84,469.22L104.85,469.22L104.85,468.68L107.87,468.68L107.87,468.14L110.88,468.14L110.88,467.60L113.90,467.60L113.90,467.60L116.91,467.60L116.91,465.97L119.93,465.97L119.93,457.32L122.94,457.32L122.94,435.69L125.96,435.69L125.96,408.11L128.97,408.11L128.97,340.51L131.99,340.51L131.99,340.51L135.00,340.51L135.00,418.93L138.01,418.93L138.01,440.56L141.03,440.56L141.03,455.70L144.04,455.70L144.04,454.08L147.06,454.08L147.06,451.91L150.07,451.91L150.07,450.83L153.09,450.83L153.09,448.67L156.10,448.67L156.10,445.42L159.12,445.42L159.12,444.88L162.13,444.88L162.13,444.34L165.15,444.34L165.15,444.88L168.16,444.88L168.16,447.05L171.18,447.05L171.18,448.13L174.19,448.13L174.19,450.29L177.21,450.29L177.21,451.37L180.22,451.37L180.22,452.45L183.24,452.45L183.24,452.99L186.25,452.99L186.25,453.54L189.26,453.54L189.26,452.99L192.28,452.99L192.28,452.45L195.29,452.45L195.29,450.83L198.31,450.83L198.31,450.83L201.32,450.83L201.32,443.26L204.34,443.26L204.34,438.93L207.35,438.93L207.35,435.15L210.37,435.15L210.37,431.90L213.38,431.90L213.38,428.12L216.40,428.12L216.40,424.33L219.41,424.33L219.41,421.63L222.43,421.63L222.43,419.47L225.44,419.47L225.44,418.38L228.46,418.38L228.46,417.30L231.47,417.30L231.47,414.06L234.49,414.06L234.49,410.27L237.50,410.27L237.50,407.57L240.51,407.57L240.51,406.49L243.53,406.49L243.53,407.57L246.54,407.57L246.54,407.57L249.56,407.57L249.56,408.11L252.57,408.11L252.57,412.98L255.59,412.98L255.59,420.55L258.60,420.55L258.60,429.74L261.62,429.74L261.62,437.85L264.63,437.85L264.63,441.64L267.65,441.64L267.65,443.80L270.66,443.80L270.66,445.42L273.68,445.42L273.68,448.67L276.69,448.67L276.69,451.91L279.71,451.91L279.71,453.54L282.72,453.54L282.72,457.32L285.74,457.32L285.74,461.65L288.75,461.65L288.75,465.97L291.76,465.97L291.76,465.97L294.78,465.97L294.78,465.43L297.79,465.43L297.79,467.06L300.81,467.06L300.81,467.60L303.82,467.60L303.82,468.14L306.84,468.14L306.84,468.14L309.85,468.14L309.85,468.68L312.87,468.68L312.87,469.22L315.88,469.22L315.88,469.22L318.90,469.22L318.90,469.22L321.91,469.22L321.91,469.76L324.93,469.76L324.93,470.30L327.94,470.30L327.94,470.30L330.96,470.30L330.96,470.30L333.97,470.30L333.97,470.30L336.99,470.30L336.99,470.30L340.00,470.30L340.00,470.30Z" fill="#fdc527" fill-opacity="0.8"/>
<path d="M32.50,470.30L32.50,470.30L35.51,470.30L35.51,470.30L38.53,470.30L38.53,470.30L41.54,470.30L41.54,470.30L44.56,470.30L44.56,470.30L47.57,470.30L47.57,470.30L50.59,470.30L50.59,470.30L53.60,470.30L53.60,470.30L56.62,470.30L56.62,470.30L59.63,470.30L59.63,470.30L62.65,470.30L62.65,470.30L65.66,470.30L65.66,470.30L68.68,470.30L68.68,470.30L71.69,470.30L71.69,470.30L74.71,470.30L74.71,470.30L77.72,470.30L77.72,470.30L80.74,470.30L80.74,470.30L83.75,470.30L83.75,470.30L86.76,470.30L86.76,470.30L89.78,470.30L89.78,470.30L92.79,470.30L92.79,470.30L95.81,470.30L95.81,470.30L98.82,470.30L98.82,470.30L101.84,470.30L101.84,469.76L104.85,469.76L104.85,469.22L107.87,469.22L107.87,468.68L110.88,468.68L110.88,468.14L113.90,468.14L113.90,468.14L116.91,468.14L116.91,467.06L119.93,467.06L119.93,459.48L122.94,459.48L122.94,448.67L125.96,448.67L125.96,434.07L128.97,434.07L128.97,420.01L131.99,420.01L131.99,420.01L135.00,420.01L135.00,420.01L138.01,420.01L138.01,443.80L141.03,443.80L141.03,452.45L144.04,452.45L144.04,452.99L147.06,452.99L147.06,452.99L150.07,452.99L150.07,452.99L153.09,452.99L153.09,452.99L156.10,452.99L156.10,452.99L159.12,452.99L159.12,452.99L162.13,452.99L162.13,452.99L165.15,452.99L165.15,454.08L168.16,454.08L168.16,454.62L171.18,454.62L171.18,455.70L174.19,455.70L174.19,456.78L177.21,456.78L177.21,457.32L180.22,457.32L180.22,458.40L183.24,458.40L183.24,458.94L186.25,458.94L186.25,460.03L189.26,460.03L189.26,460.57L192.28,460.57L192.28,458.40L195.29,458.40L195.29,456.24L198.31,456.24L198.31,451.37L201.32,451.37L201.32,443.80L204.34,443.80L204.34,439.48L207.35,439.48L207.35,435.69L210.37,435.69L210.37,432.44L213.38,432.44L213.38,428.12L216.40,428.12L216.40,424.87L219.41,424.87L219.41,422.17L222.43,422.17L222.43,420.01L225.44,420.01L225.44,418.93L228.46,418.93L228.46,417.84L231.47,417.84L231.47,407.03L234.49,407.03L234.49,402.70L237.50,402.70L237.50,399.46L240.51,399.46L240.51,398.38L243.53,398.38L243.53,400.00L246.54,400.00L246.54,402.70L249.56,402.70L249.56,408.11L252.57,408.11L252.57,415.14L255.59,415.14L255.59,423.25L258.60,423.25L258.60,430.82L261.62,430.82L261.62,437.85L264.63,437.85L264.63,441.64L267.65,441.64L267.65,444.34L270.66,444.34L270.66,445.42L273.68,445.42L273.68,449.21L276.69,449.21L276.69,451.91L279.71,451.91L279.71,453.54L282.72,453.54L282.72,457.32L285.74,457.32L285.74,461.65L288.75,461.65L288.75,465.97L291.76,465.97L291.76,465.97L294.78,465.97L294.78,465.43L297.79,465.43L297.79,467.06L300.81,467.06L300.81,467.60L303.82,467.60L303.82,468.14L306.84,468.14L306.84,468.14L309.85,468.14L309.85,468.68L312.87,468.68L312.87,469.22L315.88,469.22L315.88,469.22L318.90,469.22L318.90,469.22L321.91,469.22L321.91,469.76L324.93,469.76L324.93,470.30L327.94,470.30L327.94,470.30L330.96,470.30L330.96,470.30L333.97,470.30L333.97,470.30L336.99,470.30L336.99,470.30L340.00,470.30L340.00,470.30Z" fill="#f89540" fill-opacity="0.8"/>
<path d="M32.50,470.30L32.50,470.30L35.51,470.30L35.51,470.30L38.53,470.30L38.53,470.30L41.54,470.30L41.54,470.30L44.56,470.30L44.56,470.30L47.57,470.30L47.57,470.30L50.59,470.30L50.59,470.30L53.60,470.30L53.60,470.30L56.62,470.30L56.62,470.30L59.63,470.30L59.63,470.30L62.65,470.30L62.65,470.30L65.66,470.30L65.66,470.30L68.68,470.30L68.68,470.30L71.69,470.30L71.69,470.30L74.71,470.30L74.71,470.30L77.72,470.30L77.72,470.30L80.74,470.30L80.74,470.30L83.75,470.30L83.75,470.30L86.76,470.30L86.76,470.30L89.78,470.30L89.78,470.30L92.79,470.30L92.79,470.30L95.81,470.30L95.81,470.30L98.82,470.30L98.82,470.30L101.84,470.30L101.84,469.76L104.85,469.76L104.85,469.22L107.87,469.22L107.87,468.68L110.88,468.68L110.88,468.68L113.90,468.68L113.90,468.68L116.91,468.68L116.91,467.60L119.93,467.60L119.93,462.19L122.94,462.19L122.94,451.37L125.96,451.37L125.96,444.88L128.97,444.88L128.97,444.88L131.99,444.88L131.99,444.88L135.00,444.88L135.00,445.96L138.01,445.96L138.01,454.08L141.03,454.08L141.03,456.78L144.04,456.78L144.04,457.32L147.06,457.32L147.06,457.32L150.07,457.32L150.07,457.32L153.09,457.32L153.09,457.32L156.10,457.32L156.10,457.32L159.12,457.32L159.12,457.32L162.13,457.32L162.13,457.32L165.15,457.32L165.15,457.86L168.16,457.86L168.16,458.40L171.18,458.40L171.18,458.94L174.19,458.94L174.19,459.48L177.21,459.48L177.21,460.03L180.22,460.03L180.22,460.57L183.24,460.57L183.24,461.11L186.25,461.11L186.25,461.11L189.26,461.11L189.26,461.65L192.28,461.65L192.28,460.57L195.29,460.57L195.29,459.48L198.31,459.48L198.31,450.83L201.32,450.83L201.32,443.26L204.34,443.26L204.34,438.93L207.35,438.93L207.35,434.61L210.37,434.61L210.37,431.36L213.38,431.36L213.38,427.58L216.40,427.58L216.40,423.79L219.41,423.79L219.41,421.09L222.43,421.09L222.43,418.93L225.44,418.93L225.44,417.84L228.46,417.84L228.46,416.22L231.47,416.22L231.47,409.19L234.49,409.19L234.49,404.32L237.50,404.32L237.50,403.24L240.51,403.24L240.51,403.78L243.53,403.78L243.53,405.41L246.54,405.41L246.54,409.19L249.56,409.19L249.56,414.06L252.57,414.06L252.57,420.55L255.59,420.55L255.59,427.58L258.60,427.58L258.60,434.07L261.62,434.07L261.62,437.85L264.63,437.85L264.63,441.10L267.65,441.10L267.65,443.80L270.66,443.80L270.66,444.88L273.68,444.88L273.68,448.67L276.69,448.67L276.69,451.37L279.71,451.37L279.71,453.54L282.72,453.54L282.72,457.32L285.74,457.32L285.74,461.65L288.75,461.65L288.75,465.97L291.76,465.97L291.76,465.43L294.78,465.43L294.78,465.43L297.79,465.43L297.79,467.06L300.81,467.06L300.81,467.60L303.82,467.60L303.82,468.14L306.84,468.14L306.84,468.14L309.85,468.14L309.85,468.68L312.87,468.68L312.87,468.68L315.88,468.68L315.88,469.22L318.90,469.22L318.90,469.22L321.91,469.22L321.91,469.76L324.93,469.76L324.93,470.30L327.94,470.30L327.94,470.30L330.96,470.30L330.96,470.30L333.97,470.30L333.97,470.30L336.99,470.30L336.99,470.30L340.00,470.30L340.00,470.30Z" fill="#e66c5c" fill-opacity="0.8"/>
<path d="M32.50,470.30L32.50,470.30L35.51,470.30L35.51,470.30L38.53,470.30L38.53,470.30L41.54,470.30L41.54,470.30L44.56,470.30L44.56,470.30L47.57,470.30L47.57,470.30L50.59,470.30L50.59,470.30L53.60,470.30L53.60,470.30L56.62,470.30L56.62,470.30L59.63,470.30L59.63,470.30L62.65,470.30L62.65,470.30L65.66,470.30L65.66,470.30L68.68,470.30L68.68,470.30L71.69,470.30L71.69,470.30L74.71,470.30L74.71,470.30L77.72,470.30L77.72,470.30L80.74,470.30L80.74,470.30L83.75,470.30L83.75,470.30L86.76,470.30L86.76,470.30L89.78,470.30L89.78,470.30L92.79,470.30L92.79,470.30L95.81,470.30L95.81,470.30L98.82,470.30L98.82,470.30L101.84,470.30L101.84,469.76L104.85,469.76L104.85,469.22L107.87,469.22L107.87,468.68L110.88,468.68L110.88,468.14L113.90,468.14L113.90,468.14L116.91,468.14L116.91,467.60L119.93,467.60L119.93,463.81L122.94,463.81L122.94,454.08L125.96,454.08L125.96,450.83L128.97,450.83L128.97,452.45L131.99,452.45L131.99,454.08L135.00,454.08L135.00,454.08L138.01,454.08L138.01,459.48L141.03,459.48L141.03,459.48L144.04,459.48L144.04,459.48L147.06,459.48L147.06,458.94L150.07,458.94L150.07,458.94L153.09,458.94L153.09,458.40L156.10,458.40L156.10,458.40L159.12,458.40L159.12,457.86L162.13,457.86L162.13,457.86L165.15,457.86L165.15,458.40L168.16,458.40L168.16,458.94L171.18,458.94L171.18,459.48L174.19,459.48L174.19,460.03L177.21,460.03L177.21,460.57L180.22,460.57L180.22,461.11L183.24,461.11L183.24,461.65L186.25,461.65L186.25,462.19L189.26,462.19L189.26,462.73L192.28,462.73L192.28,460.03L195.29,460.03L195.29,455.16L198.31,455.16L198.31,448.67L201.32,448.67L201.32,440.02L204.34,440.02L204.34,435.15L207.35,435.15L207.35,430.82L210.37,430.82L210.37,427.04L213.38,427.04L213.38,422.71L216.40,422.71L216.40,418.93L219.41,418.93L219.41,415.68L222.43,415.68L222.43,412.98L225.44,412.98L225.44,411.89L228.46,411.89L228.46,410.27L231.47,410.27L231.47,409.73L234.49,409.73L234.49,409.73L237.50,409.73L237.50,410.27L240.51,410.27L240.51,411.89L243.53,411.89L243.53,413.52L246.54,413.52L246.54,417.30L249.56,417.30L249.56,421.09L252.57,421.09L252.57,425.96L255.59,425.96L255.59,431.90L258.60,431.90L258.60,437.31L261.62,437.31L261.62,442.18L264.63,442.18L264.63,446.51L267.65,446.51L267.65,449.75L270.66,449.75L270.66,452.45L273.68,452.45L273.68,455.16L276.69,455.16L276.69,457.86L279.71,457.86L279.71,459.48L282.72,459.48L282.72,462.73L285.74,462.73L285.74,465.43L288.75,465.43L288.75,467.06L291.76,467.06L291.76,469.22L294.78,469.22L294.78,470.30L297.79,470.30L297.79,470.30L300.81,470.30L300.81,470.30L303.82,470.30L303.82,470.30L306.84,470.30L306.84,470.30L309.85,470.30L309.85,470.30L312.87,470.30L312.87,470.30L315.88,470.30L315.88,470.30L318.90,470.30L318.90,470.30L321.91,470.30L321.91,470.30L324.93,470.30L324.93,470.30L327.94,470.30L327.94,470.30L330.96,470.30L330.96,470.30L333.97,470.30L333.97,470.30L336.99,470.30L336.99,470.30L340.00,470.30L340.00,470.30Z" fill="#cc4778" fill-opacity="0.8"/>
<path d="M32.50,470.30L32.50,470.30L35.51,470.30L35.51,470.30L38.53,470.30L38.53,470.30L41.54,470.30L41.54,470.30L44.56,470.30L44.56,470.30L47.57,470.30L47.57,470.30L50.59,470.30L50.59,470.30L53.60,470.30L53.60,470.30L56.62,470.30L56.62,470.30L59.63,470.30L59.63,470.30L62.65,470.30L62.65,470.30L65.66,470.30L65.66,470.30L68.68,470.30L68.68,470.30L71.69,470.30L71.69,470.30L74.71,470.30L74.71,470.30L77.72,470.30L77.72,470.30L80.74,470.30L80.74,470.30L83.75,470.30L83.75,470.30L86.76,470.30L86.76,470.30L89.78,470.30L89.78,470.30L92.79,470.30L92.79,470.30L95.81,470.30L95.81,470.30L98.82,470.30L98.82,470.30L101.84,470.30L101.84,469.76L104.85,469.76L104.85,469.22L107.87,469.22L107.87,468.68L110.88,468.68L110.88,468.14L113.90,468.14L113.90,468.14L116.91,468.14L116.91,467.06L119.93,467.06L119.93,463.81L122.94,463.81L122.94,460.03L125.96,460.03L125.96,458.40L128.97,458.40L128.97,457.86L131.99,457.86L131.99,458.40L135.00,458.40L135.00,459.48L138.01,459.48L138.01,462.73L141.03,462.73L141.03,456.24L144.04,456.24L144.04,456.24L147.06,456.24L147.06,462.73L150.07,462.73L150.07,462.73L153.09,462.73L153.09,463.27L156.10,463.27L156.10,463.27L159.12,463.27L159.12,463.81L162.13,463.81L162.13,463.81L165.15,463.81L165.15,464.35L168.16,464.35L168.16,464.35L171.18,464.35L171.18,464.35L174.19,464.35L174.19,464.35L177.21,464.35L177.21,464.89L180.22,464.89L180.22,464.89L183.24,464.89L183.24,464.89L186.25,464.89L186.25,464.89L189.26,464.89L189.26,465.43L192.28,465.43L192.28,465.43L195.29,465.43L195.29,465.97L198.31,465.97L198.31,465.97L201.32,465.97L201.32,465.97L204.34,465.97L204.34,465.97L207.35,465.97L207.35,465.97L210.37,465.97L210.37,462.73L213.38,462.73L213.38,460.03L216.40,460.03L216.40,456.78L219.41,456.78L219.41,452.45L222.43,452.45L222.43,447.59L225.44,447.59L225.44,443.26L228.46,443.26L228.46,438.39L231.47,438.39L231.47,432.99L234.49,432.99L234.49,428.66L237.50,428.66L237.50,425.96L240.51,425.96L240.51,423.25L243.53,423.25L243.53,421.63L246.54,421.63L246.54,421.09L249.56,421.09L249.56,420.55L252.57,420.55L252.57,420.55L255.59,420.55L255.59,425.41L258.60,425.41L258.60,430.28L261.62,430.28L261.62,434.07L264.63,434.07L264.63,437.85L267.65,437.85L267.65,440.56L270.66,440.56L270.66,442.18L273.68,442.18L273.68,445.96L276.69,445.96L276.69,449.21L279.71,449.21L279.71,451.37L282.72,451.37L282.72,455.70L285.74,455.70L285.74,460.57L288.75,460.57L288.75,465.43L291.76,465.43L291.76,464.89L294.78,464.89L294.78,464.89L297.79,464.89L297.79,466.51L300.81,466.51L300.81,467.06L303.82,467.06L303.82,467.60L306.84,467.60L306.84,468.14L309.85,468.14L309.85,468.68L312.87,468.68L312.87,468.68L315.88,468.68L315.88,469.22L318.90,469.22L318.90,469.22L321.91,469.22L321.91,469.76L324.93,469.76L324.93,470.30L327.94,470.30L327.94,470.30L330.96,470.30L330.96,470.30L333.97,470.30L333.97,470.30L336.99,470.30L336.99,470.30L340.00,470.30L340.00,470.30Z" fill="#aa2395" fill-opacity="0.8"/>
<path d="M32.50,470.30L32.50,470.30L35.51,470.30L35.51,470.30L38.53,470.30L38.53,470.30L41.54,470.30L41.54,470.30L44.56,470.30L44.56,470.30L47.57,470.30L47.57,470.30L50.59,470.30L50.59,470.30L53.60,470.30L53.60,470.30L56.62,470.30L56.62,470.30L59.63,470.30L59.63,470.30L62.65,470.30L62.65,470.30L65.66,470.30L65.66,470.30L68.68,470.30L68.68,470.30L71.69,470.30L71.69,470.30L74.71,470.30L74.71,470.30L77.72,470.30L77.72,470.30L80.74,470.30L80.74,470.30L83.75,470.30L83.75,470.30L86.76,470.30L86.76,470.30L89.78,470.30L89.78,470.30L92.79,470.30L92.79,470.30L95.81,470.30L95.81,470.30L98.82,470.30L98.82,470.30L101.84,470.30L101.84,469.76L104.85,469.76L104.85,469.22L107.87,469.22L107.87,468.68L110.88,468.68L110.88,468.68L113.90,468.68L113.90,468.68L116.91,468.68L116.91,467.60L119.93,467.60L119.93,465.43L122.94,465.43L122.94,462.73L125.96,462.73L125.96,461.65L128.97,461.65L128.97,461.65L131.99,461.65L131.99,461.65L135.00,461.65L135.00,462.73L138.01,462.73L138.01,464.89L141.03,464.89L141.03,462.19L144.04,462.19L144.04,463.81L147.06,463.81L147.06,464.89L150.07,464.89L150.07,465.43L153.09,465.43L153.09,465.43L156.10,465.43L156.10,465.43L159.12,465.43L159.12,465.97L162.13,465.97L162.13,465.97L165.15,465.97L165.15,466.51L168.16,466.51L168.16,466.51L171.18,466.51L171.18,466.51L174.19,466.51L174.19,466.51L177.21,466.51L177.21,467.06L180.22,467.06L180.22,467.06L183.24,467.06L183.24,467.06L186.25,467.06L186.25,467.06L189.26,467.06L189.26,467.06L192.28,467.06L192.28,467.06L195.29,467.06L195.29,467.60L198.31,467.60L198.31,467.60L201.32,467.60L201.32,467.60L204.34,467.60L204.34,468.14L207.35,468.14L207.35,468.68L210.37,468.68L210.37,467.60L213.38,467.60L213.38,465.97L216.40,465.97L216.40,463.27L219.41,463.27L219.41,460.57L222.43,460.57L222.43,457.32L225.44,457.32L225.44,453.54L228.46,453.54L228.46,449.75L231.47,449.75L231.47,445.42L234.49,445.42L234.49,441.10L237.50,441.10L237.50,436.77L240.51,436.77L240.51,434.07L243.53,434.07L243.53,431.36L246.54,431.36L246.54,431.90L249.56,431.90L249.56,432.44L252.57,432.44L252.57,435.15L255.59,435.15L255.59,438.39L258.60,438.39L258.60,441.10L261.62,441.10L261.62,444.34L264.63,444.34L264.63,447.05L267.65,447.05L267.65,450.29L270.66,450.29L270.66,452.99L273.68,452.99L273.68,455.70L276.69,455.70L276.69,458.40L279.71,458.40L279.71,460.57L282.72,460.57L282.72,462.73L285.74,462.73L285.74,463.81L288.75,463.81L288.75,464.89L291.76,464.89L291.76,465.43L294.78,465.43L294.78,465.97L297.79,465.97L297.79,467.06L300.81,467.06L300.81,468.14L303.82,468.14L303.82,468.68L306.84,468.68L306.84,469.22L309.85,469.22L309.85,470.30L312.87,470.30L312.87,470.30L315.88,470.30L315.88,470.30L318.90,470.30L318.90,470.30L321.91,470.30L321.91,470.30L324.93,470.30L324.93,470.30L327.94,470.30L327.94,470.30L330.96,470.30L330.96,470.30L333.97,470.30L333.97,470.30L336.99,470.30L336.99,470.30L340.00,470.30L340.00,470.30Z" fill="#7e03a8" fill-opacity="0.8"/>
<path d="M32.50,470.30L32.50,470.30L35.51,470.30L35.51,470.30L38.53,470.30L38.53,470.30L41.54,470.30L41.54,470.30L44.56,470.30L44.56,470.30L47.57,470.30L47.57,470.30L50.59,470.30L50.59,470.30L53.60,470.30L53.60,470.30L56.62,470.30L56.62,470.30L59.63,470.30L59.63,470.30L62.65,470.30L62.65,470.30L65.66,470.30L65.66,470.30L68.68,470.30L68.68,470.30L71.69,470.30L71.69,470.30L74.71,470.30L74.71,470.30L77.72,470.30L77.72,470.30L80.74,470.30L80.74,470.30L83.75,470.30L83.75,470.30L86.76,470.30L86.76,470.30L89.78,470.30L89.78,470.30L92.79,470.30L92.79,470.30L95.81,470.30L95.81,470.30L98.82,470.30L98.82,470.30L101.84,470.30L101.84,469.76L104.85,469.76L104.85,469.76L107.87,469.76L107.87,469.22L110.88,469.22L110.88,469.22L113.90,469.22L113.90,469.22L116.91,469.22L116.91,468.14L119.93,468.14L119.93,467.06L122.94,467.06L122.94,464.89L125.96,464.89L125.96,463.81L128.97,463.81L128.97,463.81L131.99,463.81L131.99,464.35L135.00,464.35L135.00,464.89L138.01,464.89L138.01,466.51L141.03,466.51L141.03,467.06L144.04,467.06L144.04,467.06L147.06,467.06L147.06,467.60L150.07,467.60L150.07,467.60L153.09,467.60L153.09,467.60L156.10,467.60L156.10,467.60L159.12,467.60L159.12,467.60L162.13,467.60L162.13,468.14L165.15,468.14L165.15,468.14L168.16,468.14L168.16,468.14L171.18,468.14L171.18,468.14L174.19,468.14L174.19,468.14L177.21,468.14L177.21,468.14L180.22,468.14L180.22,468.14L183.24,468.14L183.24,468.14L186.25,468.14L186.25,468.14L189.26,468.14L189.26,468.14L192.28,468.14L192.28,468.14L195.29,468.14L195.29,468.14L198.31,468.14L198.31,468.14L201.32,468.14L201.32,468.14L204.34,468.14L204.34,468.68L207.35,468.68L207.35,470.30L210.37,470.30L210.37,469.22L213.38,469.22L213.38,468.14L216.40,468.14L216.40,467.06L219.41,467.06L219.41,464.89L222.43,464.89L222.43,463.27L225.44,463.27L225.44,461.11L228.46,461.11L228.46,457.86L231.47,457.86L231.47,454.62L234.49,454.62L234.49,451.37L237.50,451.37L237.50,447.59L240.51,447.59L240.51,443.80L243.53,443.80L243.53,441.64L246.54,441.64L246.54,440.02L249.56,440.02L249.56,441.10L252.57,441.10L252.57,443.26L255.59,443.26L255.59,445.96L258.60,445.96L258.60,449.21L261.62,449.21L261.62,451.91L264.63,451.91L264.63,455.16L267.65,455.16L267.65,457.86L270.66,457.86L270.66,460.57L273.68,460.57L273.68,462.73L276.69,462.73L276.69,464.35L279.71,464.35L279.71,465.43L282.72,465.43L282.72,465.97L285.74,465.97L285.74,466.51L288.75,466.51L288.75,466.51L291.76,466.51L291.76,467.06L294.78,467.06L294.78,467.60L297.79,467.60L297.79,468.14L300.81,468.14L300.81,468.68L303.82,468.68L303.82,469.22L306.84,469.22L306.84,469.76L309.85,469.76L309.85,470.30L312.87,470.30L312.87,470.30L315.88,470.30L315.88,470.30L318.90,470.30L318.90,470.30L321.91,470.30L321.91,470.30L324.93,470.30L324.93,470.30L327.94,470.30L327.94,470.30L330.96,470.30L330.96,470.30L333.97,470.30L333.97,470.30L336.99,470.30L336.99,470.30L340.00,470.30L340.00,470.30Z" fill="#4c02a1" fill-opacity="0.8"/>
<path d="M32.50,470.30L32.50,470.30L35.51,470.30L35.51,470.30L38.53,470.30L38.53,470.30L41.54,470.30L41.54,470.30L44.56,470.30L44.56,470.30L47.57,470.30L47.57,470.30L50.59,470.30L50.59,470.30L53.60,470.30L53.60,470.30L56.62,470.30L56.62,470.30L59.63,470.30L59.63,470.30L62.65,470.30L62.65,470.30L65.66,470.30L65.66,470.30L68.68,470.30L68.68,470.30L71.69,470.30L71.69,470.30L74.71,470.30L74.71,470.30L77.72,470.30L77.72,470.30L80.74,470.30L80.74,470.30L83.75,470.30L83.75,470.30L86.76,470.30L86.76,470.30L89.78,470.30L89.78,470.30L92.79,470.30L92.79,470.30L95.81,470.30L95.81,470.30L98.82,470.30L98.82,470.30L101.84,470.30L101.84,469.76L104.85,469.76L104.85,469.76L107.87,469.76L107.87,469.22L110.88,469.22L110.88,469.22L113.90,469.22L113.90,469.22L116.91,469.22L116.91,468.68L119.93,468.68L119.93,468.14L122.94,468.14L122.94,467.06L125.96,467.06L125.96,465.43L128.97,465.43L128.97,465.43L131.99,465.43L131.99,465.43L135.00,465.43L135.00,466.51L138.01,466.51L138.01,468.14L141.03,468.14L141.03,468.14L144.04,468.14L144.04,468.14L147.06,468.14L147.06,468.68L150.07,468.68L150.07,468.68L153.09,468.68L153.09,468.68L156.10,468.68L156.10,468.68L159.12,468.68L159.12,468.68L162.13,468.68L162.13,469.22L165.15,469.22L165.15,469.22L168.16,469.22L168.16,469.22L171.18,469.22L171.18,469.22L174.19,469.22L174.19,469.22L177.21,469.22L177.21,469.22L180.22,469.22L180.22,469.22L183.24,469.22L183.24,469.22L186.25,469.22L186.25,469.22L189.26,469.22L189.26,469.22L192.28,469.22L192.28,469.22L195.29,469.22L195.29,468.68L198.31,468.68L198.31,468.68L201.32,468.68L201.32,468.68L204.34,468.68L204.34,468.68L207.35,468.68L207.35,469.22L210.37,469.22L210.37,470.30L213.38,470.30L213.38,469.76L216.40,469.76L216.40,469.22L219.41,469.22L219.41,468.14L222.43,468.14L222.43,467.06L225.44,467.06L225.44,465.43L228.46,465.43L228.46,463.81L231.47,463.81L231.47,461.65L234.49,461.65L234.49,458.94L237.50,458.94L237.50,455.70L240.51,455.70L240.51,452.99L243.53,452.99L243.53,450.29L246.54,450.29L246.54,449.21L249.56,449.21L249.56,449.75L252.57,449.75L252.57,451.91L255.59,451.91L255.59,454.08L258.60,454.08L258.60,456.78L261.62,456.78L261.62,458.94L264.63,458.94L264.63,461.65L267.65,461.65L267.65,463.27L270.66,463.27L270.66,464.89L273.68,464.89L273.68,465.97L276.69,465.97L276.69,467.06L279.71,467.06L279.71,467.06L282.72,467.06L282.72,467.60L285.74,467.60L285.74,467.06L288.75,467.06L288.75,465.43L291.76,465.43L291.76,467.06L294.78,467.06L294.78,468.14L297.79,468.14L297.79,469.22L300.81,469.22L300.81,469.76L303.82,469.76L303.82,469.76L306.84,469.76L306.84,470.30L309.85,470.30L309.85,470.30L312.87,470.30L312.87,470.30L315.88,470.30L315.88,470.30L318.90,470.30L318.90,470.30L321.91,470.30L321.91,470.30L324.93,470.30L324.93,470.30L327.94,470.30L327.94,470.30L330.96,470.30L330.96,470.30L333.97,470.30L333.97,470.30L336.99,470.30L336.99,470.30L340.00,470.30L340.00,470.30Z" fill="#0d0887" fill-opacity="0.8"/>
<line x1="204.34" y1="470.30" x2="204.34" y2="264.80" stroke="#000" stroke-width="1.2" stroke-dasharray="3.59 1.55"/>
</g>
<rect x="32.50" y="264.80" width="307.50" height="205.50" fill="none" stroke="#3a3a3a" stroke-width="0.9"/>
<line x1="68.68" y1="470.30" x2="68.68" y2="472.60" stroke="#3a3a3a" stroke-width="0.9"/>
<text x="68.68" y="481.80" font-size="9.80" text-anchor="middle">−20</text>
<line x1="113.90" y1="470.30" x2="113.90" y2="472.60" stroke="#3a3a3a" stroke-width="0.9"/>
<text x="113.90" y="481.80" font-size="9.80" text-anchor="middle">−15</text>
<line x1="159.12" y1="470.30" x2="159.12" y2="472.60" stroke="#3a3a3a" stroke-width="0.9"/>
<text x="159.12" y="481.80" font-size="9.80" text-anchor="middle">−10</text>
<line x1="204.34" y1="470.30" x2="204.34" y2="472.60" stroke="#3a3a3a" stroke-width="0.9"/>
<text x="204.34" y="481.80" font-size="9.80" text-anchor="middle">−5</text>
<line x1="249.56" y1="470.30" x2="249.56" y2="472.60" stroke="#3a3a3a" stroke-width="0.9"/>
<text x="249.56" y="481.80" font-size="9.80" text-anchor="middle">0</text>
<line x1="294.78" y1="470.30" x2="294.78" y2="472.60" stroke="#3a3a3a" stroke-width="0.9"/>
<text x="294.78" y="481.80" font-size="9.80" text-anchor="middle">5</text>
<line x1="340.00" y1="470.30" x2="340.00" y2="472.60" stroke="#3a3a3a" stroke-width="0.9"/>
<text x="340.00" y="481.80" font-size="9.80" text-anchor="middle">10</text>
<line x1="30.20" y1="470.30" x2="32.50" y2="470.30" stroke="#3a3a3a" stroke-width="0.9"/>
<text x="28.30" y="473.60" font-size="9.80" text-anchor="end">0</text>
<line x1="30.20" y1="443.26" x2="32.50" y2="443.26" stroke="#3a3a3a" stroke-width="0.9"/>
<text x="28.30" y="446.56" font-size="9.80" text-anchor="end">50</text>
<line x1="30.20" y1="416.22" x2="32.50" y2="416.22" stroke="#3a3a3a" stroke-width="0.9"/>
<text x="28.30" y="419.52" font-size="9.80" text-anchor="end">100</text>
<line x1="30.20" y1="389.18" x2="32.50" y2="389.18" stroke="#3a3a3a" stroke-width="0.9"/>
<text x="28.30" y="392.48" font-size="9.80" text-anchor="end">150</text>
<line x1="30.20" y1="362.14" x2="32.50" y2="362.14" stroke="#3a3a3a" stroke-width="0.9"/>
<text x="28.30" y="365.44" font-size="9.80" text-anchor="end">200</text>
<line x1="30.20" y1="335.10" x2="32.50" y2="335.10" stroke="#3a3a3a" stroke-width="0.9"/>
<text x="28.30" y="338.40" font-size="9.80" text-anchor="end">250</text>
<line x1="30.20" y1="308.06" x2="32.50" y2="308.06" stroke="#3a3a3a" stroke-width="0.9"/>
<text x="28.30" y="311.36" font-size="9.80" text-anchor="end">300</text>
<line x1="30.20" y1="281.02" x2="32.50" y2="281.02" stroke="#3a3a3a" stroke-width="0.9"/>
<text x="28.30" y="284.32" font-size="9.80" text-anchor="end">350</text>
<text x="185.85" y="260.30" font-size="10.00" text-anchor="middle" textLength="129.20" lengthAdjust="spacingAndGlyphs">(c) critical point (<tspan font-style="italic">θ</tspan> = <tspan font-style="italic">π</tspan>/4)</text>
<text x="159.28" y="493.00" font-size="10.40" textLength="14.34" lengthAdjust="spacingAndGlyphs">log</text>
<text x="174.10" y="494.60" font-size="7.90" textLength="8.79" lengthAdjust="spacingAndGlyphs">10</text>
<text x="184.97" y="493.00" font-size="10.60" textLength="2.76" lengthAdjust="spacingAndGlyphs">(</text>
<text x="187.28" y="493.00" font-size="10.40" font-style="italic" textLength="6.14" lengthAdjust="spacingAndGlyphs">λ</text>
<text x="193.60" y="494.70" font-size="7.90" textLength="15.69" lengthAdjust="spacingAndGlyphs">QGT</text>
<text x="209.47" y="493.00" font-size="10.60" textLength="2.86" lengthAdjust="spacingAndGlyphs">)</text>
<text transform="translate(7.7,367.55) rotate(-90)" font-size="9.9" text-anchor="middle" textLength="149.8" lengthAdjust="spacingAndGlyphs">Occurence of QGT eigenvalues</text>
<rect x="36.80" y="268.90" width="111.70" height="113.20" rx="2.2" fill="#ffffff" fill-opacity="0.8" stroke="#d0d0d0" stroke-width="0.8"/>
<rect x="39.80" y="272.55" width="17.1" height="6.35" fill="#f0f921" fill-opacity="0.8"/>
<text x="63.70" y="278.50" font-size="8.60" text-anchor="start" textLength="81.60" lengthAdjust="spacingAndGlyphs"><tspan font-style="italic">α</tspan> = 18, <tspan font-family='"Liberation Serif", serif' font-style="italic">I</tspan>=4.11e-07</text>
<rect x="39.80" y="284.85" width="17.1" height="6.35" fill="#fdc527" fill-opacity="0.8"/>
<text x="63.70" y="290.80" font-size="8.60" text-anchor="start" textLength="81.60" lengthAdjust="spacingAndGlyphs"><tspan font-style="italic">α</tspan> = 16, <tspan font-family='"Liberation Serif", serif' font-style="italic">I</tspan>=4.72e-07</text>
<rect x="39.80" y="297.15" width="17.1" height="6.35" fill="#f89540" fill-opacity="0.8"/>
<text x="63.70" y="303.10" font-size="8.60" text-anchor="start" textLength="81.60" lengthAdjust="spacingAndGlyphs"><tspan font-style="italic">α</tspan> = 14, <tspan font-family='"Liberation Serif", serif' font-style="italic">I</tspan>=9.91e-07</text>
<rect x="39.80" y="309.45" width="17.1" height="6.35" fill="#e66c5c" fill-opacity="0.8"/>
<text x="63.70" y="315.40" font-size="8.60" text-anchor="start" textLength="81.60" lengthAdjust="spacingAndGlyphs"><tspan font-style="italic">α</tspan> = 12, <tspan font-family='"Liberation Serif", serif' font-style="italic">I</tspan>=2.40e-06</text>
<rect x="39.80" y="321.75" width="17.1" height="6.35" fill="#cc4778" fill-opacity="0.8"/>
<text x="63.70" y="327.70" font-size="8.60" text-anchor="start" textLength="81.60" lengthAdjust="spacingAndGlyphs"><tspan font-style="italic">α</tspan> = 10, <tspan font-family='"Liberation Serif", serif' font-style="italic">I</tspan>=3.18e-06</text>
<rect x="39.80" y="334.05" width="17.1" height="6.35" fill="#aa2395" fill-opacity="0.8"/>
<text x="63.70" y="340.00" font-size="8.60" text-anchor="start" textLength="76.40" lengthAdjust="spacingAndGlyphs"><tspan font-style="italic">α</tspan> = 8, <tspan font-family='"Liberation Serif", serif' font-style="italic">I</tspan>=1.74e-04</text>
<rect x="39.80" y="346.35" width="17.1" height="6.35" fill="#7e03a8" fill-opacity="0.8"/>
<text x="63.70" y="352.30" font-size="8.60" text-anchor="start" textLength="76.40" lengthAdjust="spacingAndGlyphs"><tspan font-style="italic">α</tspan> = 6, <tspan font-family='"Liberation Serif", serif' font-style="italic">I</tspan>=1.56e-03</text>
<rect x="39.80" y="358.65" width="17.1" height="6.35" fill="#4c02a1" fill-opacity="0.8"/>
<text x="63.70" y="364.60" font-size="8.60" text-anchor="start" textLength="76.40" lengthAdjust="spacingAndGlyphs"><tspan font-style="italic">α</tspan> = 4, <tspan font-family='"Liberation Serif", serif' font-style="italic">I</tspan>=2.04e-02</text>
<rect x="39.80" y="370.95" width="17.1" height="6.35" fill="#0d0887" fill-opacity="0.8"/>
<text x="63.70" y="376.90" font-size="8.60" text-anchor="start" textLength="76.40" lengthAdjust="spacingAndGlyphs"><tspan font-style="italic">α</tspan> = 2, <tspan font-family='"Liberation Serif", serif' font-style="italic">I</tspan>=1.13e-01</text>
<rect x="226.20" y="271.00" width="107.40" height="71.70" fill="#ffffff"/>
<clipPath id="iclipc"><rect x="226.20" y="271.00" width="107.40" height="71.70"/></clipPath>
<g clip-path="url(#iclipc)">
<path d="M226.20,342.70L226.20,308.82L227.25,308.82L227.25,308.82L228.31,308.82L228.31,308.82L229.36,308.82L229.36,308.82L230.41,308.82L230.41,308.82L231.46,308.82L231.46,308.82L232.52,308.82L232.52,308.82L233.57,308.82L233.57,308.82L234.62,308.82L234.62,308.82L235.68,308.82L235.68,308.82L236.73,308.82L236.73,308.82L237.78,308.82L237.78,308.82L238.84,308.82L238.84,308.82L239.89,308.82L239.89,308.82L240.94,308.82L240.94,308.82L241.99,308.82L241.99,308.82L243.05,308.82L243.05,308.82L244.10,308.82L244.10,308.82L245.15,308.82L245.15,308.82L246.21,308.82L246.21,308.82L247.26,308.82L247.26,308.82L248.31,308.82L248.31,308.82L249.36,308.82L249.36,308.82L250.42,308.82L250.42,308.82L251.47,308.82L251.47,308.84L252.52,308.84L252.52,308.87L253.58,308.87L253.58,308.91L254.63,308.91L254.63,308.96L255.68,308.96L255.68,309.01L256.74,309.01L256.74,309.09L257.79,309.09L257.79,309.35L258.84,309.35L258.84,309.98L259.89,309.98L259.89,311.34L260.95,311.34L260.95,313.51L262.00,313.51L262.00,315.68L263.05,315.68L263.05,317.03L264.11,317.03L264.11,317.52L265.16,317.52L265.16,317.77L266.21,317.77L266.21,318.04L267.26,318.04L267.26,318.33L268.32,318.33L268.32,318.65L269.37,318.65L269.37,319.00L270.42,319.00L270.42,319.41L271.48,319.41L271.48,319.83L272.53,319.83L272.53,320.26L273.58,320.26L273.58,320.67L274.64,320.67L274.64,321.06L275.69,321.06L275.69,321.42L276.74,321.42L276.74,321.75L277.79,321.75L277.79,322.06L278.85,322.06L278.85,322.35L279.90,322.35L279.90,322.64L280.95,322.64L280.95,322.92L282.01,322.92L282.01,323.21L283.06,323.21L283.06,323.50L284.11,323.50L284.11,323.82L285.16,323.82L285.16,324.11L286.22,324.11L286.22,324.52L287.27,324.52L287.27,325.00L288.32,325.00L288.32,325.54L289.38,325.54L289.38,326.13L290.43,326.13L290.43,326.78L291.48,326.78L291.48,327.48L292.54,327.48L292.54,328.23L293.59,328.23L293.59,329.00L294.64,329.00L294.64,329.80L295.69,329.80L295.69,330.62L296.75,330.62L296.75,331.48L297.80,331.48L297.80,332.40L298.85,332.40L298.85,333.36L299.91,333.36L299.91,334.34L300.96,334.34L300.96,335.30L302.01,335.30L302.01,336.21L303.06,336.21L303.06,337.14L304.12,337.14L304.12,338.00L305.17,338.00L305.17,338.74L306.22,338.74L306.22,339.33L307.28,339.33L307.28,339.82L308.33,339.82L308.33,340.26L309.38,340.26L309.38,340.66L310.44,340.66L310.44,341.05L311.49,341.05L311.49,341.37L312.54,341.37L312.54,341.66L313.59,341.66L313.59,341.91L314.65,341.91L314.65,342.11L315.70,342.11L315.70,342.24L316.75,342.24L316.75,342.31L317.81,342.31L317.81,342.38L318.86,342.38L318.86,342.45L319.91,342.45L319.91,342.50L320.96,342.50L320.96,342.54L322.02,342.54L322.02,342.58L323.07,342.58L323.07,342.61L324.12,342.61L324.12,342.63L325.18,342.63L325.18,342.66L326.23,342.66L326.23,342.68L327.28,342.68L327.28,342.69L328.34,342.69L328.34,342.70L329.39,342.70L329.39,342.70L330.44,342.70L330.44,342.70L331.49,342.70L331.49,342.70L332.55,342.70L332.55,342.70L333.60,342.70L333.60,342.70Z" fill="#f0f921" fill-opacity="0.8"/>
<path d="M226.20,342.70L226.20,312.59L227.25,312.59L227.25,312.59L228.31,312.59L228.31,312.59L229.36,312.59L229.36,312.59L230.41,312.59L230.41,312.59L231.46,312.59L231.46,312.59L232.52,312.59L232.52,312.59L233.57,312.59L233.57,312.59L234.62,312.59L234.62,312.59L235.68,312.59L235.68,312.59L236.73,312.59L236.73,312.59L237.78,312.59L237.78,312.59L238.84,312.59L238.84,312.59L239.89,312.59L239.89,312.59L240.94,312.59L240.94,312.59L241.99,312.59L241.99,312.59L243.05,312.59L243.05,312.59L244.10,312.59L244.10,312.59L245.15,312.59L245.15,312.59L246.21,312.59L246.21,312.59L247.26,312.59L247.26,312.59L248.31,312.59L248.31,312.59L249.36,312.59L249.36,312.59L250.42,312.59L250.42,312.59L251.47,312.59L251.47,312.60L252.52,312.60L252.52,312.62L253.58,312.62L253.58,312.66L254.63,312.66L254.63,312.70L255.68,312.70L255.68,312.73L256.74,312.73L256.74,312.80L257.79,312.80L257.79,312.98L258.84,312.98L258.84,313.48L259.89,313.48L259.89,314.38L260.95,314.38L260.95,316.25L262.00,316.25L262.00,318.12L263.05,318.12L263.05,318.86L264.11,318.86L264.11,319.29L265.16,319.29L265.16,319.50L266.21,319.50L266.21,319.73L267.26,319.73L267.26,320.00L268.32,320.00L268.32,320.28L269.37,320.28L269.37,320.59L270.42,320.59L270.42,320.95L271.48,320.95L271.48,321.31L272.53,321.31L272.53,321.69L273.58,321.69L273.58,322.05L274.64,322.05L274.64,322.39L275.69,322.39L275.69,322.71L276.74,322.71L276.74,323.00L277.79,323.00L277.79,323.27L278.85,323.27L278.85,323.53L279.90,323.53L279.90,323.77L280.95,323.77L280.95,324.02L282.01,324.02L282.01,324.27L283.06,324.27L283.06,324.52L284.11,324.52L284.11,324.80L285.16,324.80L285.16,325.08L286.22,325.08L286.22,325.47L287.27,325.47L287.27,325.92L288.32,325.92L288.32,326.43L289.38,326.43L289.38,326.98L290.43,326.98L290.43,327.59L291.48,327.59L291.48,328.25L292.54,328.25L292.54,328.96L293.59,328.96L293.59,329.69L294.64,329.69L294.64,330.44L295.69,330.44L295.69,331.20L296.75,331.20L296.75,332.01L297.80,332.01L297.80,332.87L298.85,332.87L298.85,333.78L299.91,333.78L299.91,334.70L300.96,334.70L300.96,335.60L302.01,335.60L302.01,336.51L303.06,336.51L303.06,337.40L304.12,337.40L304.12,338.23L305.17,338.23L305.17,338.94L306.22,338.94L306.22,339.53L307.28,339.53L307.28,340.00L308.33,340.00L308.33,340.41L309.38,340.41L309.38,340.79L310.44,340.79L310.44,341.15L311.49,341.15L311.49,341.46L312.54,341.46L312.54,341.73L313.59,341.73L313.59,341.97L314.65,341.97L314.65,342.15L315.70,342.15L315.70,342.28L316.75,342.28L316.75,342.34L317.81,342.34L317.81,342.40L318.86,342.40L318.86,342.47L319.91,342.47L319.91,342.52L320.96,342.52L320.96,342.56L322.02,342.56L322.02,342.59L323.07,342.59L323.07,342.62L324.12,342.62L324.12,342.65L325.18,342.65L325.18,342.66L326.23,342.66L326.23,342.68L327.28,342.68L327.28,342.69L328.34,342.69L328.34,342.70L329.39,342.70L329.39,342.70L330.44,342.70L330.44,342.70L331.49,342.70L331.49,342.70L332.55,342.70L332.55,342.70L333.60,342.70L333.60,342.70Z" fill="#fdc527" fill-opacity="0.8"/>
<path d="M226.20,342.70L226.20,316.35L227.25,316.35L227.25,316.35L228.31,316.35L228.31,316.35L229.36,316.35L229.36,316.35L230.41,316.35L230.41,316.35L231.46,316.35L231.46,316.35L232.52,316.35L232.52,316.35L233.57,316.35L233.57,316.35L234.62,316.35L234.62,316.35L235.68,316.35L235.68,316.35L236.73,316.35L236.73,316.35L237.78,316.35L237.78,316.35L238.84,316.35L238.84,316.35L239.89,316.35L239.89,316.35L240.94,316.35L240.94,316.35L241.99,316.35L241.99,316.35L243.05,316.35L243.05,316.35L244.10,316.35L244.10,316.35L245.15,316.35L245.15,316.35L246.21,316.35L246.21,316.35L247.26,316.35L247.26,316.35L248.31,316.35L248.31,316.35L249.36,316.35L249.36,316.35L250.42,316.35L250.42,316.35L251.47,316.35L251.47,316.36L252.52,316.36L252.52,316.37L253.58,316.37L253.58,316.40L254.63,316.40L254.63,316.43L255.68,316.43L255.68,316.46L256.74,316.46L256.74,316.51L257.79,316.51L257.79,316.66L258.84,316.66L258.84,316.98L259.89,316.98L259.89,317.51L260.95,317.51L260.95,318.24L262.00,318.24L262.00,318.97L263.05,318.97L263.05,319.70L264.11,319.70L264.11,320.09L265.16,320.09L265.16,320.35L266.21,320.35L266.21,320.60L267.26,320.60L267.26,320.85L268.32,320.85L268.32,321.10L269.37,321.10L269.37,321.35L270.42,321.35L270.42,321.61L271.48,321.61L271.48,321.86L272.53,321.86L272.53,322.11L273.58,322.11L273.58,322.35L274.64,322.35L274.64,322.57L275.69,322.57L275.69,322.79L276.74,322.79L276.74,322.98L277.79,322.98L277.79,323.17L278.85,323.17L278.85,323.34L279.90,323.34L279.90,323.51L280.95,323.51L280.95,323.66L282.01,323.66L282.01,323.80L283.06,323.80L283.06,323.97L284.11,323.97L284.11,324.18L285.16,324.18L285.16,324.45L286.22,324.45L286.22,324.84L287.27,324.84L287.27,325.29L288.32,325.29L288.32,325.79L289.38,325.79L289.38,326.34L290.43,326.34L290.43,326.96L291.48,326.96L291.48,327.62L292.54,327.62L292.54,328.32L293.59,328.32L293.59,329.05L294.64,329.05L294.64,329.80L295.69,329.80L295.69,330.56L296.75,330.56L296.75,331.48L297.80,331.48L297.80,332.46L298.85,332.46L298.85,333.49L299.91,333.49L299.91,334.54L300.96,334.54L300.96,335.56L302.01,335.56L302.01,336.55L303.06,336.55L303.06,337.45L304.12,337.45L304.12,338.25L305.17,338.25L305.17,338.94L306.22,338.94L306.22,339.51L307.28,339.51L307.28,339.99L308.33,339.99L308.33,340.40L309.38,340.40L309.38,340.78L310.44,340.78L310.44,341.14L311.49,341.14L311.49,341.45L312.54,341.45L312.54,341.72L313.59,341.72L313.59,341.96L314.65,341.96L314.65,342.15L315.70,342.15L315.70,342.28L316.75,342.28L316.75,342.34L317.81,342.34L317.81,342.40L318.86,342.40L318.86,342.47L319.91,342.47L319.91,342.52L320.96,342.52L320.96,342.56L322.02,342.56L322.02,342.59L323.07,342.59L323.07,342.62L324.12,342.62L324.12,342.64L325.18,342.64L325.18,342.66L326.23,342.66L326.23,342.68L327.28,342.68L327.28,342.69L328.34,342.69L328.34,342.70L329.39,342.70L329.39,342.70L330.44,342.70L330.44,342.70L331.49,342.70L331.49,342.70L332.55,342.70L332.55,342.70L333.60,342.70L333.60,342.70Z" fill="#f89540" fill-opacity="0.8"/>
<path d="M226.20,342.70L226.20,320.11L227.25,320.11L227.25,320.11L228.31,320.11L228.31,320.11L229.36,320.11L229.36,320.11L230.41,320.11L230.41,320.11L231.46,320.11L231.46,320.11L232.52,320.11L232.52,320.11L233.57,320.11L233.57,320.11L234.62,320.11L234.62,320.11L235.68,320.11L235.68,320.11L236.73,320.11L236.73,320.11L237.78,320.11L237.78,320.11L238.84,320.11L238.84,320.11L239.89,320.11L239.89,320.11L240.94,320.11L240.94,320.11L241.99,320.11L241.99,320.11L243.05,320.11L243.05,320.11L244.10,320.11L244.10,320.11L245.15,320.11L245.15,320.11L246.21,320.11L246.21,320.11L247.26,320.11L247.26,320.11L248.31,320.11L248.31,320.11L249.36,320.11L249.36,320.11L250.42,320.11L250.42,320.11L251.47,320.11L251.47,320.12L252.52,320.12L252.52,320.14L253.58,320.14L253.58,320.16L254.63,320.16L254.63,320.18L255.68,320.18L255.68,320.21L256.74,320.21L256.74,320.24L257.79,320.24L257.79,320.36L258.84,320.36L258.84,320.62L259.89,320.62L259.89,320.98L260.95,320.98L260.95,321.33L262.00,321.33L262.00,321.69L263.05,321.69L263.05,322.03L264.11,322.03L264.11,322.26L265.16,322.26L265.16,322.44L266.21,322.44L266.21,322.63L267.26,322.63L267.26,322.81L268.32,322.81L268.32,322.99L269.37,322.99L269.37,323.17L270.42,323.17L270.42,323.35L271.48,323.35L271.48,323.53L272.53,323.53L272.53,323.71L273.58,323.71L273.58,323.89L274.64,323.89L274.64,324.06L275.69,324.06L275.69,324.21L276.74,324.21L276.74,324.37L277.79,324.37L277.79,324.51L278.85,324.51L278.85,324.65L279.90,324.65L279.90,324.77L280.95,324.77L280.95,324.90L282.01,324.90L282.01,325.02L283.06,325.02L283.06,325.16L284.11,325.16L284.11,325.31L285.16,325.31L285.16,325.58L286.22,325.58L286.22,325.96L287.27,325.96L287.27,326.40L288.32,326.40L288.32,326.90L289.38,326.90L289.38,327.44L290.43,327.44L290.43,328.04L291.48,328.04L291.48,328.69L292.54,328.69L292.54,329.38L293.59,329.38L293.59,330.10L294.64,330.10L294.64,330.83L295.69,330.83L295.69,331.59L296.75,331.59L296.75,332.44L297.80,332.44L297.80,333.37L298.85,333.37L298.85,334.30L299.91,334.30L299.91,335.23L300.96,335.23L300.96,336.14L302.01,336.14L302.01,337.00L303.06,337.00L303.06,337.78L304.12,337.78L304.12,338.48L305.17,338.48L305.17,339.08L306.22,339.08L306.22,339.58L307.28,339.58L307.28,340.04L308.33,340.04L308.33,340.45L309.38,340.45L309.38,340.82L310.44,340.82L310.44,341.17L311.49,341.17L311.49,341.47L312.54,341.47L312.54,341.74L313.59,341.74L313.59,341.97L314.65,341.97L314.65,342.16L315.70,342.16L315.70,342.28L316.75,342.28L316.75,342.34L317.81,342.34L317.81,342.41L318.86,342.41L318.86,342.47L319.91,342.47L319.91,342.52L320.96,342.52L320.96,342.56L322.02,342.56L322.02,342.59L323.07,342.59L323.07,342.62L324.12,342.62L324.12,342.64L325.18,342.64L325.18,342.66L326.23,342.66L326.23,342.68L327.28,342.68L327.28,342.69L328.34,342.69L328.34,342.70L329.39,342.70L329.39,342.70L330.44,342.70L330.44,342.70L331.49,342.70L331.49,342.70L332.55,342.70L332.55,342.70L333.60,342.70L333.60,342.70Z" fill="#e66c5c" fill-opacity="0.8"/>
<path d="M226.20,342.70L226.20,323.88L227.25,323.88L227.25,323.88L228.31,323.88L228.31,323.88L229.36,323.88L229.36,323.88L230.41,323.88L230.41,323.88L231.46,323.88L231.46,323.88L232.52,323.88L232.52,323.88L233.57,323.88L233.57,323.88L234.62,323.88L234.62,323.88L235.68,323.88L235.68,323.88L236.73,323.88L236.73,323.88L237.78,323.88L237.78,323.88L238.84,323.88L238.84,323.88L239.89,323.88L239.89,323.88L240.94,323.88L240.94,323.88L241.99,323.88L241.99,323.88L243.05,323.88L243.05,323.88L244.10,323.88L244.10,323.88L245.15,323.88L245.15,323.88L246.21,323.88L246.21,323.88L247.26,323.88L247.26,323.88L248.31,323.88L248.31,323.88L249.36,323.88L249.36,323.88L250.42,323.88L250.42,323.88L251.47,323.88L251.47,323.89L252.52,323.89L252.52,323.90L253.58,323.90L253.58,323.92L254.63,323.92L254.63,323.95L255.68,323.95L255.68,323.98L256.74,323.98L256.74,324.01L257.79,324.01L257.79,324.09L258.84,324.09L258.84,324.30L259.89,324.30L259.89,324.55L260.95,324.55L260.95,324.77L262.00,324.77L262.00,324.98L263.05,324.98L263.05,325.19L264.11,325.19L264.11,325.32L265.16,325.32L265.16,325.46L266.21,325.46L266.21,325.60L267.26,325.60L267.26,325.74L268.32,325.74L268.32,325.89L269.37,325.89L269.37,326.04L270.42,326.04L270.42,326.19L271.48,326.19L271.48,326.35L272.53,326.35L272.53,326.51L273.58,326.51L273.58,326.66L274.64,326.66L274.64,326.80L275.69,326.80L275.69,326.94L276.74,326.94L276.74,327.07L277.79,327.07L277.79,327.20L278.85,327.20L278.85,327.31L279.90,327.31L279.90,327.42L280.95,327.42L280.95,327.53L282.01,327.53L282.01,327.62L283.06,327.62L283.06,327.75L284.11,327.75L284.11,327.95L285.16,327.95L285.16,328.22L286.22,328.22L286.22,328.61L287.27,328.61L287.27,329.06L288.32,329.06L288.32,329.56L289.38,329.56L289.38,330.11L290.43,330.11L290.43,330.71L291.48,330.71L291.48,331.37L292.54,331.37L292.54,332.06L293.59,332.06L293.59,332.79L294.64,332.79L294.64,333.54L295.69,333.54L295.69,334.30L296.75,334.30L296.75,335.07L297.80,335.07L297.80,335.84L298.85,335.84L298.85,336.61L299.91,336.61L299.91,337.35L300.96,337.35L300.96,338.07L302.01,338.07L302.01,338.75L303.06,338.75L303.06,339.37L304.12,339.37L304.12,339.94L305.17,339.94L305.17,340.43L306.22,340.43L306.22,340.85L307.28,340.85L307.28,341.21L308.33,341.21L308.33,341.51L309.38,341.51L309.38,341.77L310.44,341.77L310.44,342.00L311.49,342.00L311.49,342.19L312.54,342.19L312.54,342.35L313.59,342.35L313.59,342.49L314.65,342.49L314.65,342.58L315.70,342.58L315.70,342.64L316.75,342.64L316.75,342.69L317.81,342.69L317.81,342.70L318.86,342.70L318.86,342.70L319.91,342.70L319.91,342.70L320.96,342.70L320.96,342.70L322.02,342.70L322.02,342.70L323.07,342.70L323.07,342.70L324.12,342.70L324.12,342.70L325.18,342.70L325.18,342.70L326.23,342.70L326.23,342.70L327.28,342.70L327.28,342.70L328.34,342.70L328.34,342.70L329.39,342.70L329.39,342.70L330.44,342.70L330.44,342.70L331.49,342.70L331.49,342.70L332.55,342.70L332.55,342.70L333.60,342.70L333.60,342.70Z" fill="#cc4778" fill-opacity="0.8"/>
<path d="M226.20,342.70L226.20,327.64L227.25,327.64L227.25,327.64L228.31,327.64L228.31,327.64L229.36,327.64L229.36,327.64L230.41,327.64L230.41,327.64L231.46,327.64L231.46,327.64L232.52,327.64L232.52,327.64L233.57,327.64L233.57,327.64L234.62,327.64L234.62,327.64L235.68,327.64L235.68,327.64L236.73,327.64L236.73,327.64L237.78,327.64L237.78,327.64L238.84,327.64L238.84,327.64L239.89,327.64L239.89,327.64L240.94,327.64L240.94,327.64L241.99,327.64L241.99,327.64L243.05,327.64L243.05,327.64L244.10,327.64L244.10,327.64L245.15,327.64L245.15,327.64L246.21,327.64L246.21,327.64L247.26,327.64L247.26,327.64L248.31,327.64L248.31,327.64L249.36,327.64L249.36,327.64L250.42,327.64L250.42,327.64L251.47,327.64L251.47,327.65L252.52,327.65L252.52,327.67L253.58,327.67L253.58,327.69L254.63,327.69L254.63,327.72L255.68,327.72L255.68,327.75L256.74,327.75L256.74,327.80L257.79,327.80L257.79,327.89L258.84,327.89L258.84,328.03L259.89,328.03L259.89,328.20L260.95,328.20L260.95,328.38L262.00,328.38L262.00,328.55L263.05,328.55L263.05,328.70L264.11,328.70L264.11,328.81L265.16,328.81L265.16,329.01L266.21,329.01L266.21,329.21L267.26,329.21L267.26,329.32L268.32,329.32L268.32,329.42L269.37,329.42L269.37,329.52L270.42,329.52L270.42,329.62L271.48,329.62L271.48,329.71L272.53,329.71L272.53,329.81L273.58,329.81L273.58,329.89L274.64,329.89L274.64,329.97L275.69,329.97L275.69,330.06L276.74,330.06L276.74,330.14L277.79,330.14L277.79,330.22L278.85,330.22L278.85,330.30L279.90,330.30L279.90,330.37L280.95,330.37L280.95,330.45L282.01,330.45L282.01,330.52L283.06,330.52L283.06,330.59L284.11,330.59L284.11,330.65L285.16,330.65L285.16,330.71L286.22,330.71L286.22,330.77L287.27,330.77L287.27,330.83L288.32,330.83L288.32,330.90L289.38,330.90L289.38,331.00L290.43,331.00L290.43,331.15L291.48,331.15L291.48,331.34L292.54,331.34L292.54,331.59L293.59,331.59L293.59,331.92L294.64,331.92L294.64,332.30L295.69,332.30L295.69,332.75L296.75,332.75L296.75,333.28L297.80,333.28L297.80,333.87L298.85,333.87L298.85,334.50L299.91,334.50L299.91,335.17L300.96,335.17L300.96,335.86L302.01,335.86L302.01,336.56L303.06,336.56L303.06,337.26L304.12,337.26L304.12,337.97L305.17,337.97L305.17,338.60L306.22,338.60L306.22,339.17L307.28,339.17L307.28,339.69L308.33,339.69L308.33,340.15L309.38,340.15L309.38,340.57L310.44,340.57L310.44,340.97L311.49,340.97L311.49,341.31L312.54,341.31L312.54,341.61L313.59,341.61L313.59,341.88L314.65,341.88L314.65,342.09L315.70,342.09L315.70,342.22L316.75,342.22L316.75,342.29L317.81,342.29L317.81,342.37L318.86,342.37L318.86,342.45L319.91,342.45L319.91,342.50L320.96,342.50L320.96,342.55L322.02,342.55L322.02,342.58L323.07,342.58L323.07,342.62L324.12,342.62L324.12,342.64L325.18,342.64L325.18,342.66L326.23,342.66L326.23,342.68L327.28,342.68L327.28,342.69L328.34,342.69L328.34,342.70L329.39,342.70L329.39,342.70L330.44,342.70L330.44,342.70L331.49,342.70L331.49,342.70L332.55,342.70L332.55,342.70L333.60,342.70L333.60,342.70Z" fill="#aa2395" fill-opacity="0.8"/>
<path d="M226.20,342.70L226.20,331.41L227.25,331.41L227.25,331.41L228.31,331.41L228.31,331.41L229.36,331.41L229.36,331.41L230.41,331.41L230.41,331.41L231.46,331.41L231.46,331.41L232.52,331.41L232.52,331.41L233.57,331.41L233.57,331.41L234.62,331.41L234.62,331.41L235.68,331.41L235.68,331.41L236.73,331.41L236.73,331.41L237.78,331.41L237.78,331.41L238.84,331.41L238.84,331.41L239.89,331.41L239.89,331.41L240.94,331.41L240.94,331.41L241.99,331.41L241.99,331.41L243.05,331.41L243.05,331.41L244.10,331.41L244.10,331.41L245.15,331.41L245.15,331.41L246.21,331.41L246.21,331.41L247.26,331.41L247.26,331.41L248.31,331.41L248.31,331.41L249.36,331.41L249.36,331.41L250.42,331.41L250.42,331.41L251.47,331.41L251.47,331.42L252.52,331.42L252.52,331.43L253.58,331.43L253.58,331.46L254.63,331.46L254.63,331.48L255.68,331.48L255.68,331.51L256.74,331.51L256.74,331.55L257.79,331.55L257.79,331.63L258.84,331.63L258.84,331.75L259.89,331.75L259.89,331.88L260.95,331.88L260.95,332.02L262.00,332.02L262.00,332.15L263.05,332.15L263.05,332.27L264.11,332.27L264.11,332.36L265.16,332.36L265.16,332.49L266.21,332.49L266.21,332.59L267.26,332.59L267.26,332.67L268.32,332.67L268.32,332.75L269.37,332.75L269.37,332.83L270.42,332.83L270.42,332.90L271.48,332.90L271.48,332.97L272.53,332.97L272.53,333.04L273.58,333.04L273.58,333.10L274.64,333.10L274.64,333.16L275.69,333.16L275.69,333.22L276.74,333.22L276.74,333.28L277.79,333.28L277.79,333.33L278.85,333.33L278.85,333.38L279.90,333.38L279.90,333.43L280.95,333.43L280.95,333.48L282.01,333.48L282.01,333.53L283.06,333.53L283.06,333.58L284.11,333.58L284.11,333.62L285.16,333.62L285.16,333.67L286.22,333.67L286.22,333.71L287.27,333.71L287.27,333.74L288.32,333.74L288.32,333.77L289.38,333.77L289.38,333.81L290.43,333.81L290.43,333.88L291.48,333.88L291.48,333.99L292.54,333.99L292.54,334.14L293.59,334.14L293.59,334.35L294.64,334.35L294.64,334.61L295.69,334.61L295.69,334.93L296.75,334.93L296.75,335.32L297.80,335.32L297.80,335.78L298.85,335.78L298.85,336.31L299.91,336.31L299.91,336.88L300.96,336.88L300.96,337.49L302.01,337.49L302.01,338.09L303.06,338.09L303.06,338.68L304.12,338.68L304.12,339.24L305.17,339.24L305.17,339.74L306.22,339.74L306.22,340.20L307.28,340.20L307.28,340.60L308.33,340.60L308.33,340.97L309.38,340.97L309.38,341.28L310.44,341.28L310.44,341.55L311.49,341.55L311.49,341.78L312.54,341.78L312.54,341.97L313.59,341.97L313.59,342.12L314.65,342.12L314.65,342.24L315.70,342.24L315.70,342.34L316.75,342.34L316.75,342.43L317.81,342.43L317.81,342.50L318.86,342.50L318.86,342.57L319.91,342.57L319.91,342.62L320.96,342.62L320.96,342.66L322.02,342.66L322.02,342.68L323.07,342.68L323.07,342.70L324.12,342.70L324.12,342.70L325.18,342.70L325.18,342.70L326.23,342.70L326.23,342.70L327.28,342.70L327.28,342.70L328.34,342.70L328.34,342.70L329.39,342.70L329.39,342.70L330.44,342.70L330.44,342.70L331.49,342.70L331.49,342.70L332.55,342.70L332.55,342.70L333.60,342.70L333.60,342.70Z" fill="#7e03a8" fill-opacity="0.8"/>
<path d="M226.20,342.70L226.20,335.17L227.25,335.17L227.25,335.17L228.31,335.17L228.31,335.17L229.36,335.17L229.36,335.17L230.41,335.17L230.41,335.17L231.46,335.17L231.46,335.17L232.52,335.17L232.52,335.17L233.57,335.17L233.57,335.17L234.62,335.17L234.62,335.17L235.68,335.17L235.68,335.17L236.73,335.17L236.73,335.17L237.78,335.17L237.78,335.17L238.84,335.17L238.84,335.17L239.89,335.17L239.89,335.17L240.94,335.17L240.94,335.17L241.99,335.17L241.99,335.17L243.05,335.17L243.05,335.17L244.10,335.17L244.10,335.17L245.15,335.17L245.15,335.17L246.21,335.17L246.21,335.17L247.26,335.17L247.26,335.17L248.31,335.17L248.31,335.17L249.36,335.17L249.36,335.17L250.42,335.17L250.42,335.17L251.47,335.17L251.47,335.18L252.52,335.18L252.52,335.19L253.58,335.19L253.58,335.21L254.63,335.21L254.63,335.22L255.68,335.22L255.68,335.24L256.74,335.24L256.74,335.27L257.79,335.27L257.79,335.32L258.84,335.32L258.84,335.41L259.89,335.41L259.89,335.51L260.95,335.51L260.95,335.61L262.00,335.61L262.00,335.71L263.05,335.71L263.05,335.79L264.11,335.79L264.11,335.85L265.16,335.85L265.16,335.90L266.21,335.90L266.21,335.96L267.26,335.96L267.26,336.00L268.32,336.00L268.32,336.04L269.37,336.04L269.37,336.08L270.42,336.08L270.42,336.13L271.48,336.13L271.48,336.17L272.53,336.17L272.53,336.20L273.58,336.20L273.58,336.24L274.64,336.24L274.64,336.27L275.69,336.27L275.69,336.31L276.74,336.31L276.74,336.34L277.79,336.34L277.79,336.37L278.85,336.37L278.85,336.41L279.90,336.41L279.90,336.44L280.95,336.44L280.95,336.48L282.01,336.48L282.01,336.51L283.06,336.51L283.06,336.54L284.11,336.54L284.11,336.58L285.16,336.58L285.16,336.61L286.22,336.61L286.22,336.65L287.27,336.65L287.27,336.67L288.32,336.67L288.32,336.67L289.38,336.67L289.38,336.69L290.43,336.69L290.43,336.72L291.48,336.72L291.48,336.77L292.54,336.77L292.54,336.86L293.59,336.86L293.59,336.97L294.64,336.97L294.64,337.12L295.69,337.12L295.69,337.31L296.75,337.31L296.75,337.56L297.80,337.56L297.80,337.86L298.85,337.86L298.85,338.22L299.91,338.22L299.91,338.63L300.96,338.63L300.96,339.08L302.01,339.08L302.01,339.56L303.06,339.56L303.06,340.02L304.12,340.02L304.12,340.45L305.17,340.45L305.17,340.83L306.22,340.83L306.22,341.17L307.28,341.17L307.28,341.46L308.33,341.46L308.33,341.69L309.38,341.69L309.38,341.89L310.44,341.89L310.44,342.04L311.49,342.04L311.49,342.16L312.54,342.16L312.54,342.26L313.59,342.26L313.59,342.33L314.65,342.33L314.65,342.40L315.70,342.40L315.70,342.46L316.75,342.46L316.75,342.52L317.81,342.52L317.81,342.57L318.86,342.57L318.86,342.61L319.91,342.61L319.91,342.65L320.96,342.65L320.96,342.67L322.02,342.67L322.02,342.69L323.07,342.69L323.07,342.70L324.12,342.70L324.12,342.70L325.18,342.70L325.18,342.70L326.23,342.70L326.23,342.70L327.28,342.70L327.28,342.70L328.34,342.70L328.34,342.70L329.39,342.70L329.39,342.70L330.44,342.70L330.44,342.70L331.49,342.70L331.49,342.70L332.55,342.70L332.55,342.70L333.60,342.70L333.60,342.70Z" fill="#4c02a1" fill-opacity="0.8"/>
<path d="M226.20,342.70L226.20,338.94L227.25,338.94L227.25,338.94L228.31,338.94L228.31,338.94L229.36,338.94L229.36,338.94L230.41,338.94L230.41,338.94L231.46,338.94L231.46,338.94L232.52,338.94L232.52,338.94L233.57,338.94L233.57,338.94L234.62,338.94L234.62,338.94L235.68,338.94L235.68,338.94L236.73,338.94L236.73,338.94L237.78,338.94L237.78,338.94L238.84,338.94L238.84,338.94L239.89,338.94L239.89,338.94L240.94,338.94L240.94,338.94L241.99,338.94L241.99,338.94L243.05,338.94L243.05,338.94L244.10,338.94L244.10,338.94L245.15,338.94L245.15,338.94L246.21,338.94L246.21,338.94L247.26,338.94L247.26,338.94L248.31,338.94L248.31,338.94L249.36,338.94L249.36,338.94L250.42,338.94L250.42,338.94L251.47,338.94L251.47,338.94L252.52,338.94L252.52,338.95L253.58,338.95L253.58,338.96L254.63,338.96L254.63,338.98L255.68,338.98L255.68,338.99L256.74,338.99L256.74,339.01L257.79,339.01L257.79,339.04L258.84,339.04L258.84,339.08L259.89,339.08L259.89,339.14L260.95,339.14L260.95,339.20L262.00,339.20L262.00,339.26L263.05,339.26L263.05,339.30L264.11,339.30L264.11,339.33L265.16,339.33L265.16,339.36L266.21,339.36L266.21,339.38L267.26,339.38L267.26,339.40L268.32,339.40L268.32,339.42L269.37,339.42L269.37,339.44L270.42,339.44L270.42,339.46L271.48,339.46L271.48,339.48L272.53,339.48L272.53,339.50L273.58,339.50L273.58,339.51L274.64,339.51L274.64,339.52L275.69,339.52L275.69,339.54L276.74,339.54L276.74,339.55L277.79,339.55L277.79,339.56L278.85,339.56L278.85,339.58L279.90,339.58L279.90,339.59L280.95,339.59L280.95,339.60L282.01,339.60L282.01,339.62L283.06,339.62L283.06,339.63L284.11,339.63L284.11,339.65L285.16,339.65L285.16,339.67L286.22,339.67L286.22,339.69L287.27,339.69L287.27,339.71L288.32,339.71L288.32,339.72L289.38,339.72L289.38,339.72L290.43,339.72L290.43,339.73L291.48,339.73L291.48,339.74L292.54,339.74L292.54,339.77L293.59,339.77L293.59,339.81L294.64,339.81L294.64,339.87L295.69,339.87L295.69,339.95L296.75,339.95L296.75,340.06L297.80,340.06L297.80,340.19L298.85,340.19L298.85,340.37L299.91,340.37L299.91,340.59L300.96,340.59L300.96,340.83L302.01,340.83L302.01,341.09L303.06,341.09L303.06,341.35L304.12,341.35L304.12,341.57L305.17,341.57L305.17,341.77L306.22,341.77L306.22,341.94L307.28,341.94L307.28,342.08L308.33,342.08L308.33,342.19L309.38,342.19L309.38,342.27L310.44,342.27L310.44,342.34L311.49,342.34L311.49,342.39L312.54,342.39L312.54,342.43L313.59,342.43L313.59,342.47L314.65,342.47L314.65,342.51L315.70,342.51L315.70,342.55L316.75,342.55L316.75,342.61L317.81,342.61L317.81,342.65L318.86,342.65L318.86,342.67L319.91,342.67L319.91,342.69L320.96,342.69L320.96,342.69L322.02,342.69L322.02,342.70L323.07,342.70L323.07,342.70L324.12,342.70L324.12,342.70L325.18,342.70L325.18,342.70L326.23,342.70L326.23,342.70L327.28,342.70L327.28,342.70L328.34,342.70L328.34,342.70L329.39,342.70L329.39,342.70L330.44,342.70L330.44,342.70L331.49,342.70L331.49,342.70L332.55,342.70L332.55,342.70L333.60,342.70L333.60,342.70Z" fill="#0d0887" fill-opacity="0.8"/>
<line x1="286.22" y1="342.70" x2="286.22" y2="271.00" stroke="#000" stroke-width="1.2" stroke-dasharray="3.59 1.55"/>
</g>
<rect x="226.20" y="271.00" width="107.40" height="71.70" fill="none" stroke="#3a3a3a" stroke-width="0.8"/>
<line x1="238.84" y1="342.70" x2="238.84" y2="344.70" stroke="#3a3a3a" stroke-width="0.8"/>
<text x="238.84" y="352.30" font-size="7.40" text-anchor="middle">−20</text>
<line x1="270.42" y1="342.70" x2="270.42" y2="344.70" stroke="#3a3a3a" stroke-width="0.8"/>
<text x="270.42" y="352.30" font-size="7.40" text-anchor="middle">−10</text>
<line x1="302.01" y1="342.70" x2="302.01" y2="344.70" stroke="#3a3a3a" stroke-width="0.8"/>
<text x="302.01" y="352.30" font-size="7.40" text-anchor="middle">0</text>
<line x1="333.60" y1="342.70" x2="333.60" y2="344.70" stroke="#3a3a3a" stroke-width="0.8"/>
<text x="333.60" y="352.30" font-size="7.40" text-anchor="middle">10</text>
<line x1="224.20" y1="324.78" x2="226.20" y2="324.78" stroke="#3a3a3a" stroke-width="0.8"/>
<text x="222.00" y="327.28" font-size="7.40" text-anchor="end">2000</text>
<line x1="224.20" y1="306.85" x2="226.20" y2="306.85" stroke="#3a3a3a" stroke-width="0.8"/>
<text x="222.00" y="309.35" font-size="7.40" text-anchor="end">4000</text>
<line x1="224.20" y1="288.93" x2="226.20" y2="288.93" stroke="#3a3a3a" stroke-width="0.8"/>
<text x="222.00" y="291.43" font-size="7.40" text-anchor="end">6000</text>
<line x1="224.20" y1="271.00" x2="226.20" y2="271.00" stroke="#3a3a3a" stroke-width="0.8"/>
<text x="222.00" y="273.50" font-size="7.40" text-anchor="end">8000</text>
<text x="256.74" y="362.80" font-size="9.14" textLength="12.60" lengthAdjust="spacingAndGlyphs">log</text>
<text x="269.77" y="364.21" font-size="6.94" textLength="7.73" lengthAdjust="spacingAndGlyphs">10</text>
<text x="279.32" y="362.80" font-size="9.32" textLength="2.43" lengthAdjust="spacingAndGlyphs">(</text>
<text x="281.35" y="362.80" font-size="9.14" font-style="italic" textLength="5.40" lengthAdjust="spacingAndGlyphs">λ</text>
<text x="286.91" y="364.29" font-size="6.94" textLength="13.79" lengthAdjust="spacingAndGlyphs">QGT</text>
<text x="300.86" y="362.80" font-size="9.32" textLength="2.51" lengthAdjust="spacingAndGlyphs">)</text>
<text transform="translate(201.00,306.85) rotate(-90)" font-size="8.3" text-anchor="middle" textLength="67.4" lengthAdjust="spacingAndGlyphs">Cumulative occ.</text>
<clipPath id="clipd"><rect x="372.50" y="264.80" width="307.50" height="205.50"/></clipPath>
<g clip-path="url(#clipd)">
<path d="M372.50,470.30L372.50,470.30L375.51,470.30L375.51,470.30L378.53,470.30L378.53,470.30L381.54,470.30L381.54,470.30L384.56,470.30L384.56,470.30L387.57,470.30L387.57,470.30L390.59,470.30L390.59,470.30L393.60,470.30L393.60,470.30L396.62,470.30L396.62,470.30L399.63,470.30L399.63,470.30L402.65,470.30L402.65,470.30L405.66,470.30L405.66,470.30L408.68,470.30L408.68,470.30L411.69,470.30L411.69,470.30L414.71,470.30L414.71,470.30L417.72,470.30L417.72,470.30L420.74,470.30L420.74,470.30L423.75,470.30L423.75,470.30L426.76,470.30L426.76,470.30L429.78,470.30L429.78,470.30L432.79,470.30L432.79,470.30L435.81,470.30L435.81,470.30L438.82,470.30L438.82,470.30L441.84,470.30L441.84,470.30L444.85,470.30L444.85,470.30L447.87,470.30L447.87,470.30L450.88,470.30L450.88,470.30L453.90,470.30L453.90,470.30L456.91,470.30L456.91,470.30L459.93,470.30L459.93,470.30L462.94,470.30L462.94,470.30L465.96,470.30L465.96,470.30L468.97,470.30L468.97,470.30L471.99,470.30L471.99,470.30L475.00,470.30L475.00,470.30L478.01,470.30L478.01,470.30L481.03,470.30L481.03,457.32L484.04,457.32L484.04,441.64L487.06,441.64L487.06,434.07L490.07,434.07L490.07,459.48L493.09,459.48L493.09,454.08L496.10,454.08L496.10,454.08L499.12,454.08L499.12,469.76L502.13,469.76L502.13,459.48L505.15,459.48L505.15,469.22L508.16,469.22L508.16,468.68L511.18,468.68L511.18,467.06L514.19,467.06L514.19,464.89L517.21,464.89L517.21,462.73L520.22,462.73L520.22,460.57L523.24,460.57L523.24,458.40L526.25,458.40L526.25,456.24L529.26,456.24L529.26,453.54L532.28,453.54L532.28,450.83L535.29,450.83L535.29,448.13L538.31,448.13L538.31,444.34L541.32,444.34L541.32,440.02L544.34,440.02L544.34,435.69L547.35,435.69L547.35,430.82L550.37,430.82L550.37,425.96L553.38,425.96L553.38,419.47L556.40,419.47L556.40,412.44L559.41,412.44L559.41,404.86L562.43,404.86L562.43,397.29L565.44,397.29L565.44,390.26L568.46,390.26L568.46,383.77L571.47,383.77L571.47,377.28L574.49,377.28L574.49,372.42L577.50,372.42L577.50,368.09L580.51,368.09L580.51,365.39L583.53,365.39L583.53,363.76L586.54,363.76L586.54,363.76L589.56,363.76L589.56,366.47L592.57,366.47L592.57,372.42L595.59,372.42L595.59,379.99L598.60,379.99L598.60,389.72L601.62,389.72L601.62,400.54L604.63,400.54L604.63,411.35L607.65,411.35L607.65,422.17L610.66,422.17L610.66,431.90L613.68,431.90L613.68,439.48L616.69,439.48L616.69,445.42L619.71,445.42L619.71,450.83L622.72,450.83L622.72,454.62L625.74,454.62L625.74,457.86L628.75,457.86L628.75,460.03L631.76,460.03L631.76,462.19L634.78,462.19L634.78,463.81L637.79,463.81L637.79,464.89L640.81,464.89L640.81,465.97L643.82,465.97L643.82,467.06L646.84,467.06L646.84,468.14L649.85,468.14L649.85,468.68L652.87,468.68L652.87,469.22L655.88,469.22L655.88,469.76L658.90,469.76L658.90,469.76L661.91,469.76L661.91,469.76L664.93,469.76L664.93,470.30L667.94,470.30L667.94,470.30L670.96,470.30L670.96,470.30L673.97,470.30L673.97,470.30L676.99,470.30L676.99,470.30L680.00,470.30L680.00,470.30Z" fill="#f0f921" fill-opacity="0.8"/>
<path d="M372.50,470.30L372.50,470.30L375.51,470.30L375.51,470.30L378.53,470.30L378.53,470.30L381.54,470.30L381.54,470.30L384.56,470.30L384.56,470.30L387.57,470.30L387.57,470.30L390.59,470.30L390.59,470.30L393.60,470.30L393.60,470.30L396.62,470.30L396.62,470.30L399.63,470.30L399.63,470.30L402.65,470.30L402.65,470.30L405.66,470.30L405.66,470.30L408.68,470.30L408.68,470.30L411.69,470.30L411.69,470.30L414.71,470.30L414.71,470.30L417.72,470.30L417.72,470.30L420.74,470.30L420.74,470.30L423.75,470.30L423.75,470.30L426.76,470.30L426.76,470.30L429.78,470.30L429.78,470.30L432.79,470.30L432.79,470.30L435.81,470.30L435.81,470.30L438.82,470.30L438.82,470.30L441.84,470.30L441.84,470.30L444.85,470.30L444.85,470.30L447.87,470.30L447.87,470.30L450.88,470.30L450.88,470.30L453.90,470.30L453.90,470.30L456.91,470.30L456.91,470.30L459.93,470.30L459.93,470.30L462.94,470.30L462.94,470.30L465.96,470.30L465.96,470.30L468.97,470.30L468.97,470.30L471.99,470.30L471.99,470.30L475.00,470.30L475.00,470.30L478.01,470.30L478.01,470.30L481.03,470.30L481.03,459.48L484.04,459.48L484.04,447.59L487.06,447.59L487.06,441.64L490.07,441.64L490.07,456.78L493.09,456.78L493.09,448.67L496.10,448.67L496.10,449.75L499.12,449.75L499.12,459.48L502.13,459.48L502.13,454.08L505.15,454.08L505.15,469.76L508.16,469.76L508.16,469.22L511.18,469.22L511.18,468.68L514.19,468.68L514.19,467.60L517.21,467.60L517.21,465.97L520.22,465.97L520.22,464.35L523.24,464.35L523.24,462.73L526.25,462.73L526.25,460.57L529.26,460.57L529.26,457.86L532.28,457.86L532.28,455.70L535.29,455.70L535.29,453.54L538.31,453.54L538.31,450.29L541.32,450.29L541.32,447.05L544.34,447.05L544.34,443.26L547.35,443.26L547.35,438.93L550.37,438.93L550.37,432.99L553.38,432.99L553.38,426.50L556.40,426.50L556.40,420.01L559.41,420.01L559.41,412.98L562.43,412.98L562.43,405.95L565.44,405.95L565.44,399.46L568.46,399.46L568.46,392.97L571.47,392.97L571.47,387.02L574.49,387.02L574.49,381.61L577.50,381.61L577.50,377.28L580.51,377.28L580.51,374.04L583.53,374.04L583.53,372.42L586.54,372.42L586.54,371.88L589.56,371.88L589.56,373.50L592.57,373.50L592.57,377.28L595.59,377.28L595.59,383.77L598.60,383.77L598.60,391.34L601.62,391.34L601.62,400.54L604.63,400.54L604.63,410.27L607.65,410.27L607.65,420.01L610.66,420.01L610.66,428.66L613.68,428.66L613.68,436.23L616.69,436.23L616.69,442.18L619.71,442.18L619.71,447.05L622.72,447.05L622.72,451.37L625.74,451.37L625.74,454.62L628.75,454.62L628.75,457.32L631.76,457.32L631.76,459.48L634.78,459.48L634.78,461.65L637.79,461.65L637.79,463.27L640.81,463.27L640.81,464.35L643.82,464.35L643.82,465.43L646.84,465.43L646.84,467.06L649.85,467.06L649.85,467.60L652.87,467.60L652.87,468.68L655.88,468.68L655.88,469.22L658.90,469.22L658.90,469.22L661.91,469.22L661.91,469.76L664.93,469.76L664.93,469.76L667.94,469.76L667.94,470.30L670.96,470.30L670.96,470.30L673.97,470.30L673.97,470.30L676.99,470.30L676.99,470.30L680.00,470.30L680.00,470.30Z" fill="#fdca26" fill-opacity="0.8"/>
<path d="M372.50,470.30L372.50,470.30L375.51,470.30L375.51,470.30L378.53,470.30L378.53,470.30L381.54,470.30L381.54,470.30L384.56,470.30L384.56,470.30L387.57,470.30L387.57,470.30L390.59,470.30L390.59,470.30L393.60,470.30L393.60,470.30L396.62,470.30L396.62,470.30L399.63,470.30L399.63,470.30L402.65,470.30L402.65,470.30L405.66,470.30L405.66,470.30L408.68,470.30L408.68,470.30L411.69,470.30L411.69,470.30L414.71,470.30L414.71,470.30L417.72,470.30L417.72,470.30L420.74,470.30L420.74,470.30L423.75,470.30L423.75,470.30L426.76,470.30L426.76,470.30L429.78,470.30L429.78,470.30L432.79,470.30L432.79,470.30L435.81,470.30L435.81,470.30L438.82,470.30L438.82,470.30L441.84,470.30L441.84,470.30L444.85,470.30L444.85,470.30L447.87,470.30L447.87,470.30L450.88,470.30L450.88,470.30L453.90,470.30L453.90,470.30L456.91,470.30L456.91,470.30L459.93,470.30L459.93,470.30L462.94,470.30L462.94,470.30L465.96,470.30L465.96,470.30L468.97,470.30L468.97,470.30L471.99,470.30L471.99,470.30L475.00,470.30L475.00,470.30L478.01,470.30L478.01,470.30L481.03,470.30L481.03,460.57L484.04,460.57L484.04,454.08L487.06,454.08L487.06,448.67L490.07,448.67L490.07,452.99L493.09,452.99L493.09,444.88L496.10,444.88L496.10,445.96L499.12,445.96L499.12,456.78L502.13,456.78L502.13,451.37L505.15,451.37L505.15,459.48L508.16,459.48L508.16,469.76L511.18,469.76L511.18,469.22L514.19,469.22L514.19,468.68L517.21,468.68L517.21,468.14L520.22,468.14L520.22,467.60L523.24,467.60L523.24,466.51L526.25,466.51L526.25,465.43L529.26,465.43L529.26,463.81L532.28,463.81L532.28,461.65L535.29,461.65L535.29,459.48L538.31,459.48L538.31,456.24L541.32,456.24L541.32,452.99L544.34,452.99L544.34,448.67L547.35,448.67L547.35,444.34L550.37,444.34L550.37,438.93L553.38,438.93L553.38,433.53L556.40,433.53L556.40,427.04L559.41,427.04L559.41,421.09L562.43,421.09L562.43,414.60L565.44,414.60L565.44,408.11L568.46,408.11L568.46,401.62L571.47,401.62L571.47,395.67L574.49,395.67L574.49,390.80L577.50,390.80L577.50,386.48L580.51,386.48L580.51,383.23L583.53,383.23L583.53,381.07L586.54,381.07L586.54,379.99L589.56,379.99L589.56,380.53L592.57,380.53L592.57,382.69L595.59,382.69L595.59,386.48L598.60,386.48L598.60,390.80L601.62,390.80L601.62,396.75L604.63,396.75L604.63,403.24L607.65,403.24L607.65,410.81L610.66,410.81L610.66,417.84L613.68,417.84L613.68,424.87L616.69,424.87L616.69,431.36L619.71,431.36L619.71,436.23L622.72,436.23L622.72,441.10L625.74,441.10L625.74,444.88L628.75,444.88L628.75,448.67L631.76,448.67L631.76,451.37L634.78,451.37L634.78,454.08L637.79,454.08L637.79,456.24L640.81,456.24L640.81,458.40L643.82,458.40L643.82,460.57L646.84,460.57L646.84,462.73L649.85,462.73L649.85,464.35L652.87,464.35L652.87,465.97L655.88,465.97L655.88,467.06L658.90,467.06L658.90,468.14L661.91,468.14L661.91,468.68L664.93,468.68L664.93,469.22L667.94,469.22L667.94,469.76L670.96,469.76L670.96,470.30L673.97,470.30L673.97,470.30L676.99,470.30L676.99,470.30L680.00,470.30L680.00,470.30Z" fill="#fb9f3a" fill-opacity="0.8"/>
<path d="M372.50,470.30L372.50,470.30L375.51,470.30L375.51,470.30L378.53,470.30L378.53,470.30L381.54,470.30L381.54,470.30L384.56,470.30L384.56,470.30L387.57,470.30L387.57,470.30L390.59,470.30L390.59,470.30L393.60,470.30L393.60,470.30L396.62,470.30L396.62,470.30L399.63,470.30L399.63,470.30L402.65,470.30L402.65,470.30L405.66,470.30L405.66,470.30L408.68,470.30L408.68,470.30L411.69,470.30L411.69,470.30L414.71,470.30L414.71,470.30L417.72,470.30L417.72,470.30L420.74,470.30L420.74,470.30L423.75,470.30L423.75,470.30L426.76,470.30L426.76,470.30L429.78,470.30L429.78,470.30L432.79,470.30L432.79,470.30L435.81,470.30L435.81,470.30L438.82,470.30L438.82,470.30L441.84,470.30L441.84,470.30L444.85,470.30L444.85,470.30L447.87,470.30L447.87,470.30L450.88,470.30L450.88,470.30L453.90,470.30L453.90,470.30L456.91,470.30L456.91,470.30L459.93,470.30L459.93,470.30L462.94,470.30L462.94,470.30L465.96,470.30L465.96,470.30L468.97,470.30L468.97,470.30L471.99,470.30L471.99,470.30L475.00,470.30L475.00,470.30L478.01,470.30L478.01,470.30L481.03,470.30L481.03,461.11L484.04,461.11L484.04,456.24L487.06,456.24L487.06,452.45L490.07,452.45L490.07,452.45L493.09,452.45L493.09,453.54L496.10,453.54L496.10,455.16L499.12,455.16L499.12,453.54L502.13,453.54L502.13,447.05L505.15,447.05L505.15,455.16L508.16,455.16L508.16,467.06L511.18,467.06L511.18,469.76L514.19,469.76L514.19,469.22L517.21,469.22L517.21,469.22L520.22,469.22L520.22,468.68L523.24,468.68L523.24,467.60L526.25,467.60L526.25,467.06L529.26,467.06L529.26,465.43L532.28,465.43L532.28,464.35L535.29,464.35L535.29,462.19L538.31,462.19L538.31,460.03L541.32,460.03L541.32,457.32L544.34,457.32L544.34,454.08L547.35,454.08L547.35,450.29L550.37,450.29L550.37,445.96L553.38,445.96L553.38,441.10L556.40,441.10L556.40,436.23L559.41,436.23L559.41,430.82L562.43,430.82L562.43,424.87L565.44,424.87L565.44,419.47L568.46,419.47L568.46,414.06L571.47,414.06L571.47,408.65L574.49,408.65L574.49,404.32L577.50,404.32L577.50,400.00L580.51,400.00L580.51,396.75L583.53,396.75L583.53,394.59L586.54,394.59L586.54,393.51L589.56,393.51L589.56,393.51L592.57,393.51L592.57,394.59L595.59,394.59L595.59,397.29L598.60,397.29L598.60,400.54L601.62,400.54L601.62,404.32L604.63,404.32L604.63,409.19L607.65,409.19L607.65,414.60L610.66,414.60L610.66,420.55L613.68,420.55L613.68,425.96L616.69,425.96L616.69,431.36L619.71,431.36L619.71,435.69L622.72,435.69L622.72,439.48L625.74,439.48L625.74,443.26L628.75,443.26L628.75,446.51L631.76,446.51L631.76,449.21L634.78,449.21L634.78,451.37L637.79,451.37L637.79,453.54L640.81,453.54L640.81,455.70L643.82,455.70L643.82,457.86L646.84,457.86L646.84,460.57L649.85,460.57L649.85,462.73L652.87,462.73L652.87,464.35L655.88,464.35L655.88,465.97L658.90,465.97L658.90,467.06L661.91,467.06L661.91,468.14L664.93,468.14L664.93,469.22L667.94,469.22L667.94,469.76L670.96,469.76L670.96,470.30L673.97,470.30L673.97,470.30L676.99,470.30L676.99,470.30L680.00,470.30L680.00,470.30Z" fill="#ed7953" fill-opacity="0.8"/>
<path d="M372.50,470.30L372.50,470.30L375.51,470.30L375.51,470.30L378.53,470.30L378.53,470.30L381.54,470.30L381.54,470.30L384.56,470.30L384.56,470.30L387.57,470.30L387.57,470.30L390.59,470.30L390.59,470.30L393.60,470.30L393.60,470.30L396.62,470.30L396.62,470.30L399.63,470.30L399.63,470.30L402.65,470.30L402.65,470.30L405.66,470.30L405.66,470.30L408.68,470.30L408.68,470.30L411.69,470.30L411.69,470.30L414.71,470.30L414.71,470.30L417.72,470.30L417.72,470.30L420.74,470.30L420.74,470.30L423.75,470.30L423.75,470.30L426.76,470.30L426.76,470.30L429.78,470.30L429.78,470.30L432.79,470.30L432.79,470.30L435.81,470.30L435.81,470.30L438.82,470.30L438.82,470.30L441.84,470.30L441.84,470.30L444.85,470.30L444.85,470.30L447.87,470.30L447.87,470.30L450.88,470.30L450.88,470.30L453.90,470.30L453.90,470.30L456.91,470.30L456.91,470.30L459.93,470.30L459.93,470.30L462.94,470.30L462.94,470.30L465.96,470.30L465.96,470.30L468.97,470.30L468.97,470.30L471.99,470.30L471.99,470.30L475.00,470.30L475.00,470.30L478.01,470.30L478.01,470.30L481.03,470.30L481.03,460.03L484.04,460.03L484.04,457.32L487.06,457.32L487.06,454.08L490.07,454.08L490.07,458.40L493.09,458.40L493.09,459.48L496.10,459.48L496.10,461.65L499.12,461.65L499.12,462.73L502.13,462.73L502.13,462.73L505.15,462.73L505.15,465.97L508.16,465.97L508.16,469.76L511.18,469.76L511.18,469.76L514.19,469.76L514.19,469.76L517.21,469.76L517.21,469.22L520.22,469.22L520.22,468.68L523.24,468.68L523.24,468.14L526.25,468.14L526.25,467.06L529.26,467.06L529.26,466.51L532.28,466.51L532.28,464.89L535.29,464.89L535.29,463.27L538.31,463.27L538.31,461.11L541.32,461.11L541.32,458.40L544.34,458.40L544.34,455.70L547.35,455.70L547.35,451.91L550.37,451.91L550.37,448.13L553.38,448.13L553.38,443.26L556.40,443.26L556.40,438.39L559.41,438.39L559.41,433.53L562.43,433.53L562.43,428.12L565.44,428.12L565.44,422.17L568.46,422.17L568.46,417.30L571.47,417.30L571.47,411.89L574.49,411.89L574.49,407.57L577.50,407.57L577.50,403.24L580.51,403.24L580.51,400.00L583.53,400.00L583.53,397.83L586.54,397.83L586.54,396.75L589.56,396.75L589.56,396.75L592.57,396.75L592.57,398.38L595.59,398.38L595.59,401.08L598.60,401.08L598.60,404.86L601.62,404.86L601.62,409.73L604.63,409.73L604.63,415.14L607.65,415.14L607.65,421.63L610.66,421.63L610.66,427.58L613.68,427.58L613.68,433.53L616.69,433.53L616.69,438.93L619.71,438.93L619.71,443.26L622.72,443.26L622.72,447.05L625.74,447.05L625.74,450.29L628.75,450.29L628.75,452.99L631.76,452.99L631.76,455.70L634.78,455.70L634.78,457.86L637.79,457.86L637.79,459.48L640.81,459.48L640.81,461.11L643.82,461.11L643.82,462.73L646.84,462.73L646.84,464.35L649.85,464.35L649.85,465.97L652.87,465.97L652.87,467.06L655.88,467.06L655.88,468.14L658.90,468.14L658.90,468.68L661.91,468.68L661.91,469.22L664.93,469.22L664.93,469.76L667.94,469.76L667.94,469.76L670.96,469.76L670.96,470.30L673.97,470.30L673.97,470.30L676.99,470.30L676.99,470.30L680.00,470.30L680.00,470.30Z" fill="#d8576b" fill-opacity="0.8"/>
<path d="M372.50,470.30L372.50,470.30L375.51,470.30L375.51,470.30L378.53,470.30L378.53,470.30L381.54,470.30L381.54,470.30L384.56,470.30L384.56,470.30L387.57,470.30L387.57,470.30L390.59,470.30L390.59,470.30L393.60,470.30L393.60,470.30L396.62,470.30L396.62,470.30L399.63,470.30L399.63,470.30L402.65,470.30L402.65,470.30L405.66,470.30L405.66,470.30L408.68,470.30L408.68,470.30L411.69,470.30L411.69,470.30L414.71,470.30L414.71,470.30L417.72,470.30L417.72,470.30L420.74,470.30L420.74,470.30L423.75,470.30L423.75,470.30L426.76,470.30L426.76,470.30L429.78,470.30L429.78,470.30L432.79,470.30L432.79,470.30L435.81,470.30L435.81,470.30L438.82,470.30L438.82,470.30L441.84,470.30L441.84,470.30L444.85,470.30L444.85,470.30L447.87,470.30L447.87,470.30L450.88,470.30L450.88,470.30L453.90,470.30L453.90,470.30L456.91,470.30L456.91,470.30L459.93,470.30L459.93,470.30L462.94,470.30L462.94,470.30L465.96,470.30L465.96,470.30L468.97,470.30L468.97,470.30L471.99,470.30L471.99,470.30L475.00,470.30L475.00,470.30L478.01,470.30L478.01,470.30L481.03,470.30L481.03,459.48L484.04,459.48L484.04,457.86L487.06,457.86L487.06,454.62L490.07,454.62L490.07,458.94L493.09,458.94L493.09,462.19L496.10,462.19L496.10,464.89L499.12,464.89L499.12,465.97L502.13,465.97L502.13,466.51L505.15,466.51L505.15,470.30L508.16,470.30L508.16,470.30L511.18,470.30L511.18,469.76L514.19,469.76L514.19,469.76L517.21,469.76L517.21,469.76L520.22,469.76L520.22,469.22L523.24,469.22L523.24,468.68L526.25,468.68L526.25,468.14L529.26,468.14L529.26,467.60L532.28,467.60L532.28,466.51L535.29,466.51L535.29,465.43L538.31,465.43L538.31,463.27L541.32,463.27L541.32,461.11L544.34,461.11L544.34,458.40L547.35,458.40L547.35,455.70L550.37,455.70L550.37,451.91L553.38,451.91L553.38,447.59L556.40,447.59L556.40,442.72L559.41,442.72L559.41,437.85L562.43,437.85L562.43,432.44L565.44,432.44L565.44,427.04L568.46,427.04L568.46,421.63L571.47,421.63L571.47,416.22L574.49,416.22L574.49,411.35L577.50,411.35L577.50,407.03L580.51,407.03L580.51,403.78L583.53,403.78L583.53,401.62L586.54,401.62L586.54,400.00L589.56,400.00L589.56,400.54L592.57,400.54L592.57,401.62L595.59,401.62L595.59,404.32L598.60,404.32L598.60,408.11L601.62,408.11L601.62,412.44L604.63,412.44L604.63,417.84L607.65,417.84L607.65,423.79L610.66,423.79L610.66,429.74L613.68,429.74L613.68,435.15L616.69,435.15L616.69,440.56L619.71,440.56L619.71,445.42L622.72,445.42L622.72,449.21L625.74,449.21L625.74,452.45L628.75,452.45L628.75,455.16L631.76,455.16L631.76,457.32L634.78,457.32L634.78,459.48L637.79,459.48L637.79,461.11L640.81,461.11L640.81,462.73L643.82,462.73L643.82,463.81L646.84,463.81L646.84,465.43L649.85,465.43L649.85,466.51L652.87,466.51L652.87,467.60L655.88,467.60L655.88,468.68L658.90,468.68L658.90,469.22L661.91,469.22L661.91,469.22L664.93,469.22L664.93,469.76L667.94,469.76L667.94,470.30L670.96,470.30L670.96,470.30L673.97,470.30L673.97,470.30L676.99,470.30L676.99,470.30L680.00,470.30L680.00,470.30Z" fill="#bd3786" fill-opacity="0.8"/>
<path d="M372.50,470.30L372.50,470.30L375.51,470.30L375.51,470.30L378.53,470.30L378.53,470.30L381.54,470.30L381.54,470.30L384.56,470.30L384.56,470.30L387.57,470.30L387.57,470.30L390.59,470.30L390.59,470.30L393.60,470.30L393.60,470.30L396.62,470.30L396.62,470.30L399.63,470.30L399.63,470.30L402.65,470.30L402.65,470.30L405.66,470.30L405.66,470.30L408.68,470.30L408.68,470.30L411.69,470.30L411.69,470.30L414.71,470.30L414.71,470.30L417.72,470.30L417.72,470.30L420.74,470.30L420.74,470.30L423.75,470.30L423.75,470.30L426.76,470.30L426.76,470.30L429.78,470.30L429.78,470.30L432.79,470.30L432.79,470.30L435.81,470.30L435.81,470.30L438.82,470.30L438.82,470.30L441.84,470.30L441.84,470.30L444.85,470.30L444.85,470.30L447.87,470.30L447.87,470.30L450.88,470.30L450.88,470.30L453.90,470.30L453.90,470.30L456.91,470.30L456.91,470.30L459.93,470.30L459.93,470.30L462.94,470.30L462.94,470.30L465.96,470.30L465.96,470.30L468.97,470.30L468.97,470.30L471.99,470.30L471.99,470.30L475.00,470.30L475.00,470.30L478.01,470.30L478.01,465.43L481.03,465.43L481.03,459.48L484.04,459.48L484.04,457.86L487.06,457.86L487.06,455.16L490.07,455.16L490.07,459.48L493.09,459.48L493.09,464.89L496.10,464.89L496.10,467.06L499.12,467.06L499.12,470.30L502.13,470.30L502.13,470.30L505.15,470.30L505.15,470.30L508.16,470.30L508.16,470.30L511.18,470.30L511.18,470.30L514.19,470.30L514.19,470.30L517.21,470.30L517.21,470.30L520.22,470.30L520.22,469.76L523.24,469.76L523.24,469.76L526.25,469.76L526.25,469.76L529.26,469.76L529.26,469.22L532.28,469.22L532.28,468.68L535.29,468.68L535.29,468.14L538.31,468.14L538.31,467.06L541.32,467.06L541.32,465.43L544.34,465.43L544.34,463.81L547.35,463.81L547.35,461.65L550.37,461.65L550.37,458.94L553.38,458.94L553.38,455.70L556.40,455.70L556.40,451.91L559.41,451.91L559.41,447.59L562.43,447.59L562.43,442.72L565.44,442.72L565.44,437.85L568.46,437.85L568.46,432.44L571.47,432.44L571.47,427.58L574.49,427.58L574.49,422.71L577.50,422.71L577.50,418.38L580.51,418.38L580.51,415.14L583.53,415.14L583.53,412.98L586.54,412.98L586.54,411.35L589.56,411.35L589.56,411.35L592.57,411.35L592.57,412.44L595.59,412.44L595.59,415.14L598.60,415.14L598.60,418.38L601.62,418.38L601.62,422.17L604.63,422.17L604.63,427.04L607.65,427.04L607.65,431.90L610.66,431.90L610.66,436.77L613.68,436.77L613.68,441.64L616.69,441.64L616.69,446.51L619.71,446.51L619.71,450.29L622.72,450.29L622.72,454.08L625.74,454.08L625.74,456.78L628.75,456.78L628.75,458.94L631.76,458.94L631.76,460.57L634.78,460.57L634.78,462.19L637.79,462.19L637.79,463.81L640.81,463.81L640.81,464.89L643.82,464.89L643.82,465.97L646.84,465.97L646.84,467.06L649.85,467.06L649.85,468.14L652.87,468.14L652.87,468.68L655.88,468.68L655.88,469.22L658.90,469.22L658.90,469.76L661.91,469.76L661.91,469.76L664.93,469.76L664.93,469.76L667.94,469.76L667.94,470.30L670.96,470.30L670.96,470.30L673.97,470.30L673.97,470.30L676.99,470.30L676.99,470.30L680.00,470.30L680.00,470.30Z" fill="#9c179e" fill-opacity="0.8"/>
<path d="M372.50,470.30L372.50,470.30L375.51,470.30L375.51,470.30L378.53,470.30L378.53,470.30L381.54,470.30L381.54,470.30L384.56,470.30L384.56,470.30L387.57,470.30L387.57,470.30L390.59,470.30L390.59,470.30L393.60,470.30L393.60,470.30L396.62,470.30L396.62,470.30L399.63,470.30L399.63,470.30L402.65,470.30L402.65,470.30L405.66,470.30L405.66,470.30L408.68,470.30L408.68,470.30L411.69,470.30L411.69,470.30L414.71,470.30L414.71,470.30L417.72,470.30L417.72,470.30L420.74,470.30L420.74,470.30L423.75,470.30L423.75,470.30L426.76,470.30L426.76,470.30L429.78,470.30L429.78,470.30L432.79,470.30L432.79,470.30L435.81,470.30L435.81,470.30L438.82,470.30L438.82,470.30L441.84,470.30L441.84,470.30L444.85,470.30L444.85,470.30L447.87,470.30L447.87,470.30L450.88,470.30L450.88,470.30L453.90,470.30L453.90,470.30L456.91,470.30L456.91,470.30L459.93,470.30L459.93,470.30L462.94,470.30L462.94,470.30L465.96,470.30L465.96,470.30L468.97,470.30L468.97,470.30L471.99,470.30L471.99,470.30L475.00,470.30L475.00,467.06L478.01,467.06L478.01,465.43L481.03,465.43L481.03,462.19L484.04,462.19L484.04,460.57L487.06,460.57L487.06,458.40L490.07,458.40L490.07,462.19L493.09,462.19L493.09,467.06L496.10,467.06L496.10,470.30L499.12,470.30L499.12,470.30L502.13,470.30L502.13,470.30L505.15,470.30L505.15,470.30L508.16,470.30L508.16,470.30L511.18,470.30L511.18,470.30L514.19,470.30L514.19,470.30L517.21,470.30L517.21,470.30L520.22,470.30L520.22,470.30L523.24,470.30L523.24,470.30L526.25,470.30L526.25,470.30L529.26,470.30L529.26,470.30L532.28,470.30L532.28,469.76L535.29,469.76L535.29,469.76L538.31,469.76L538.31,469.22L541.32,469.22L541.32,468.68L544.34,468.68L544.34,468.14L547.35,468.14L547.35,467.06L550.37,467.06L550.37,465.43L553.38,465.43L553.38,463.27L556.40,463.27L556.40,460.57L559.41,460.57L559.41,457.32L562.43,457.32L562.43,453.54L565.44,453.54L565.44,449.21L568.46,449.21L568.46,444.34L571.47,444.34L571.47,439.48L574.49,439.48L574.49,434.07L577.50,434.07L577.50,429.74L580.51,429.74L580.51,425.96L583.53,425.96L583.53,423.25L586.54,423.25L586.54,422.17L589.56,422.17L589.56,422.17L592.57,422.17L592.57,423.25L595.59,423.25L595.59,425.96L598.60,425.96L598.60,429.74L601.62,429.74L601.62,434.07L604.63,434.07L604.63,438.39L607.65,438.39L607.65,443.26L610.66,443.26L610.66,448.13L613.68,448.13L613.68,452.45L616.69,452.45L616.69,456.24L619.71,456.24L619.71,458.94L622.72,458.94L622.72,461.65L625.74,461.65L625.74,463.27L628.75,463.27L628.75,464.89L631.76,464.89L631.76,465.97L634.78,465.97L634.78,467.06L637.79,467.06L637.79,467.60L640.81,467.60L640.81,468.14L643.82,468.14L643.82,468.68L646.84,468.68L646.84,469.22L649.85,469.22L649.85,469.76L652.87,469.76L652.87,469.76L655.88,469.76L655.88,469.76L658.90,469.76L658.90,470.30L661.91,470.30L661.91,470.30L664.93,470.30L664.93,470.30L667.94,470.30L667.94,470.30L670.96,470.30L670.96,470.30L673.97,470.30L673.97,470.30L676.99,470.30L676.99,470.30L680.00,470.30L680.00,470.30Z" fill="#7201a8" fill-opacity="0.8"/>
<path d="M372.50,470.30L372.50,470.30L375.51,470.30L375.51,470.30L378.53,470.30L378.53,470.30L381.54,470.30L381.54,470.30L384.56,470.30L384.56,470.30L387.57,470.30L387.57,470.30L390.59,470.30L390.59,470.30L393.60,470.30L393.60,470.30L396.62,470.30L396.62,470.30L399.63,470.30L399.63,470.30L402.65,470.30L402.65,470.30L405.66,470.30L405.66,470.30L408.68,470.30L408.68,470.30L411.69,470.30L411.69,470.30L414.71,470.30L414.71,470.30L417.72,470.30L417.72,470.30L420.74,470.30L420.74,470.30L423.75,470.30L423.75,470.30L426.76,470.30L426.76,470.30L429.78,470.30L429.78,470.30L432.79,470.30L432.79,470.30L435.81,470.30L435.81,470.30L438.82,470.30L438.82,470.30L441.84,470.30L441.84,470.30L444.85,470.30L444.85,470.30L447.87,470.30L447.87,470.30L450.88,470.30L450.88,470.30L453.90,470.30L453.90,470.30L456.91,470.30L456.91,470.30L459.93,470.30L459.93,470.30L462.94,470.30L462.94,470.30L465.96,470.30L465.96,470.30L468.97,470.30L468.97,470.30L471.99,470.30L471.99,470.30L475.00,470.30L475.00,467.60L478.01,467.60L478.01,467.06L481.03,467.06L481.03,465.97L484.04,465.97L484.04,464.89L487.06,464.89L487.06,463.81L490.07,463.81L490.07,465.97L493.09,465.97L493.09,470.30L496.10,470.30L496.10,470.30L499.12,470.30L499.12,470.30L502.13,470.30L502.13,470.30L505.15,470.30L505.15,470.30L508.16,470.30L508.16,470.30L511.18,470.30L511.18,470.30L514.19,470.30L514.19,470.30L517.21,470.30L517.21,470.30L520.22,470.30L520.22,470.30L523.24,470.30L523.24,470.30L526.25,470.30L526.25,470.30L529.26,470.30L529.26,470.30L532.28,470.30L532.28,470.30L535.29,470.30L535.29,470.30L538.31,470.30L538.31,470.30L541.32,470.30L541.32,470.30L544.34,470.30L544.34,470.30L547.35,470.30L547.35,469.76L550.37,469.76L550.37,469.76L553.38,469.76L553.38,468.68L556.40,468.68L556.40,467.60L559.41,467.60L559.41,465.97L562.43,465.97L562.43,463.27L565.44,463.27L565.44,460.03L568.46,460.03L568.46,455.70L571.47,455.70L571.47,450.29L574.49,450.29L574.49,444.88L577.50,444.88L577.50,438.93L580.51,438.93L580.51,434.07L583.53,434.07L583.53,430.82L586.54,430.82L586.54,429.20L589.56,429.20L589.56,430.28L592.57,430.28L592.57,432.44L595.59,432.44L595.59,436.23L598.60,436.23L598.60,441.10L601.62,441.10L601.62,446.51L604.63,446.51L604.63,451.37L607.65,451.37L607.65,456.24L610.66,456.24L610.66,460.03L613.68,460.03L613.68,462.73L616.69,462.73L616.69,464.35L619.71,464.35L619.71,465.97L622.72,465.97L622.72,467.06L625.74,467.06L625.74,468.14L628.75,468.14L628.75,468.68L631.76,468.68L631.76,469.22L634.78,469.22L634.78,469.22L637.79,469.22L637.79,469.76L640.81,469.76L640.81,469.76L643.82,469.76L643.82,469.76L646.84,469.76L646.84,470.30L649.85,470.30L649.85,470.30L652.87,470.30L652.87,470.30L655.88,470.30L655.88,470.30L658.90,470.30L658.90,470.30L661.91,470.30L661.91,470.30L664.93,470.30L664.93,470.30L667.94,470.30L667.94,470.30L670.96,470.30L670.96,470.30L673.97,470.30L673.97,470.30L676.99,470.30L676.99,470.30L680.00,470.30L680.00,470.30Z" fill="#46039f" fill-opacity="0.8"/>
<path d="M372.50,470.30L372.50,470.30L375.51,470.30L375.51,470.30L378.53,470.30L378.53,470.30L381.54,470.30L381.54,470.30L384.56,470.30L384.56,470.30L387.57,470.30L387.57,470.30L390.59,470.30L390.59,470.30L393.60,470.30L393.60,470.30L396.62,470.30L396.62,470.30L399.63,470.30L399.63,470.30L402.65,470.30L402.65,470.30L405.66,470.30L405.66,470.30L408.68,470.30L408.68,470.30L411.69,470.30L411.69,470.30L414.71,470.30L414.71,470.30L417.72,470.30L417.72,470.30L420.74,470.30L420.74,470.30L423.75,470.30L423.75,470.30L426.76,470.30L426.76,470.30L429.78,470.30L429.78,470.30L432.79,470.30L432.79,470.30L435.81,470.30L435.81,470.30L438.82,470.30L438.82,470.30L441.84,470.30L441.84,470.30L444.85,470.30L444.85,470.30L447.87,470.30L447.87,470.30L450.88,470.30L450.88,468.14L453.90,468.14L453.90,468.14L456.91,468.14L456.91,470.30L459.93,470.30L459.93,468.14L462.94,468.14L462.94,468.14L465.96,468.14L465.96,469.22L468.97,469.22L468.97,470.30L471.99,470.30L471.99,470.30L475.00,470.30L475.00,468.68L478.01,468.68L478.01,468.68L481.03,468.68L481.03,468.68L484.04,468.68L484.04,470.30L487.06,470.30L487.06,470.30L490.07,470.30L490.07,470.30L493.09,470.30L493.09,470.30L496.10,470.30L496.10,470.30L499.12,470.30L499.12,470.30L502.13,470.30L502.13,470.30L505.15,470.30L505.15,470.30L508.16,470.30L508.16,470.30L511.18,470.30L511.18,470.30L514.19,470.30L514.19,470.30L517.21,470.30L517.21,470.30L520.22,470.30L520.22,470.30L523.24,470.30L523.24,470.30L526.25,470.30L526.25,470.30L529.26,470.30L529.26,470.30L532.28,470.30L532.28,470.30L535.29,470.30L535.29,470.30L538.31,470.30L538.31,470.30L541.32,470.30L541.32,470.30L544.34,470.30L544.34,470.30L547.35,470.30L547.35,470.30L550.37,470.30L550.37,470.30L553.38,470.30L553.38,470.30L556.40,470.30L556.40,470.30L559.41,470.30L559.41,470.30L562.43,470.30L562.43,469.76L565.44,469.76L565.44,469.76L568.46,469.76L568.46,468.68L571.47,468.68L571.47,466.51L574.49,466.51L574.49,463.81L577.50,463.81L577.50,459.48L580.51,459.48L580.51,454.62L583.53,454.62L583.53,449.75L586.54,449.75L586.54,447.05L589.56,447.05L589.56,447.05L592.57,447.05L592.57,448.67L595.59,448.67L595.59,451.37L598.60,451.37L598.60,454.62L601.62,454.62L601.62,458.40L604.63,458.40L604.63,461.65L607.65,461.65L607.65,463.81L610.66,463.81L610.66,465.43L613.68,465.43L613.68,466.51L616.69,466.51L616.69,467.60L619.71,467.60L619.71,468.14L622.72,468.14L622.72,468.68L625.74,468.68L625.74,469.22L628.75,469.22L628.75,469.76L631.76,469.76L631.76,469.76L634.78,469.76L634.78,469.76L637.79,469.76L637.79,469.76L640.81,469.76L640.81,470.30L643.82,470.30L643.82,470.30L646.84,470.30L646.84,470.30L649.85,470.30L649.85,470.30L652.87,470.30L652.87,470.30L655.88,470.30L655.88,470.30L658.90,470.30L658.90,470.30L661.91,470.30L661.91,470.30L664.93,470.30L664.93,470.30L667.94,470.30L667.94,470.30L670.96,470.30L670.96,470.30L673.97,470.30L673.97,470.30L676.99,470.30L676.99,470.30L680.00,470.30L680.00,470.30Z" fill="#0d0887" fill-opacity="0.8"/>
<line x1="544.34" y1="470.30" x2="544.34" y2="264.80" stroke="#000" stroke-width="1.2" stroke-dasharray="3.59 1.55"/>
</g>
<rect x="372.50" y="264.80" width="307.50" height="205.50" fill="none" stroke="#3a3a3a" stroke-width="0.9"/>
<line x1="408.68" y1="470.30" x2="408.68" y2="472.60" stroke="#3a3a3a" stroke-width="0.9"/>
<text x="408.68" y="481.80" font-size="9.80" text-anchor="middle">−20</text>
<line x1="453.90" y1="470.30" x2="453.90" y2="472.60" stroke="#3a3a3a" stroke-width="0.9"/>
<text x="453.90" y="481.80" font-size="9.80" text-anchor="middle">−15</text>
<line x1="499.12" y1="470.30" x2="499.12" y2="472.60" stroke="#3a3a3a" stroke-width="0.9"/>
<text x="499.12" y="481.80" font-size="9.80" text-anchor="middle">−10</text>
<line x1="544.34" y1="470.30" x2="544.34" y2="472.60" stroke="#3a3a3a" stroke-width="0.9"/>
<text x="544.34" y="481.80" font-size="9.80" text-anchor="middle">−5</text>
<line x1="589.56" y1="470.30" x2="589.56" y2="472.60" stroke="#3a3a3a" stroke-width="0.9"/>
<text x="589.56" y="481.80" font-size="9.80" text-anchor="middle">0</text>
<line x1="634.78" y1="470.30" x2="634.78" y2="472.60" stroke="#3a3a3a" stroke-width="0.9"/>
<text x="634.78" y="481.80" font-size="9.80" text-anchor="middle">5</text>
<line x1="680.00" y1="470.30" x2="680.00" y2="472.60" stroke="#3a3a3a" stroke-width="0.9"/>
<text x="680.00" y="481.80" font-size="9.80" text-anchor="middle">10</text>
<line x1="370.20" y1="470.30" x2="372.50" y2="470.30" stroke="#3a3a3a" stroke-width="0.9"/>
<text x="368.30" y="473.60" font-size="9.80" text-anchor="end">0</text>
<line x1="370.20" y1="443.26" x2="372.50" y2="443.26" stroke="#3a3a3a" stroke-width="0.9"/>
<text x="368.30" y="446.56" font-size="9.80" text-anchor="end">50</text>
<line x1="370.20" y1="416.22" x2="372.50" y2="416.22" stroke="#3a3a3a" stroke-width="0.9"/>
<text x="368.30" y="419.52" font-size="9.80" text-anchor="end">100</text>
<line x1="370.20" y1="389.18" x2="372.50" y2="389.18" stroke="#3a3a3a" stroke-width="0.9"/>
<text x="368.30" y="392.48" font-size="9.80" text-anchor="end">150</text>
<line x1="370.20" y1="362.14" x2="372.50" y2="362.14" stroke="#3a3a3a" stroke-width="0.9"/>
<text x="368.30" y="365.44" font-size="9.80" text-anchor="end">200</text>
<line x1="370.20" y1="335.10" x2="372.50" y2="335.10" stroke="#3a3a3a" stroke-width="0.9"/>
<text x="368.30" y="338.40" font-size="9.80" text-anchor="end">250</text>
<line x1="370.20" y1="308.06" x2="372.50" y2="308.06" stroke="#3a3a3a" stroke-width="0.9"/>
<text x="368.30" y="311.36" font-size="9.80" text-anchor="end">300</text>
<line x1="370.20" y1="281.02" x2="372.50" y2="281.02" stroke="#3a3a3a" stroke-width="0.9"/>
<text x="368.30" y="284.32" font-size="9.80" text-anchor="end">350</text>
<text x="525.85" y="260.30" font-size="10.00" text-anchor="middle" textLength="168.40" lengthAdjust="spacingAndGlyphs">(d) critical region (<tspan font-style="italic">θ</tspan> = arctan(2))</text>
<text x="499.28" y="493.00" font-size="10.40" textLength="14.34" lengthAdjust="spacingAndGlyphs">log</text>
<text x="514.11" y="494.60" font-size="7.90" textLength="8.79" lengthAdjust="spacingAndGlyphs">10</text>
<text x="524.97" y="493.00" font-size="10.60" textLength="2.76" lengthAdjust="spacingAndGlyphs">(</text>
<text x="527.28" y="493.00" font-size="10.40" font-style="italic" textLength="6.14" lengthAdjust="spacingAndGlyphs">λ</text>
<text x="533.61" y="494.70" font-size="7.90" textLength="15.69" lengthAdjust="spacingAndGlyphs">QGT</text>
<text x="549.47" y="493.00" font-size="10.60" textLength="2.86" lengthAdjust="spacingAndGlyphs">)</text>
<rect x="376.80" y="268.90" width="111.70" height="125.50" rx="2.2" fill="#ffffff" fill-opacity="0.8" stroke="#d0d0d0" stroke-width="0.8"/>
<rect x="379.80" y="272.55" width="17.1" height="6.35" fill="#f0f921" fill-opacity="0.8"/>
<text x="403.70" y="278.50" font-size="8.60" text-anchor="start" textLength="81.60" lengthAdjust="spacingAndGlyphs"><tspan font-style="italic">α</tspan> = 20, <tspan font-family='"Liberation Serif", serif' font-style="italic">I</tspan>=4.06e-06</text>
<rect x="379.80" y="284.85" width="17.1" height="6.35" fill="#fdca26" fill-opacity="0.8"/>
<text x="403.70" y="290.80" font-size="8.60" text-anchor="start" textLength="81.60" lengthAdjust="spacingAndGlyphs"><tspan font-style="italic">α</tspan> = 18, <tspan font-family='"Liberation Serif", serif' font-style="italic">I</tspan>=2.86e-05</text>
<rect x="379.80" y="297.15" width="17.1" height="6.35" fill="#fb9f3a" fill-opacity="0.8"/>
<text x="403.70" y="303.10" font-size="8.60" text-anchor="start" textLength="81.60" lengthAdjust="spacingAndGlyphs"><tspan font-style="italic">α</tspan> = 16, <tspan font-family='"Liberation Serif", serif' font-style="italic">I</tspan>=5.56e-05</text>
<rect x="379.80" y="309.45" width="17.1" height="6.35" fill="#ed7953" fill-opacity="0.8"/>
<text x="403.70" y="315.40" font-size="8.60" text-anchor="start" textLength="81.60" lengthAdjust="spacingAndGlyphs"><tspan font-style="italic">α</tspan> = 14, <tspan font-family='"Liberation Serif", serif' font-style="italic">I</tspan>=2.23e-04</text>
<rect x="379.80" y="321.75" width="17.1" height="6.35" fill="#d8576b" fill-opacity="0.8"/>
<text x="403.70" y="327.70" font-size="8.60" text-anchor="start" textLength="81.60" lengthAdjust="spacingAndGlyphs"><tspan font-style="italic">α</tspan> = 12, <tspan font-family='"Liberation Serif", serif' font-style="italic">I</tspan>=8.87e-04</text>
<rect x="379.80" y="334.05" width="17.1" height="6.35" fill="#bd3786" fill-opacity="0.8"/>
<text x="403.70" y="340.00" font-size="8.60" text-anchor="start" textLength="81.60" lengthAdjust="spacingAndGlyphs"><tspan font-style="italic">α</tspan> = 10, <tspan font-family='"Liberation Serif", serif' font-style="italic">I</tspan>=1.74e-03</text>
<rect x="379.80" y="346.35" width="17.1" height="6.35" fill="#9c179e" fill-opacity="0.8"/>
<text x="403.70" y="352.30" font-size="8.60" text-anchor="start" textLength="76.40" lengthAdjust="spacingAndGlyphs"><tspan font-style="italic">α</tspan> = 8, <tspan font-family='"Liberation Serif", serif' font-style="italic">I</tspan>=4.62e-03</text>
<rect x="379.80" y="358.65" width="17.1" height="6.35" fill="#7201a8" fill-opacity="0.8"/>
<text x="403.70" y="364.60" font-size="8.60" text-anchor="start" textLength="76.40" lengthAdjust="spacingAndGlyphs"><tspan font-style="italic">α</tspan> = 6, <tspan font-family='"Liberation Serif", serif' font-style="italic">I</tspan>=1.28e-02</text>
<rect x="379.80" y="370.95" width="17.1" height="6.35" fill="#46039f" fill-opacity="0.8"/>
<text x="403.70" y="376.90" font-size="8.60" text-anchor="start" textLength="76.40" lengthAdjust="spacingAndGlyphs"><tspan font-style="italic">α</tspan> = 4, <tspan font-family='"Liberation Serif", serif' font-style="italic">I</tspan>=3.14e-02</text>
<rect x="379.80" y="383.25" width="17.1" height="6.35" fill="#0d0887" fill-opacity="0.8"/>
<text x="403.70" y="389.20" font-size="8.60" text-anchor="start" textLength="76.40" lengthAdjust="spacingAndGlyphs"><tspan font-style="italic">α</tspan> = 2, <tspan font-family='"Liberation Serif", serif' font-style="italic">I</tspan>=1.14e-01</text>
<rect x="566.20" y="271.00" width="107.40" height="71.70" fill="#ffffff"/>
<clipPath id="iclipd"><rect x="566.20" y="271.00" width="107.40" height="71.70"/></clipPath>
<g clip-path="url(#iclipd)">
<path d="M566.20,342.70L566.20,305.06L567.25,305.06L567.25,305.06L568.31,305.06L568.31,305.06L569.36,305.06L569.36,305.06L570.41,305.06L570.41,305.06L571.46,305.06L571.46,305.06L572.52,305.06L572.52,305.06L573.57,305.06L573.57,305.06L574.62,305.06L574.62,305.06L575.68,305.06L575.68,305.06L576.73,305.06L576.73,305.06L577.78,305.06L577.78,305.06L578.84,305.06L578.84,305.06L579.89,305.06L579.89,305.06L580.94,305.06L580.94,305.06L581.99,305.06L581.99,305.06L583.05,305.06L583.05,305.06L584.10,305.06L584.10,305.06L585.15,305.06L585.15,305.06L586.21,305.06L586.21,305.06L587.26,305.06L587.26,305.06L588.31,305.06L588.31,305.06L589.36,305.06L589.36,305.06L590.42,305.06L590.42,305.06L591.47,305.06L591.47,305.06L592.52,305.06L592.52,305.06L593.58,305.06L593.58,305.06L594.63,305.06L594.63,305.06L595.68,305.06L595.68,305.06L596.74,305.06L596.74,305.06L597.79,305.06L597.79,305.06L598.84,305.06L598.84,305.06L599.89,305.06L599.89,305.06L600.95,305.06L600.95,305.06L602.00,305.06L602.00,305.06L603.05,305.06L603.05,305.06L604.11,305.06L604.11,305.06L605.16,305.06L605.16,305.28L606.21,305.28L606.21,305.78L607.26,305.78L607.26,306.40L608.32,306.40L608.32,306.59L609.37,306.59L609.37,306.87L610.42,306.87L610.42,307.15L611.48,307.15L611.48,307.16L612.53,307.16L612.53,307.34L613.58,307.34L613.58,307.36L614.64,307.36L614.64,307.39L615.69,307.39L615.69,307.45L616.74,307.45L616.74,307.54L617.79,307.54L617.79,307.67L618.85,307.67L618.85,307.84L619.90,307.84L619.90,308.05L620.95,308.05L620.95,308.29L622.01,308.29L622.01,308.58L623.06,308.58L623.06,308.91L624.11,308.91L624.11,309.30L625.16,309.30L625.16,309.74L626.22,309.74L626.22,310.27L627.27,310.27L627.27,310.86L628.32,310.86L628.32,311.55L629.38,311.55L629.38,312.31L630.43,312.31L630.43,313.19L631.48,313.19L631.48,314.19L632.54,314.19L632.54,315.32L633.59,315.32L633.59,316.58L634.64,316.58L634.64,317.96L635.69,317.96L635.69,319.45L636.75,319.45L636.75,321.06L637.80,321.06L637.80,322.75L638.85,322.75L638.85,324.51L639.91,324.51L639.91,326.32L640.96,326.32L640.96,328.16L642.01,328.16L642.01,330.00L643.06,330.00L643.06,331.80L644.12,331.80L644.12,333.49L645.17,333.49L645.17,335.04L646.22,335.04L646.22,336.44L647.28,336.44L647.28,337.64L648.33,337.64L648.33,338.66L649.38,338.66L649.38,339.49L650.44,339.49L650.44,340.15L651.49,340.15L651.49,340.68L652.54,340.68L652.54,341.11L653.59,341.11L653.59,341.45L654.65,341.45L654.65,341.72L655.70,341.72L655.70,341.93L656.75,341.93L656.75,342.11L657.81,342.11L657.81,342.25L658.86,342.25L658.86,342.36L659.91,342.36L659.91,342.46L660.96,342.46L660.96,342.53L662.02,342.53L662.02,342.59L663.07,342.59L663.07,342.63L664.12,342.63L664.12,342.65L665.18,342.65L665.18,342.67L666.23,342.67L666.23,342.68L667.28,342.68L667.28,342.69L668.34,342.69L668.34,342.70L669.39,342.70L669.39,342.70L670.44,342.70L670.44,342.70L671.49,342.70L671.49,342.70L672.55,342.70L672.55,342.70L673.60,342.70L673.60,342.70Z" fill="#f0f921" fill-opacity="0.8"/>
<path d="M566.20,342.70L566.20,308.82L567.25,308.82L567.25,308.82L568.31,308.82L568.31,308.82L569.36,308.82L569.36,308.82L570.41,308.82L570.41,308.82L571.46,308.82L571.46,308.82L572.52,308.82L572.52,308.82L573.57,308.82L573.57,308.82L574.62,308.82L574.62,308.82L575.68,308.82L575.68,308.82L576.73,308.82L576.73,308.82L577.78,308.82L577.78,308.82L578.84,308.82L578.84,308.82L579.89,308.82L579.89,308.82L580.94,308.82L580.94,308.82L581.99,308.82L581.99,308.82L583.05,308.82L583.05,308.82L584.10,308.82L584.10,308.82L585.15,308.82L585.15,308.82L586.21,308.82L586.21,308.82L587.26,308.82L587.26,308.82L588.31,308.82L588.31,308.82L589.36,308.82L589.36,308.82L590.42,308.82L590.42,308.82L591.47,308.82L591.47,308.82L592.52,308.82L592.52,308.82L593.58,308.82L593.58,308.82L594.63,308.82L594.63,308.82L595.68,308.82L595.68,308.82L596.74,308.82L596.74,308.82L597.79,308.82L597.79,308.82L598.84,308.82L598.84,308.82L599.89,308.82L599.89,308.82L600.95,308.82L600.95,308.82L602.00,308.82L602.00,308.82L603.05,308.82L603.05,308.82L604.11,308.82L604.11,308.82L605.16,308.82L605.16,309.00L606.21,309.00L606.21,309.38L607.26,309.38L607.26,309.85L608.32,309.85L608.32,310.08L609.37,310.08L609.37,310.44L610.42,310.44L610.42,310.78L611.48,310.78L611.48,310.96L612.53,310.96L612.53,311.23L613.58,311.23L613.58,311.24L614.64,311.24L614.64,311.25L615.69,311.25L615.69,311.28L616.74,311.28L616.74,311.33L617.79,311.33L617.79,311.40L618.85,311.40L618.85,311.50L619.90,311.50L619.90,311.62L620.95,311.62L620.95,311.78L622.01,311.78L622.01,311.99L623.06,311.99L623.06,312.23L624.11,312.23L624.11,312.51L625.16,312.51L625.16,312.84L626.22,312.84L626.22,313.23L627.27,313.23L627.27,313.68L628.32,313.68L628.32,314.20L629.38,314.20L629.38,314.82L630.43,314.82L630.43,315.55L631.48,315.55L631.48,316.38L632.54,316.38L632.54,317.33L633.59,317.33L633.59,318.40L634.64,318.40L634.64,319.58L635.69,319.58L635.69,320.86L636.75,320.86L636.75,322.24L637.80,322.24L637.80,323.71L638.85,323.71L638.85,325.26L639.91,325.26L639.91,326.86L640.96,326.86L640.96,328.48L642.01,328.48L642.01,330.11L643.06,330.11L643.06,331.72L644.12,331.72L644.12,333.27L645.17,333.27L645.17,334.70L646.22,334.70L646.22,336.01L647.28,336.01L647.28,337.17L648.33,337.17L648.33,338.17L649.38,338.17L649.38,339.00L650.44,339.00L650.44,339.69L651.49,339.69L651.49,340.26L652.54,340.26L652.54,340.73L653.59,340.73L653.59,341.11L654.65,341.11L654.65,341.43L655.70,341.43L655.70,341.69L656.75,341.69L656.75,341.90L657.81,341.90L657.81,342.08L658.86,342.08L658.86,342.22L659.91,342.22L659.91,342.34L660.96,342.34L660.96,342.44L662.02,342.44L662.02,342.52L663.07,342.52L663.07,342.57L664.12,342.57L664.12,342.62L665.18,342.62L665.18,342.65L666.23,342.65L666.23,342.66L667.28,342.66L667.28,342.68L668.34,342.68L668.34,342.69L669.39,342.69L669.39,342.70L670.44,342.70L670.44,342.70L671.49,342.70L671.49,342.70L672.55,342.70L672.55,342.70L673.60,342.70L673.60,342.70Z" fill="#fdca26" fill-opacity="0.8"/>
<path d="M566.20,342.70L566.20,312.59L567.25,312.59L567.25,312.59L568.31,312.59L568.31,312.59L569.36,312.59L569.36,312.59L570.41,312.59L570.41,312.59L571.46,312.59L571.46,312.59L572.52,312.59L572.52,312.59L573.57,312.59L573.57,312.59L574.62,312.59L574.62,312.59L575.68,312.59L575.68,312.59L576.73,312.59L576.73,312.59L577.78,312.59L577.78,312.59L578.84,312.59L578.84,312.59L579.89,312.59L579.89,312.59L580.94,312.59L580.94,312.59L581.99,312.59L581.99,312.59L583.05,312.59L583.05,312.59L584.10,312.59L584.10,312.59L585.15,312.59L585.15,312.59L586.21,312.59L586.21,312.59L587.26,312.59L587.26,312.59L588.31,312.59L588.31,312.59L589.36,312.59L589.36,312.59L590.42,312.59L590.42,312.59L591.47,312.59L591.47,312.59L592.52,312.59L592.52,312.59L593.58,312.59L593.58,312.59L594.63,312.59L594.63,312.59L595.68,312.59L595.68,312.59L596.74,312.59L596.74,312.59L597.79,312.59L597.79,312.59L598.84,312.59L598.84,312.59L599.89,312.59L599.89,312.59L600.95,312.59L600.95,312.59L602.00,312.59L602.00,312.59L603.05,312.59L603.05,312.59L604.11,312.59L604.11,312.59L605.16,312.59L605.16,312.73L606.21,312.73L606.21,312.97L607.26,312.97L607.26,313.30L608.32,313.30L608.32,313.56L609.37,313.56L609.37,313.93L610.42,313.93L610.42,314.30L611.48,314.30L611.48,314.50L612.53,314.50L612.53,314.78L613.58,314.78L613.58,314.94L614.64,314.94L614.64,314.95L615.69,314.95L615.69,314.97L616.74,314.97L616.74,314.99L617.79,314.99L617.79,315.02L618.85,315.02L618.85,315.07L619.90,315.07L619.90,315.12L620.95,315.12L620.95,315.19L622.01,315.19L622.01,315.29L623.06,315.29L623.06,315.42L624.11,315.42L624.11,315.58L625.16,315.58L625.16,315.79L626.22,315.79L626.22,316.05L627.27,316.05L627.27,316.37L628.32,316.37L628.32,316.76L629.38,316.76L629.38,317.23L630.43,317.23L630.43,317.78L631.48,317.78L631.48,318.42L632.54,318.42L632.54,319.16L633.59,319.16L633.59,319.99L634.64,319.99L634.64,320.92L635.69,320.92L635.69,321.95L636.75,321.95L636.75,323.06L637.80,323.06L637.80,324.25L638.85,324.25L638.85,325.50L639.91,325.50L639.91,326.80L640.96,326.80L640.96,328.13L642.01,328.13L642.01,329.48L643.06,329.48L643.06,330.82L644.12,330.82L644.12,332.13L645.17,332.13L645.17,333.38L646.22,333.38L646.22,334.57L647.28,334.57L647.28,335.67L648.33,335.67L648.33,336.67L649.38,336.67L649.38,337.56L650.44,337.56L650.44,338.34L651.49,338.34L651.49,339.02L652.54,339.02L652.54,339.60L653.59,339.60L653.59,340.11L654.65,340.11L654.65,340.54L655.70,340.54L655.70,340.92L656.75,340.92L656.75,341.25L657.81,341.25L657.81,341.53L658.86,341.53L658.86,341.77L659.91,341.77L659.91,341.98L660.96,341.98L660.96,342.16L662.02,342.16L662.02,342.30L663.07,342.30L663.07,342.42L664.12,342.42L664.12,342.51L665.18,342.51L665.18,342.57L666.23,342.57L666.23,342.62L667.28,342.62L667.28,342.65L668.34,342.65L668.34,342.68L669.39,342.68L669.39,342.69L670.44,342.69L670.44,342.70L671.49,342.70L671.49,342.70L672.55,342.70L672.55,342.70L673.60,342.70L673.60,342.70Z" fill="#fb9f3a" fill-opacity="0.8"/>
<path d="M566.20,342.70L566.20,316.35L567.25,316.35L567.25,316.35L568.31,316.35L568.31,316.35L569.36,316.35L569.36,316.35L570.41,316.35L570.41,316.35L571.46,316.35L571.46,316.35L572.52,316.35L572.52,316.35L573.57,316.35L573.57,316.35L574.62,316.35L574.62,316.35L575.68,316.35L575.68,316.35L576.73,316.35L576.73,316.35L577.78,316.35L577.78,316.35L578.84,316.35L578.84,316.35L579.89,316.35L579.89,316.35L580.94,316.35L580.94,316.35L581.99,316.35L581.99,316.35L583.05,316.35L583.05,316.35L584.10,316.35L584.10,316.35L585.15,316.35L585.15,316.35L586.21,316.35L586.21,316.35L587.26,316.35L587.26,316.35L588.31,316.35L588.31,316.35L589.36,316.35L589.36,316.35L590.42,316.35L590.42,316.35L591.47,316.35L591.47,316.35L592.52,316.35L592.52,316.35L593.58,316.35L593.58,316.35L594.63,316.35L594.63,316.35L595.68,316.35L595.68,316.35L596.74,316.35L596.74,316.35L597.79,316.35L597.79,316.35L598.84,316.35L598.84,316.35L599.89,316.35L599.89,316.35L600.95,316.35L600.95,316.35L602.00,316.35L602.00,316.35L603.05,316.35L603.05,316.35L604.11,316.35L604.11,316.35L605.16,316.35L605.16,316.49L606.21,316.49L606.21,316.69L607.26,316.69L607.26,316.96L608.32,316.96L608.32,317.22L609.37,317.22L609.37,317.47L610.42,317.47L610.42,317.69L611.48,317.69L611.48,317.94L612.53,317.94L612.53,318.28L613.58,318.28L613.58,318.50L614.64,318.50L614.64,318.55L615.69,318.55L615.69,318.56L616.74,318.56L616.74,318.57L617.79,318.57L617.79,318.59L618.85,318.59L618.85,318.61L619.90,318.61L619.90,318.65L620.95,318.65L620.95,318.70L622.01,318.70L622.01,318.77L623.06,318.77L623.06,318.86L624.11,318.86L624.11,318.98L625.16,318.98L625.16,319.13L626.22,319.13L626.22,319.32L627.27,319.32L627.27,319.56L628.32,319.56L628.32,319.86L629.38,319.86L629.38,320.22L630.43,320.22L630.43,320.65L631.48,320.65L631.48,321.15L632.54,321.15L632.54,321.73L633.59,321.73L633.59,322.40L634.64,322.40L634.64,323.15L635.69,323.15L635.69,323.98L636.75,323.98L636.75,324.89L637.80,324.89L637.80,325.86L638.85,325.86L638.85,326.90L639.91,326.90L639.91,327.98L640.96,327.98L640.96,329.10L642.01,329.10L642.01,330.23L643.06,330.23L643.06,331.36L644.12,331.36L644.12,332.48L645.17,332.48L645.17,333.56L646.22,333.56L646.22,334.58L647.28,334.58L647.28,335.56L648.33,335.56L648.33,336.46L649.38,336.46L649.38,337.28L650.44,337.28L650.44,338.01L651.49,338.01L651.49,338.67L652.54,338.67L652.54,339.24L653.59,339.24L653.59,339.75L654.65,339.75L654.65,340.20L655.70,340.20L655.70,340.60L656.75,340.60L656.75,340.95L657.81,340.95L657.81,341.26L658.86,341.26L658.86,341.54L659.91,341.54L659.91,341.79L660.96,341.79L660.96,342.01L662.02,342.01L662.02,342.19L663.07,342.19L663.07,342.33L664.12,342.33L664.12,342.44L665.18,342.44L665.18,342.53L666.23,342.53L666.23,342.60L667.28,342.60L667.28,342.64L668.34,342.64L668.34,342.68L669.39,342.68L669.39,342.69L670.44,342.69L670.44,342.70L671.49,342.70L671.49,342.70L672.55,342.70L672.55,342.70L673.60,342.70L673.60,342.70Z" fill="#ed7953" fill-opacity="0.8"/>
<path d="M566.20,342.70L566.20,320.11L567.25,320.11L567.25,320.11L568.31,320.11L568.31,320.11L569.36,320.11L569.36,320.11L570.41,320.11L570.41,320.11L571.46,320.11L571.46,320.11L572.52,320.11L572.52,320.11L573.57,320.11L573.57,320.11L574.62,320.11L574.62,320.11L575.68,320.11L575.68,320.11L576.73,320.11L576.73,320.11L577.78,320.11L577.78,320.11L578.84,320.11L578.84,320.11L579.89,320.11L579.89,320.11L580.94,320.11L580.94,320.11L581.99,320.11L581.99,320.11L583.05,320.11L583.05,320.11L584.10,320.11L584.10,320.11L585.15,320.11L585.15,320.11L586.21,320.11L586.21,320.11L587.26,320.11L587.26,320.11L588.31,320.11L588.31,320.11L589.36,320.11L589.36,320.11L590.42,320.11L590.42,320.11L591.47,320.11L591.47,320.11L592.52,320.11L592.52,320.11L593.58,320.11L593.58,320.11L594.63,320.11L594.63,320.11L595.68,320.11L595.68,320.11L596.74,320.11L596.74,320.11L597.79,320.11L597.79,320.11L598.84,320.11L598.84,320.11L599.89,320.11L599.89,320.11L600.95,320.11L600.95,320.11L602.00,320.11L602.00,320.11L603.05,320.11L603.05,320.11L604.11,320.11L604.11,320.11L605.16,320.11L605.16,320.26L606.21,320.26L606.21,320.45L607.26,320.45L607.26,320.69L608.32,320.69L608.32,320.86L609.37,320.86L609.37,321.02L610.42,321.02L610.42,321.14L611.48,321.14L611.48,321.25L612.53,321.25L612.53,321.36L613.58,321.36L613.58,321.43L614.64,321.43L614.64,321.44L615.69,321.44L615.69,321.44L616.74,321.44L616.74,321.45L617.79,321.45L617.79,321.47L618.85,321.47L618.85,321.49L619.90,321.49L619.90,321.52L620.95,321.52L620.95,321.57L622.01,321.57L622.01,321.62L623.06,321.62L623.06,321.70L624.11,321.70L624.11,321.81L625.16,321.81L625.16,321.94L626.22,321.94L626.22,322.11L627.27,322.11L627.27,322.32L628.32,322.32L628.32,322.59L629.38,322.59L629.38,322.91L630.43,322.91L630.43,323.31L631.48,323.31L631.48,323.77L632.54,323.77L632.54,324.31L633.59,324.31L633.59,324.92L634.64,324.92L634.64,325.62L635.69,325.62L635.69,326.39L636.75,326.39L636.75,327.24L637.80,327.24L637.80,328.15L638.85,328.15L638.85,329.13L639.91,329.13L639.91,330.15L640.96,330.15L640.96,331.20L642.01,331.20L642.01,332.27L643.06,332.27L643.06,333.34L644.12,333.34L644.12,334.39L645.17,334.39L645.17,335.39L646.22,335.39L646.22,336.35L647.28,336.35L647.28,337.23L648.33,337.23L648.33,338.03L649.38,338.03L649.38,338.74L650.44,338.74L650.44,339.36L651.49,339.36L651.49,339.89L652.54,339.89L652.54,340.35L653.59,340.35L653.59,340.74L654.65,340.74L654.65,341.08L655.70,341.08L655.70,341.37L656.75,341.37L656.75,341.62L657.81,341.62L657.81,341.83L658.86,341.83L658.86,342.02L659.91,342.02L659.91,342.17L660.96,342.17L660.96,342.31L662.02,342.31L662.02,342.42L663.07,342.42L663.07,342.50L664.12,342.50L664.12,342.57L665.18,342.57L665.18,342.61L666.23,342.61L666.23,342.64L667.28,342.64L667.28,342.67L668.34,342.67L668.34,342.68L669.39,342.68L669.39,342.69L670.44,342.69L670.44,342.70L671.49,342.70L671.49,342.70L672.55,342.70L672.55,342.70L673.60,342.70L673.60,342.70Z" fill="#d8576b" fill-opacity="0.8"/>
<path d="M566.20,342.70L566.20,323.88L567.25,323.88L567.25,323.88L568.31,323.88L568.31,323.88L569.36,323.88L569.36,323.88L570.41,323.88L570.41,323.88L571.46,323.88L571.46,323.88L572.52,323.88L572.52,323.88L573.57,323.88L573.57,323.88L574.62,323.88L574.62,323.88L575.68,323.88L575.68,323.88L576.73,323.88L576.73,323.88L577.78,323.88L577.78,323.88L578.84,323.88L578.84,323.88L579.89,323.88L579.89,323.88L580.94,323.88L580.94,323.88L581.99,323.88L581.99,323.88L583.05,323.88L583.05,323.88L584.10,323.88L584.10,323.88L585.15,323.88L585.15,323.88L586.21,323.88L586.21,323.88L587.26,323.88L587.26,323.88L588.31,323.88L588.31,323.88L589.36,323.88L589.36,323.88L590.42,323.88L590.42,323.88L591.47,323.88L591.47,323.88L592.52,323.88L592.52,323.88L593.58,323.88L593.58,323.88L594.63,323.88L594.63,323.88L595.68,323.88L595.68,323.88L596.74,323.88L596.74,323.88L597.79,323.88L597.79,323.88L598.84,323.88L598.84,323.88L599.89,323.88L599.89,323.88L600.95,323.88L600.95,323.88L602.00,323.88L602.00,323.88L603.05,323.88L603.05,323.88L604.11,323.88L604.11,323.88L605.16,323.88L605.16,324.02L606.21,324.02L606.21,324.19L607.26,324.19L607.26,324.40L608.32,324.40L608.32,324.55L609.37,324.55L609.37,324.66L610.42,324.66L610.42,324.73L611.48,324.73L611.48,324.78L612.53,324.78L612.53,324.83L613.58,324.83L613.58,324.83L614.64,324.83L614.64,324.83L615.69,324.83L615.69,324.84L616.74,324.84L616.74,324.85L617.79,324.85L617.79,324.86L618.85,324.86L618.85,324.87L619.90,324.87L619.90,324.89L620.95,324.89L620.95,324.92L622.01,324.92L622.01,324.96L623.06,324.96L623.06,325.01L624.11,325.01L624.11,325.07L625.16,325.07L625.16,325.17L626.22,325.17L626.22,325.29L627.27,325.29L627.27,325.45L628.32,325.45L628.32,325.64L629.38,325.64L629.38,325.88L630.43,325.88L630.43,326.19L631.48,326.19L631.48,326.55L632.54,326.55L632.54,326.98L633.59,326.98L633.59,327.49L634.64,327.49L634.64,328.06L635.69,328.06L635.69,328.71L636.75,328.71L636.75,329.43L637.80,329.43L637.80,330.21L638.85,330.21L638.85,331.05L639.91,331.05L639.91,331.94L640.96,331.94L640.96,332.85L642.01,332.85L642.01,333.79L643.06,333.79L643.06,334.71L644.12,334.71L644.12,335.63L645.17,335.63L645.17,336.50L646.22,336.50L646.22,337.33L647.28,337.33L647.28,338.10L648.33,338.10L648.33,338.80L649.38,338.80L649.38,339.41L650.44,339.41L650.44,339.95L651.49,339.95L651.49,340.42L652.54,340.42L652.54,340.82L653.59,340.82L653.59,341.15L654.65,341.15L654.65,341.43L655.70,341.43L655.70,341.66L656.75,341.66L656.75,341.87L657.81,341.87L657.81,342.04L658.86,342.04L658.86,342.18L659.91,342.18L659.91,342.30L660.96,342.30L660.96,342.41L662.02,342.41L662.02,342.49L663.07,342.49L663.07,342.56L664.12,342.56L664.12,342.61L665.18,342.61L665.18,342.64L666.23,342.64L666.23,342.66L667.28,342.66L667.28,342.68L668.34,342.68L668.34,342.69L669.39,342.69L669.39,342.70L670.44,342.70L670.44,342.70L671.49,342.70L671.49,342.70L672.55,342.70L672.55,342.70L673.60,342.70L673.60,342.70Z" fill="#bd3786" fill-opacity="0.8"/>
<path d="M566.20,342.70L566.20,327.64L567.25,327.64L567.25,327.64L568.31,327.64L568.31,327.64L569.36,327.64L569.36,327.64L570.41,327.64L570.41,327.64L571.46,327.64L571.46,327.64L572.52,327.64L572.52,327.64L573.57,327.64L573.57,327.64L574.62,327.64L574.62,327.64L575.68,327.64L575.68,327.64L576.73,327.64L576.73,327.64L577.78,327.64L577.78,327.64L578.84,327.64L578.84,327.64L579.89,327.64L579.89,327.64L580.94,327.64L580.94,327.64L581.99,327.64L581.99,327.64L583.05,327.64L583.05,327.64L584.10,327.64L584.10,327.64L585.15,327.64L585.15,327.64L586.21,327.64L586.21,327.64L587.26,327.64L587.26,327.64L588.31,327.64L588.31,327.64L589.36,327.64L589.36,327.64L590.42,327.64L590.42,327.64L591.47,327.64L591.47,327.64L592.52,327.64L592.52,327.64L593.58,327.64L593.58,327.64L594.63,327.64L594.63,327.64L595.68,327.64L595.68,327.64L596.74,327.64L596.74,327.64L597.79,327.64L597.79,327.64L598.84,327.64L598.84,327.64L599.89,327.64L599.89,327.64L600.95,327.64L600.95,327.64L602.00,327.64L602.00,327.64L603.05,327.64L603.05,327.64L604.11,327.64L604.11,327.71L605.16,327.71L605.16,327.85L606.21,327.85L606.21,328.02L607.26,328.02L607.26,328.23L608.32,328.23L608.32,328.37L609.37,328.37L609.37,328.45L610.42,328.45L610.42,328.49L611.48,328.49L611.48,328.49L612.53,328.49L612.53,328.49L613.58,328.49L613.58,328.49L614.64,328.49L614.64,328.49L615.69,328.49L615.69,328.49L616.74,328.49L616.74,328.49L617.79,328.49L617.79,328.49L618.85,328.49L618.85,328.50L619.90,328.50L619.90,328.50L620.95,328.50L620.95,328.51L622.01,328.51L622.01,328.53L623.06,328.53L623.06,328.55L624.11,328.55L624.11,328.58L625.16,328.58L625.16,328.62L626.22,328.62L626.22,328.69L627.27,328.69L627.27,328.77L628.32,328.77L628.32,328.89L629.38,328.89L629.38,329.04L630.43,329.04L630.43,329.24L631.48,329.24L631.48,329.49L632.54,329.49L632.54,329.80L633.59,329.80L633.59,330.17L634.64,330.17L634.64,330.61L635.69,330.61L635.69,331.12L636.75,331.12L636.75,331.69L637.80,331.69L637.80,332.34L638.85,332.34L638.85,333.04L639.91,333.04L639.91,333.78L640.96,333.78L640.96,334.55L642.01,334.55L642.01,335.35L643.06,335.35L643.06,336.15L644.12,336.15L644.12,336.93L645.17,336.93L645.17,337.67L646.22,337.67L646.22,338.37L647.28,338.37L647.28,339.02L648.33,339.02L648.33,339.61L649.38,339.61L649.38,340.12L650.44,340.12L650.44,340.58L651.49,340.58L651.49,340.96L652.54,340.96L652.54,341.28L653.59,341.28L653.59,341.55L654.65,341.55L654.65,341.77L655.70,341.77L655.70,341.96L656.75,341.96L656.75,342.11L657.81,342.11L657.81,342.24L658.86,342.24L658.86,342.35L659.91,342.35L659.91,342.44L660.96,342.44L660.96,342.51L662.02,342.51L662.02,342.57L663.07,342.57L663.07,342.61L664.12,342.61L664.12,342.64L665.18,342.64L665.18,342.66L666.23,342.66L666.23,342.68L667.28,342.68L667.28,342.69L668.34,342.69L668.34,342.69L669.39,342.69L669.39,342.70L670.44,342.70L670.44,342.70L671.49,342.70L671.49,342.70L672.55,342.70L672.55,342.70L673.60,342.70L673.60,342.70Z" fill="#9c179e" fill-opacity="0.8"/>
<path d="M566.20,342.70L566.20,331.41L567.25,331.41L567.25,331.41L568.31,331.41L568.31,331.41L569.36,331.41L569.36,331.41L570.41,331.41L570.41,331.41L571.46,331.41L571.46,331.41L572.52,331.41L572.52,331.41L573.57,331.41L573.57,331.41L574.62,331.41L574.62,331.41L575.68,331.41L575.68,331.41L576.73,331.41L576.73,331.41L577.78,331.41L577.78,331.41L578.84,331.41L578.84,331.41L579.89,331.41L579.89,331.41L580.94,331.41L580.94,331.41L581.99,331.41L581.99,331.41L583.05,331.41L583.05,331.41L584.10,331.41L584.10,331.41L585.15,331.41L585.15,331.41L586.21,331.41L586.21,331.41L587.26,331.41L587.26,331.41L588.31,331.41L588.31,331.41L589.36,331.41L589.36,331.41L590.42,331.41L590.42,331.41L591.47,331.41L591.47,331.41L592.52,331.41L592.52,331.41L593.58,331.41L593.58,331.41L594.63,331.41L594.63,331.41L595.68,331.41L595.68,331.41L596.74,331.41L596.74,331.41L597.79,331.41L597.79,331.41L598.84,331.41L598.84,331.41L599.89,331.41L599.89,331.41L600.95,331.41L600.95,331.41L602.00,331.41L602.00,331.41L603.05,331.41L603.05,331.45L604.11,331.45L604.11,331.52L605.16,331.52L605.16,331.64L606.21,331.64L606.21,331.78L607.26,331.78L607.26,331.95L608.32,331.95L608.32,332.07L609.37,332.07L609.37,332.12L610.42,332.12L610.42,332.12L611.48,332.12L611.48,332.12L612.53,332.12L612.53,332.12L613.58,332.12L613.58,332.12L614.64,332.12L614.64,332.12L615.69,332.12L615.69,332.12L616.74,332.12L616.74,332.12L617.79,332.12L617.79,332.12L618.85,332.12L618.85,332.12L619.90,332.12L619.90,332.12L620.95,332.12L620.95,332.12L622.01,332.12L622.01,332.12L623.06,332.12L623.06,332.13L624.11,332.13L624.11,332.13L625.16,332.13L625.16,332.15L626.22,332.15L626.22,332.17L627.27,332.17L627.27,332.20L628.32,332.20L628.32,332.25L629.38,332.25L629.38,332.32L630.43,332.32L630.43,332.42L631.48,332.42L631.48,332.56L632.54,332.56L632.54,332.75L633.59,332.75L633.59,332.99L634.64,332.99L634.64,333.30L635.69,333.30L635.69,333.67L636.75,333.67L636.75,334.12L637.80,334.12L637.80,334.64L638.85,334.64L638.85,335.22L639.91,335.22L639.91,335.86L640.96,335.86L640.96,336.54L642.01,336.54L642.01,337.24L643.06,337.24L643.06,337.93L644.12,337.93L644.12,338.61L645.17,338.61L645.17,339.25L646.22,339.25L646.22,339.84L647.28,339.84L647.28,340.36L648.33,340.36L648.33,340.82L649.38,340.82L649.38,341.21L650.44,341.21L650.44,341.53L651.49,341.53L651.49,341.79L652.54,341.79L652.54,341.99L653.59,341.99L653.59,342.15L654.65,342.15L654.65,342.28L655.70,342.28L655.70,342.38L656.75,342.38L656.75,342.46L657.81,342.46L657.81,342.52L658.86,342.52L658.86,342.57L659.91,342.57L659.91,342.61L660.96,342.61L660.96,342.64L662.02,342.64L662.02,342.66L663.07,342.66L663.07,342.68L664.12,342.68L664.12,342.68L665.18,342.68L665.18,342.69L666.23,342.69L666.23,342.70L667.28,342.70L667.28,342.70L668.34,342.70L668.34,342.70L669.39,342.70L669.39,342.70L670.44,342.70L670.44,342.70L671.49,342.70L671.49,342.70L672.55,342.70L672.55,342.70L673.60,342.70L673.60,342.70Z" fill="#7201a8" fill-opacity="0.8"/>
<path d="M566.20,342.70L566.20,335.17L567.25,335.17L567.25,335.17L568.31,335.17L568.31,335.17L569.36,335.17L569.36,335.17L570.41,335.17L570.41,335.17L571.46,335.17L571.46,335.17L572.52,335.17L572.52,335.17L573.57,335.17L573.57,335.17L574.62,335.17L574.62,335.17L575.68,335.17L575.68,335.17L576.73,335.17L576.73,335.17L577.78,335.17L577.78,335.17L578.84,335.17L578.84,335.17L579.89,335.17L579.89,335.17L580.94,335.17L580.94,335.17L581.99,335.17L581.99,335.17L583.05,335.17L583.05,335.17L584.10,335.17L584.10,335.17L585.15,335.17L585.15,335.17L586.21,335.17L586.21,335.17L587.26,335.17L587.26,335.17L588.31,335.17L588.31,335.17L589.36,335.17L589.36,335.17L590.42,335.17L590.42,335.17L591.47,335.17L591.47,335.17L592.52,335.17L592.52,335.17L593.58,335.17L593.58,335.17L594.63,335.17L594.63,335.17L595.68,335.17L595.68,335.17L596.74,335.17L596.74,335.17L597.79,335.17L597.79,335.17L598.84,335.17L598.84,335.17L599.89,335.17L599.89,335.17L600.95,335.17L600.95,335.17L602.00,335.17L602.00,335.17L603.05,335.17L603.05,335.21L604.11,335.21L604.11,335.26L605.16,335.26L605.16,335.33L606.21,335.33L606.21,335.41L607.26,335.41L607.26,335.51L608.32,335.51L608.32,335.57L609.37,335.57L609.37,335.57L610.42,335.57L610.42,335.57L611.48,335.57L611.48,335.57L612.53,335.57L612.53,335.57L613.58,335.57L613.58,335.57L614.64,335.57L614.64,335.57L615.69,335.57L615.69,335.57L616.74,335.57L616.74,335.57L617.79,335.57L617.79,335.57L618.85,335.57L618.85,335.57L619.90,335.57L619.90,335.57L620.95,335.57L620.95,335.57L622.01,335.57L622.01,335.57L623.06,335.57L623.06,335.57L624.11,335.57L624.11,335.57L625.16,335.57L625.16,335.57L626.22,335.57L626.22,335.57L627.27,335.57L627.27,335.57L628.32,335.57L628.32,335.58L629.38,335.58L629.38,335.59L630.43,335.59L630.43,335.61L631.48,335.61L631.48,335.65L632.54,335.65L632.54,335.72L633.59,335.72L633.59,335.82L634.64,335.82L634.64,335.98L635.69,335.98L635.69,336.20L636.75,336.20L636.75,336.50L637.80,336.50L637.80,336.89L638.85,336.89L638.85,337.36L639.91,337.36L639.91,337.91L640.96,337.91L640.96,338.50L642.01,338.50L642.01,339.12L643.06,339.12L643.06,339.73L644.12,339.73L644.12,340.30L645.17,340.30L645.17,340.81L646.22,340.81L646.22,341.25L647.28,341.25L647.28,341.61L648.33,341.61L648.33,341.90L649.38,341.90L649.38,342.11L650.44,342.11L650.44,342.27L651.49,342.27L651.49,342.38L652.54,342.38L652.54,342.47L653.59,342.47L653.59,342.54L654.65,342.54L654.65,342.59L655.70,342.59L655.70,342.62L656.75,342.62L656.75,342.64L657.81,342.64L657.81,342.66L658.86,342.66L658.86,342.68L659.91,342.68L659.91,342.68L660.96,342.68L660.96,342.69L662.02,342.69L662.02,342.70L663.07,342.70L663.07,342.70L664.12,342.70L664.12,342.70L665.18,342.70L665.18,342.70L666.23,342.70L666.23,342.70L667.28,342.70L667.28,342.70L668.34,342.70L668.34,342.70L669.39,342.70L669.39,342.70L670.44,342.70L670.44,342.70L671.49,342.70L671.49,342.70L672.55,342.70L672.55,342.70L673.60,342.70L673.60,342.70Z" fill="#46039f" fill-opacity="0.8"/>
<path d="M566.20,342.70L566.20,338.94L567.25,338.94L567.25,338.94L568.31,338.94L568.31,338.94L569.36,338.94L569.36,338.94L570.41,338.94L570.41,338.94L571.46,338.94L571.46,338.94L572.52,338.94L572.52,338.94L573.57,338.94L573.57,338.94L574.62,338.94L574.62,338.94L575.68,338.94L575.68,338.94L576.73,338.94L576.73,338.94L577.78,338.94L577.78,338.94L578.84,338.94L578.84,338.94L579.89,338.94L579.89,338.94L580.94,338.94L580.94,338.94L581.99,338.94L581.99,338.94L583.05,338.94L583.05,338.94L584.10,338.94L584.10,338.94L585.15,338.94L585.15,338.94L586.21,338.94L586.21,338.94L587.26,338.94L587.26,338.94L588.31,338.94L588.31,338.94L589.36,338.94L589.36,338.94L590.42,338.94L590.42,338.94L591.47,338.94L591.47,338.94L592.52,338.94L592.52,338.94L593.58,338.94L593.58,338.94L594.63,338.94L594.63,338.97L595.68,338.97L595.68,339.01L596.74,339.01L596.74,339.01L597.79,339.01L597.79,339.05L598.84,339.05L598.84,339.08L599.89,339.08L599.89,339.10L600.95,339.10L600.95,339.10L602.00,339.10L602.00,339.10L603.05,339.10L603.05,339.13L604.11,339.13L604.11,339.16L605.16,339.16L605.16,339.18L606.21,339.18L606.21,339.18L607.26,339.18L607.26,339.18L608.32,339.18L608.32,339.18L609.37,339.18L609.37,339.18L610.42,339.18L610.42,339.18L611.48,339.18L611.48,339.18L612.53,339.18L612.53,339.18L613.58,339.18L613.58,339.18L614.64,339.18L614.64,339.18L615.69,339.18L615.69,339.18L616.74,339.18L616.74,339.18L617.79,339.18L617.79,339.18L618.85,339.18L618.85,339.18L619.90,339.18L619.90,339.18L620.95,339.18L620.95,339.18L622.01,339.18L622.01,339.18L623.06,339.18L623.06,339.18L624.11,339.18L624.11,339.18L625.16,339.18L625.16,339.18L626.22,339.18L626.22,339.18L627.27,339.18L627.27,339.18L628.32,339.18L628.32,339.18L629.38,339.18L629.38,339.18L630.43,339.18L630.43,339.18L631.48,339.18L631.48,339.18L632.54,339.18L632.54,339.18L633.59,339.18L633.59,339.19L634.64,339.19L634.64,339.20L635.69,339.20L635.69,339.23L636.75,339.23L636.75,339.29L637.80,339.29L637.80,339.40L638.85,339.40L638.85,339.58L639.91,339.58L639.91,339.85L640.96,339.85L640.96,340.20L642.01,340.20L642.01,340.59L643.06,340.59L643.06,340.98L644.12,340.98L644.12,341.35L645.17,341.35L645.17,341.67L646.22,341.67L646.22,341.93L647.28,341.93L647.28,342.13L648.33,342.13L648.33,342.28L649.38,342.28L649.38,342.39L650.44,342.39L650.44,342.47L651.49,342.47L651.49,342.54L652.54,342.54L652.54,342.58L653.59,342.58L653.59,342.62L654.65,342.62L654.65,342.65L655.70,342.65L655.70,342.66L656.75,342.66L656.75,342.67L657.81,342.67L657.81,342.68L658.86,342.68L658.86,342.69L659.91,342.69L659.91,342.70L660.96,342.70L660.96,342.70L662.02,342.70L662.02,342.70L663.07,342.70L663.07,342.70L664.12,342.70L664.12,342.70L665.18,342.70L665.18,342.70L666.23,342.70L666.23,342.70L667.28,342.70L667.28,342.70L668.34,342.70L668.34,342.70L669.39,342.70L669.39,342.70L670.44,342.70L670.44,342.70L671.49,342.70L671.49,342.70L672.55,342.70L672.55,342.70L673.60,342.70L673.60,342.70Z" fill="#0d0887" fill-opacity="0.8"/>
<line x1="626.22" y1="342.70" x2="626.22" y2="271.00" stroke="#000" stroke-width="1.2" stroke-dasharray="3.59 1.55"/>
</g>
<rect x="566.20" y="271.00" width="107.40" height="71.70" fill="none" stroke="#3a3a3a" stroke-width="0.8"/>
<line x1="578.84" y1="342.70" x2="578.84" y2="344.70" stroke="#3a3a3a" stroke-width="0.8"/>
<text x="578.84" y="352.30" font-size="7.40" text-anchor="middle">−20</text>
<line x1="610.42" y1="342.70" x2="610.42" y2="344.70" stroke="#3a3a3a" stroke-width="0.8"/>
<text x="610.42" y="352.30" font-size="7.40" text-anchor="middle">−10</text>
<line x1="642.01" y1="342.70" x2="642.01" y2="344.70" stroke="#3a3a3a" stroke-width="0.8"/>
<text x="642.01" y="352.30" font-size="7.40" text-anchor="middle">0</text>
<line x1="673.60" y1="342.70" x2="673.60" y2="344.70" stroke="#3a3a3a" stroke-width="0.8"/>
<text x="673.60" y="352.30" font-size="7.40" text-anchor="middle">10</text>
<line x1="564.20" y1="324.78" x2="566.20" y2="324.78" stroke="#3a3a3a" stroke-width="0.8"/>
<text x="562.00" y="327.28" font-size="7.40" text-anchor="end">2000</text>
<line x1="564.20" y1="306.85" x2="566.20" y2="306.85" stroke="#3a3a3a" stroke-width="0.8"/>
<text x="562.00" y="309.35" font-size="7.40" text-anchor="end">4000</text>
<line x1="564.20" y1="288.93" x2="566.20" y2="288.93" stroke="#3a3a3a" stroke-width="0.8"/>
<text x="562.00" y="291.43" font-size="7.40" text-anchor="end">6000</text>
<line x1="564.20" y1="271.00" x2="566.20" y2="271.00" stroke="#3a3a3a" stroke-width="0.8"/>
<text x="562.00" y="273.50" font-size="7.40" text-anchor="end">8000</text>
<text x="596.74" y="362.80" font-size="9.14" textLength="12.60" lengthAdjust="spacingAndGlyphs">log</text>
<text x="609.77" y="364.21" font-size="6.94" textLength="7.73" lengthAdjust="spacingAndGlyphs">10</text>
<text x="619.32" y="362.80" font-size="9.32" textLength="2.43" lengthAdjust="spacingAndGlyphs">(</text>
<text x="621.35" y="362.80" font-size="9.14" font-style="italic" textLength="5.40" lengthAdjust="spacingAndGlyphs">λ</text>
<text x="626.91" y="364.29" font-size="6.94" textLength="13.79" lengthAdjust="spacingAndGlyphs">QGT</text>
<text x="640.86" y="362.80" font-size="9.32" textLength="2.51" lengthAdjust="spacingAndGlyphs">)</text>
<text transform="translate(541.00,306.85) rotate(-90)" font-size="8.3" text-anchor="middle" textLength="67.4" lengthAdjust="spacingAndGlyphs">Cumulative occ.</text>
</svg>
</body></html>
